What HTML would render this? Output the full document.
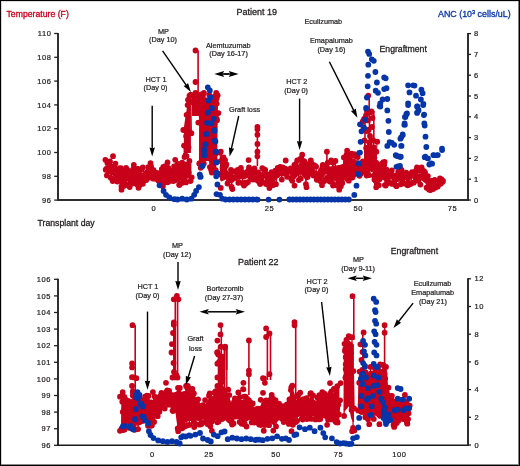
<!DOCTYPE html>
<html><head><meta charset="utf-8"><style>
html,body{margin:0;padding:0;background:#fff;}
body{width:520px;height:466px;overflow:hidden;}
svg{display:block;font-family:"Liberation Sans",sans-serif;will-change:transform;}
</style></head><body>
<svg width="520" height="466" viewBox="0 0 520 466">
<rect x="0" y="0" width="520" height="466" fill="#fff"/>
<line x1="58.00" y1="32.90" x2="58.00" y2="201.00" stroke="#2e2e2e" stroke-width="2.0"/>
<line x1="54.20" y1="200.10" x2="58.00" y2="200.10" stroke="#231f20" stroke-width="1.3"/>
<text x="51.60" y="202.70" font-size="7.5" fill="#231f20" stroke="#231f20" stroke-width="0.22" text-anchor="end" letter-spacing="0.6">96</text>
<line x1="54.20" y1="176.30" x2="58.00" y2="176.30" stroke="#231f20" stroke-width="1.3"/>
<text x="51.60" y="178.90" font-size="7.5" fill="#231f20" stroke="#231f20" stroke-width="0.22" text-anchor="end" letter-spacing="0.6">98</text>
<line x1="54.20" y1="152.50" x2="58.00" y2="152.50" stroke="#231f20" stroke-width="1.3"/>
<text x="51.60" y="155.10" font-size="7.5" fill="#231f20" stroke="#231f20" stroke-width="0.22" text-anchor="end" letter-spacing="0.6">100</text>
<line x1="54.20" y1="128.70" x2="58.00" y2="128.70" stroke="#231f20" stroke-width="1.3"/>
<text x="51.60" y="131.30" font-size="7.5" fill="#231f20" stroke="#231f20" stroke-width="0.22" text-anchor="end" letter-spacing="0.6">102</text>
<line x1="54.20" y1="104.90" x2="58.00" y2="104.90" stroke="#231f20" stroke-width="1.3"/>
<text x="51.60" y="107.50" font-size="7.5" fill="#231f20" stroke="#231f20" stroke-width="0.22" text-anchor="end" letter-spacing="0.6">104</text>
<line x1="54.20" y1="81.10" x2="58.00" y2="81.10" stroke="#231f20" stroke-width="1.3"/>
<text x="51.60" y="83.70" font-size="7.5" fill="#231f20" stroke="#231f20" stroke-width="0.22" text-anchor="end" letter-spacing="0.6">106</text>
<line x1="54.20" y1="57.30" x2="58.00" y2="57.30" stroke="#231f20" stroke-width="1.3"/>
<text x="51.60" y="59.90" font-size="7.5" fill="#231f20" stroke="#231f20" stroke-width="0.22" text-anchor="end" letter-spacing="0.6">108</text>
<line x1="54.20" y1="33.50" x2="58.00" y2="33.50" stroke="#231f20" stroke-width="1.3"/>
<text x="51.60" y="36.10" font-size="7.5" fill="#231f20" stroke="#231f20" stroke-width="0.22" text-anchor="end" letter-spacing="0.6">110</text>
<line x1="57.00" y1="200.00" x2="469.00" y2="200.00" stroke="#2e2e2e" stroke-width="2.0"/>
<line x1="468.00" y1="33.00" x2="468.00" y2="201.00" stroke="#2e2e2e" stroke-width="2.0"/>
<line x1="468.00" y1="200.00" x2="471.00" y2="200.00" stroke="#231f20" stroke-width="1.3"/>
<text x="474.00" y="202.60" font-size="7.5" fill="#231f20" stroke="#231f20" stroke-width="0.22" text-anchor="start" letter-spacing="0.6">0</text>
<line x1="468.00" y1="179.20" x2="471.00" y2="179.20" stroke="#231f20" stroke-width="1.3"/>
<text x="474.00" y="181.80" font-size="7.5" fill="#231f20" stroke="#231f20" stroke-width="0.22" text-anchor="start" letter-spacing="0.6">1</text>
<line x1="468.00" y1="158.40" x2="471.00" y2="158.40" stroke="#231f20" stroke-width="1.3"/>
<text x="474.00" y="161.00" font-size="7.5" fill="#231f20" stroke="#231f20" stroke-width="0.22" text-anchor="start" letter-spacing="0.6">2</text>
<line x1="468.00" y1="137.60" x2="471.00" y2="137.60" stroke="#231f20" stroke-width="1.3"/>
<text x="474.00" y="140.20" font-size="7.5" fill="#231f20" stroke="#231f20" stroke-width="0.22" text-anchor="start" letter-spacing="0.6">3</text>
<line x1="468.00" y1="116.80" x2="471.00" y2="116.80" stroke="#231f20" stroke-width="1.3"/>
<text x="474.00" y="119.40" font-size="7.5" fill="#231f20" stroke="#231f20" stroke-width="0.22" text-anchor="start" letter-spacing="0.6">4</text>
<line x1="468.00" y1="96.00" x2="471.00" y2="96.00" stroke="#231f20" stroke-width="1.3"/>
<text x="474.00" y="98.60" font-size="7.5" fill="#231f20" stroke="#231f20" stroke-width="0.22" text-anchor="start" letter-spacing="0.6">5</text>
<line x1="468.00" y1="75.20" x2="471.00" y2="75.20" stroke="#231f20" stroke-width="1.3"/>
<text x="474.00" y="77.80" font-size="7.5" fill="#231f20" stroke="#231f20" stroke-width="0.22" text-anchor="start" letter-spacing="0.6">6</text>
<line x1="468.00" y1="54.40" x2="471.00" y2="54.40" stroke="#231f20" stroke-width="1.3"/>
<text x="474.00" y="57.00" font-size="7.5" fill="#231f20" stroke="#231f20" stroke-width="0.22" text-anchor="start" letter-spacing="0.6">7</text>
<line x1="468.00" y1="33.60" x2="471.00" y2="33.60" stroke="#231f20" stroke-width="1.3"/>
<text x="474.00" y="36.20" font-size="7.5" fill="#231f20" stroke="#231f20" stroke-width="0.22" text-anchor="start" letter-spacing="0.6">8</text>
<text x="153.80" y="210.60" font-size="7.5" fill="#231f20" stroke="#231f20" stroke-width="0.22" text-anchor="middle" letter-spacing="0.6">0</text>
<text x="269.60" y="210.60" font-size="7.5" fill="#231f20" stroke="#231f20" stroke-width="0.22" text-anchor="middle" letter-spacing="0.6">25</text>
<text x="358.30" y="210.60" font-size="7.5" fill="#231f20" stroke="#231f20" stroke-width="0.22" text-anchor="middle" letter-spacing="0.6">50</text>
<text x="452.40" y="210.60" font-size="7.5" fill="#231f20" stroke="#231f20" stroke-width="0.22" text-anchor="middle" letter-spacing="0.6">75</text>
<line x1="58.00" y1="278.70" x2="58.00" y2="446.00" stroke="#2e2e2e" stroke-width="2.0"/>
<line x1="54.00" y1="445.30" x2="58.00" y2="445.30" stroke="#231f20" stroke-width="1.3"/>
<text x="51.00" y="447.90" font-size="7.5" fill="#231f20" stroke="#231f20" stroke-width="0.22" text-anchor="end" letter-spacing="0.6">96</text>
<line x1="54.00" y1="428.70" x2="58.00" y2="428.70" stroke="#231f20" stroke-width="1.3"/>
<text x="51.00" y="431.30" font-size="7.5" fill="#231f20" stroke="#231f20" stroke-width="0.22" text-anchor="end" letter-spacing="0.6">97</text>
<line x1="54.00" y1="412.10" x2="58.00" y2="412.10" stroke="#231f20" stroke-width="1.3"/>
<text x="51.00" y="414.70" font-size="7.5" fill="#231f20" stroke="#231f20" stroke-width="0.22" text-anchor="end" letter-spacing="0.6">98</text>
<line x1="54.00" y1="395.50" x2="58.00" y2="395.50" stroke="#231f20" stroke-width="1.3"/>
<text x="51.00" y="398.10" font-size="7.5" fill="#231f20" stroke="#231f20" stroke-width="0.22" text-anchor="end" letter-spacing="0.6">99</text>
<line x1="54.00" y1="378.90" x2="58.00" y2="378.90" stroke="#231f20" stroke-width="1.3"/>
<text x="51.00" y="381.50" font-size="7.5" fill="#231f20" stroke="#231f20" stroke-width="0.22" text-anchor="end" letter-spacing="0.6">100</text>
<line x1="54.00" y1="362.30" x2="58.00" y2="362.30" stroke="#231f20" stroke-width="1.3"/>
<text x="51.00" y="364.90" font-size="7.5" fill="#231f20" stroke="#231f20" stroke-width="0.22" text-anchor="end" letter-spacing="0.6">101</text>
<line x1="54.00" y1="345.70" x2="58.00" y2="345.70" stroke="#231f20" stroke-width="1.3"/>
<text x="51.00" y="348.30" font-size="7.5" fill="#231f20" stroke="#231f20" stroke-width="0.22" text-anchor="end" letter-spacing="0.6">102</text>
<line x1="54.00" y1="329.10" x2="58.00" y2="329.10" stroke="#231f20" stroke-width="1.3"/>
<text x="51.00" y="331.70" font-size="7.5" fill="#231f20" stroke="#231f20" stroke-width="0.22" text-anchor="end" letter-spacing="0.6">103</text>
<line x1="54.00" y1="312.50" x2="58.00" y2="312.50" stroke="#231f20" stroke-width="1.3"/>
<text x="51.00" y="315.10" font-size="7.5" fill="#231f20" stroke="#231f20" stroke-width="0.22" text-anchor="end" letter-spacing="0.6">104</text>
<line x1="54.00" y1="295.90" x2="58.00" y2="295.90" stroke="#231f20" stroke-width="1.3"/>
<text x="51.00" y="298.50" font-size="7.5" fill="#231f20" stroke="#231f20" stroke-width="0.22" text-anchor="end" letter-spacing="0.6">105</text>
<line x1="54.00" y1="279.30" x2="58.00" y2="279.30" stroke="#231f20" stroke-width="1.3"/>
<text x="51.00" y="281.90" font-size="7.5" fill="#231f20" stroke="#231f20" stroke-width="0.22" text-anchor="end" letter-spacing="0.6">106</text>
<line x1="57.00" y1="445.20" x2="469.00" y2="445.20" stroke="#1a1a1a" stroke-width="1.6"/>
<line x1="468.00" y1="278.20" x2="468.00" y2="446.00" stroke="#2e2e2e" stroke-width="2.0"/>
<line x1="468.00" y1="445.00" x2="471.00" y2="445.00" stroke="#231f20" stroke-width="1.3"/>
<text x="474.60" y="447.60" font-size="7.5" fill="#231f20" stroke="#231f20" stroke-width="0.22" text-anchor="start" letter-spacing="0.6">0</text>
<line x1="468.00" y1="417.30" x2="471.00" y2="417.30" stroke="#231f20" stroke-width="1.3"/>
<text x="474.60" y="419.90" font-size="7.5" fill="#231f20" stroke="#231f20" stroke-width="0.22" text-anchor="start" letter-spacing="0.6">2</text>
<line x1="468.00" y1="389.60" x2="471.00" y2="389.60" stroke="#231f20" stroke-width="1.3"/>
<text x="474.60" y="392.20" font-size="7.5" fill="#231f20" stroke="#231f20" stroke-width="0.22" text-anchor="start" letter-spacing="0.6">4</text>
<line x1="468.00" y1="361.90" x2="471.00" y2="361.90" stroke="#231f20" stroke-width="1.3"/>
<text x="474.60" y="364.50" font-size="7.5" fill="#231f20" stroke="#231f20" stroke-width="0.22" text-anchor="start" letter-spacing="0.6">6</text>
<line x1="468.00" y1="334.20" x2="471.00" y2="334.20" stroke="#231f20" stroke-width="1.3"/>
<text x="474.60" y="336.80" font-size="7.5" fill="#231f20" stroke="#231f20" stroke-width="0.22" text-anchor="start" letter-spacing="0.6">8</text>
<line x1="468.00" y1="306.50" x2="471.00" y2="306.50" stroke="#231f20" stroke-width="1.3"/>
<text x="474.60" y="309.10" font-size="7.5" fill="#231f20" stroke="#231f20" stroke-width="0.22" text-anchor="start" letter-spacing="0.6">10</text>
<line x1="468.00" y1="278.80" x2="471.00" y2="278.80" stroke="#231f20" stroke-width="1.3"/>
<text x="474.60" y="281.40" font-size="7.5" fill="#231f20" stroke="#231f20" stroke-width="0.22" text-anchor="start" letter-spacing="0.6">12</text>
<text x="152.40" y="457.30" font-size="7.5" fill="#231f20" stroke="#231f20" stroke-width="0.22" text-anchor="middle" letter-spacing="0.6">0</text>
<text x="209.00" y="457.30" font-size="7.5" fill="#231f20" stroke="#231f20" stroke-width="0.22" text-anchor="middle" letter-spacing="0.6">25</text>
<text x="275.90" y="457.30" font-size="7.5" fill="#231f20" stroke="#231f20" stroke-width="0.22" text-anchor="middle" letter-spacing="0.6">50</text>
<text x="338.50" y="457.30" font-size="7.5" fill="#231f20" stroke="#231f20" stroke-width="0.22" text-anchor="middle" letter-spacing="0.6">75</text>
<text x="399.30" y="457.30" font-size="7.5" fill="#231f20" stroke="#231f20" stroke-width="0.22" text-anchor="middle" letter-spacing="0.6">100</text>
<polygon points="105.4,165.7 106.4,165.6 107.4,165.5 108.4,165.2 109.4,164.7 110.4,164.2 111.4,163.9 112.4,163.9 113.4,163.9 114.4,164.7 115.4,166.7 116.4,168.4 117.4,169.5 118.4,170.7 119.4,171.6 120.4,172.0 121.4,172.4 122.4,172.8 123.4,173.2 124.4,173.3 125.4,173.2 126.4,173.1 127.4,173.0 128.4,172.7 129.4,172.2 130.4,171.7 131.4,171.2 132.4,171.0 133.4,171.2 134.4,171.5 135.4,171.8 136.4,172.0 137.4,172.3 138.4,172.6 139.4,172.9 140.4,173.2 141.4,173.3 142.4,173.1 143.4,172.8 144.4,172.6 145.4,172.1 146.4,171.3 147.4,170.6 148.4,169.8 149.4,169.5 150.4,169.6 151.4,169.8 152.4,170.4 153.4,171.5 154.4,172.7 155.4,173.4 156.4,173.4 157.4,173.4 158.4,173.4 159.4,173.2 160.4,172.5 161.4,171.9 162.4,171.3 163.4,170.6 164.4,169.7 165.4,168.9 166.4,168.5 167.4,168.6 168.4,168.7 169.4,168.8 170.4,168.7 171.4,168.0 172.4,167.4 173.4,166.8 174.4,166.5 175.4,166.6 176.4,166.7 177.4,166.8 178.4,166.6 179.4,166.0 180.4,165.3 181.4,164.8 182.4,164.6 183.4,164.4 184.4,164.2 185.4,164.0 186.4,163.9 187.4,163.7 188.4,163.6 189.4,163.5 190.4,163.4 191.4,163.3 191.4,177.5 190.4,177.9 189.4,178.2 188.4,178.5 187.4,178.8 186.4,179.0 185.4,179.3 184.4,179.6 183.4,179.9 182.4,180.2 181.4,180.5 180.4,179.9 179.4,178.7 178.4,177.6 177.4,177.2 176.4,177.5 175.4,177.8 174.4,178.0 173.4,178.2 172.4,178.3 171.4,178.5 170.4,178.6 169.4,178.5 168.4,178.4 167.4,178.3 166.4,178.1 165.4,178.5 164.4,179.1 163.4,179.8 162.4,179.8 161.4,179.1 160.4,178.5 159.4,177.9 158.4,177.2 157.4,176.6 156.4,176.0 155.4,175.5 154.4,175.1 153.4,174.7 152.4,174.3 151.4,174.3 150.4,174.6 149.4,175.0 148.4,175.7 147.4,176.7 146.4,177.7 145.4,178.5 144.4,179.1 143.4,179.7 142.4,180.3 141.4,180.8 140.4,181.1 139.4,181.3 138.4,181.6 137.4,181.6 136.4,181.6 135.4,181.6 134.4,181.6 133.4,181.5 132.4,181.4 131.4,181.3 130.4,181.2 129.4,181.1 128.4,181.2 127.4,181.3 126.4,181.5 125.4,181.6 124.4,181.9 123.4,182.5 122.4,183.1 121.4,183.5 120.4,182.5 119.4,181.5 118.4,180.5 117.4,179.5 116.4,178.5 115.4,177.5 114.4,176.5 113.4,175.7 112.4,175.1 111.4,174.5 110.4,173.8 109.4,173.4 108.4,173.0 107.4,172.6 106.4,172.2 105.4,172.0" fill="#c8001a"/>
<path d="M105.7,169.7L106.2,169.0L106.9,175.4L107.4,162.9L108.3,162.9L109.2,162.9L109.4,171.0L110.0,161.3L110.7,177.7L111.9,168.2L112.4,172.2L113.0,168.9L114.0,179.9L114.3,167.1L115.4,163.6L115.8,179.2L116.3,179.9L117.3,181.6L117.7,173.3L118.6,180.9L119.7,168.2L119.9,170.0L121.0,168.2L121.5,186.5L122.0,185.7L122.9,171.0L123.9,185.9L124.5,174.4L125.2,184.8L126.0,170.8L126.6,184.9L126.8,173.9L127.6,170.1L128.5,174.8L129.2,176.5L129.7,171.1L130.4,182.0L131.6,183.8L132.2,183.5L132.5,174.8L133.2,169.2L134.3,172.1L134.6,172.9L135.3,169.0L136.3,183.0L136.7,184.2L137.6,168.9L138.2,168.9L138.9,171.0L139.8,184.9L140.2,178.5L141.3,169.4L141.5,184.1L142.6,176.4L142.9,183.8L144.1,179.5L144.8,178.7L145.4,173.2L146.0,180.2L146.7,179.5L147.4,172.0L148.2,167.2L148.9,177.6L149.5,175.4L150.0,176.6L151.0,166.1L151.7,168.7L152.6,173.6L152.9,178.5L153.5,170.1L154.4,175.6L155.2,172.7L156.0,178.9L156.4,178.7L157.0,172.9L158.1,179.0L158.5,180.7L159.2,180.9L160.1,181.4L160.9,172.9L161.1,174.8L161.8,169.2L162.7,176.7L163.3,166.8L164.4,166.3L164.6,182.5L165.7,172.6L166.6,178.7L167.0,168.1L167.7,182.3L168.3,167.9L169.1,177.1L169.7,178.2L170.3,180.9L171.0,177.4L172.1,175.4L172.8,174.1L173.3,181.1L174.1,166.4L174.8,175.0L175.7,180.0L176.3,172.8L177.0,179.7L177.5,164.4L178.2,177.0L178.6,163.9L179.5,165.5L180.1,164.5L181.2,178.0L181.7,183.1L182.2,162.6L183.2,167.3L184.0,172.6L184.4,167.5L185.0,181.0L185.9,182.4L186.6,164.5L187.0,173.7L187.9,171.5L188.7,172.4L189.4,161.0L190.4,181.1L190.6,180.8L191.7,177.3" stroke="#c8001a" stroke-width="1.2" fill="none"/>
<path d="M102.8,169.7a2.9,2.9 0 1,0 5.8,0a2.9,2.9 0 1,0 -5.8,0M103.3,169.0a2.9,2.9 0 1,0 5.8,0a2.9,2.9 0 1,0 -5.8,0M104.0,175.4a2.9,2.9 0 1,0 5.8,0a2.9,2.9 0 1,0 -5.8,0M104.5,162.9a2.9,2.9 0 1,0 5.8,0a2.9,2.9 0 1,0 -5.8,0M105.4,162.9a2.9,2.9 0 1,0 5.8,0a2.9,2.9 0 1,0 -5.8,0M106.3,162.9a2.9,2.9 0 1,0 5.8,0a2.9,2.9 0 1,0 -5.8,0M106.5,171.0a2.9,2.9 0 1,0 5.8,0a2.9,2.9 0 1,0 -5.8,0M107.1,161.3a2.9,2.9 0 1,0 5.8,0a2.9,2.9 0 1,0 -5.8,0M107.8,177.7a2.9,2.9 0 1,0 5.8,0a2.9,2.9 0 1,0 -5.8,0M109.0,168.2a2.9,2.9 0 1,0 5.8,0a2.9,2.9 0 1,0 -5.8,0M109.5,172.2a2.9,2.9 0 1,0 5.8,0a2.9,2.9 0 1,0 -5.8,0M110.1,168.9a2.9,2.9 0 1,0 5.8,0a2.9,2.9 0 1,0 -5.8,0M111.1,179.9a2.9,2.9 0 1,0 5.8,0a2.9,2.9 0 1,0 -5.8,0M111.4,167.1a2.9,2.9 0 1,0 5.8,0a2.9,2.9 0 1,0 -5.8,0M112.5,163.6a2.9,2.9 0 1,0 5.8,0a2.9,2.9 0 1,0 -5.8,0M112.9,179.2a2.9,2.9 0 1,0 5.8,0a2.9,2.9 0 1,0 -5.8,0M113.4,179.9a2.9,2.9 0 1,0 5.8,0a2.9,2.9 0 1,0 -5.8,0M114.4,181.6a2.9,2.9 0 1,0 5.8,0a2.9,2.9 0 1,0 -5.8,0M114.8,173.3a2.9,2.9 0 1,0 5.8,0a2.9,2.9 0 1,0 -5.8,0M115.7,180.9a2.9,2.9 0 1,0 5.8,0a2.9,2.9 0 1,0 -5.8,0M116.8,168.2a2.9,2.9 0 1,0 5.8,0a2.9,2.9 0 1,0 -5.8,0M117.0,170.0a2.9,2.9 0 1,0 5.8,0a2.9,2.9 0 1,0 -5.8,0M118.1,168.2a2.9,2.9 0 1,0 5.8,0a2.9,2.9 0 1,0 -5.8,0M118.6,186.5a2.9,2.9 0 1,0 5.8,0a2.9,2.9 0 1,0 -5.8,0M119.1,185.7a2.9,2.9 0 1,0 5.8,0a2.9,2.9 0 1,0 -5.8,0M120.0,171.0a2.9,2.9 0 1,0 5.8,0a2.9,2.9 0 1,0 -5.8,0M121.0,185.9a2.9,2.9 0 1,0 5.8,0a2.9,2.9 0 1,0 -5.8,0M121.6,174.4a2.9,2.9 0 1,0 5.8,0a2.9,2.9 0 1,0 -5.8,0M122.3,184.8a2.9,2.9 0 1,0 5.8,0a2.9,2.9 0 1,0 -5.8,0M123.1,170.8a2.9,2.9 0 1,0 5.8,0a2.9,2.9 0 1,0 -5.8,0M123.7,184.9a2.9,2.9 0 1,0 5.8,0a2.9,2.9 0 1,0 -5.8,0M123.9,173.9a2.9,2.9 0 1,0 5.8,0a2.9,2.9 0 1,0 -5.8,0M124.7,170.1a2.9,2.9 0 1,0 5.8,0a2.9,2.9 0 1,0 -5.8,0M125.6,174.8a2.9,2.9 0 1,0 5.8,0a2.9,2.9 0 1,0 -5.8,0M126.3,176.5a2.9,2.9 0 1,0 5.8,0a2.9,2.9 0 1,0 -5.8,0M126.8,171.1a2.9,2.9 0 1,0 5.8,0a2.9,2.9 0 1,0 -5.8,0M127.5,182.0a2.9,2.9 0 1,0 5.8,0a2.9,2.9 0 1,0 -5.8,0M128.7,183.8a2.9,2.9 0 1,0 5.8,0a2.9,2.9 0 1,0 -5.8,0M129.3,183.5a2.9,2.9 0 1,0 5.8,0a2.9,2.9 0 1,0 -5.8,0M129.6,174.8a2.9,2.9 0 1,0 5.8,0a2.9,2.9 0 1,0 -5.8,0M130.3,169.2a2.9,2.9 0 1,0 5.8,0a2.9,2.9 0 1,0 -5.8,0M131.4,172.1a2.9,2.9 0 1,0 5.8,0a2.9,2.9 0 1,0 -5.8,0M131.7,172.9a2.9,2.9 0 1,0 5.8,0a2.9,2.9 0 1,0 -5.8,0M132.4,169.0a2.9,2.9 0 1,0 5.8,0a2.9,2.9 0 1,0 -5.8,0M133.4,183.0a2.9,2.9 0 1,0 5.8,0a2.9,2.9 0 1,0 -5.8,0M133.8,184.2a2.9,2.9 0 1,0 5.8,0a2.9,2.9 0 1,0 -5.8,0M134.7,168.9a2.9,2.9 0 1,0 5.8,0a2.9,2.9 0 1,0 -5.8,0M135.3,168.9a2.9,2.9 0 1,0 5.8,0a2.9,2.9 0 1,0 -5.8,0M136.0,171.0a2.9,2.9 0 1,0 5.8,0a2.9,2.9 0 1,0 -5.8,0M136.9,184.9a2.9,2.9 0 1,0 5.8,0a2.9,2.9 0 1,0 -5.8,0M137.3,178.5a2.9,2.9 0 1,0 5.8,0a2.9,2.9 0 1,0 -5.8,0M138.4,169.4a2.9,2.9 0 1,0 5.8,0a2.9,2.9 0 1,0 -5.8,0M138.6,184.1a2.9,2.9 0 1,0 5.8,0a2.9,2.9 0 1,0 -5.8,0M139.7,176.4a2.9,2.9 0 1,0 5.8,0a2.9,2.9 0 1,0 -5.8,0M140.0,183.8a2.9,2.9 0 1,0 5.8,0a2.9,2.9 0 1,0 -5.8,0M141.2,179.5a2.9,2.9 0 1,0 5.8,0a2.9,2.9 0 1,0 -5.8,0M141.9,178.7a2.9,2.9 0 1,0 5.8,0a2.9,2.9 0 1,0 -5.8,0M142.5,173.2a2.9,2.9 0 1,0 5.8,0a2.9,2.9 0 1,0 -5.8,0M143.1,180.2a2.9,2.9 0 1,0 5.8,0a2.9,2.9 0 1,0 -5.8,0M143.8,179.5a2.9,2.9 0 1,0 5.8,0a2.9,2.9 0 1,0 -5.8,0M144.5,172.0a2.9,2.9 0 1,0 5.8,0a2.9,2.9 0 1,0 -5.8,0M145.3,167.2a2.9,2.9 0 1,0 5.8,0a2.9,2.9 0 1,0 -5.8,0M146.0,177.6a2.9,2.9 0 1,0 5.8,0a2.9,2.9 0 1,0 -5.8,0M146.6,175.4a2.9,2.9 0 1,0 5.8,0a2.9,2.9 0 1,0 -5.8,0M147.1,176.6a2.9,2.9 0 1,0 5.8,0a2.9,2.9 0 1,0 -5.8,0M148.1,166.1a2.9,2.9 0 1,0 5.8,0a2.9,2.9 0 1,0 -5.8,0M148.8,168.7a2.9,2.9 0 1,0 5.8,0a2.9,2.9 0 1,0 -5.8,0M149.7,173.6a2.9,2.9 0 1,0 5.8,0a2.9,2.9 0 1,0 -5.8,0M150.0,178.5a2.9,2.9 0 1,0 5.8,0a2.9,2.9 0 1,0 -5.8,0M150.6,170.1a2.9,2.9 0 1,0 5.8,0a2.9,2.9 0 1,0 -5.8,0M151.5,175.6a2.9,2.9 0 1,0 5.8,0a2.9,2.9 0 1,0 -5.8,0M152.3,172.7a2.9,2.9 0 1,0 5.8,0a2.9,2.9 0 1,0 -5.8,0M153.1,178.9a2.9,2.9 0 1,0 5.8,0a2.9,2.9 0 1,0 -5.8,0M153.5,178.7a2.9,2.9 0 1,0 5.8,0a2.9,2.9 0 1,0 -5.8,0M154.1,172.9a2.9,2.9 0 1,0 5.8,0a2.9,2.9 0 1,0 -5.8,0M155.2,179.0a2.9,2.9 0 1,0 5.8,0a2.9,2.9 0 1,0 -5.8,0M155.6,180.7a2.9,2.9 0 1,0 5.8,0a2.9,2.9 0 1,0 -5.8,0M156.3,180.9a2.9,2.9 0 1,0 5.8,0a2.9,2.9 0 1,0 -5.8,0M157.2,181.4a2.9,2.9 0 1,0 5.8,0a2.9,2.9 0 1,0 -5.8,0M158.0,172.9a2.9,2.9 0 1,0 5.8,0a2.9,2.9 0 1,0 -5.8,0M158.2,174.8a2.9,2.9 0 1,0 5.8,0a2.9,2.9 0 1,0 -5.8,0M158.9,169.2a2.9,2.9 0 1,0 5.8,0a2.9,2.9 0 1,0 -5.8,0M159.8,176.7a2.9,2.9 0 1,0 5.8,0a2.9,2.9 0 1,0 -5.8,0M160.4,166.8a2.9,2.9 0 1,0 5.8,0a2.9,2.9 0 1,0 -5.8,0M161.5,166.3a2.9,2.9 0 1,0 5.8,0a2.9,2.9 0 1,0 -5.8,0M161.7,182.5a2.9,2.9 0 1,0 5.8,0a2.9,2.9 0 1,0 -5.8,0M162.8,172.6a2.9,2.9 0 1,0 5.8,0a2.9,2.9 0 1,0 -5.8,0M163.7,178.7a2.9,2.9 0 1,0 5.8,0a2.9,2.9 0 1,0 -5.8,0M164.1,168.1a2.9,2.9 0 1,0 5.8,0a2.9,2.9 0 1,0 -5.8,0M164.8,182.3a2.9,2.9 0 1,0 5.8,0a2.9,2.9 0 1,0 -5.8,0M165.4,167.9a2.9,2.9 0 1,0 5.8,0a2.9,2.9 0 1,0 -5.8,0M166.2,177.1a2.9,2.9 0 1,0 5.8,0a2.9,2.9 0 1,0 -5.8,0M166.8,178.2a2.9,2.9 0 1,0 5.8,0a2.9,2.9 0 1,0 -5.8,0M167.4,180.9a2.9,2.9 0 1,0 5.8,0a2.9,2.9 0 1,0 -5.8,0M168.1,177.4a2.9,2.9 0 1,0 5.8,0a2.9,2.9 0 1,0 -5.8,0M169.2,175.4a2.9,2.9 0 1,0 5.8,0a2.9,2.9 0 1,0 -5.8,0M169.9,174.1a2.9,2.9 0 1,0 5.8,0a2.9,2.9 0 1,0 -5.8,0M170.4,181.1a2.9,2.9 0 1,0 5.8,0a2.9,2.9 0 1,0 -5.8,0M171.2,166.4a2.9,2.9 0 1,0 5.8,0a2.9,2.9 0 1,0 -5.8,0M171.9,175.0a2.9,2.9 0 1,0 5.8,0a2.9,2.9 0 1,0 -5.8,0M172.8,180.0a2.9,2.9 0 1,0 5.8,0a2.9,2.9 0 1,0 -5.8,0M173.4,172.8a2.9,2.9 0 1,0 5.8,0a2.9,2.9 0 1,0 -5.8,0M174.1,179.7a2.9,2.9 0 1,0 5.8,0a2.9,2.9 0 1,0 -5.8,0M174.6,164.4a2.9,2.9 0 1,0 5.8,0a2.9,2.9 0 1,0 -5.8,0M175.3,177.0a2.9,2.9 0 1,0 5.8,0a2.9,2.9 0 1,0 -5.8,0M175.7,163.9a2.9,2.9 0 1,0 5.8,0a2.9,2.9 0 1,0 -5.8,0M176.6,165.5a2.9,2.9 0 1,0 5.8,0a2.9,2.9 0 1,0 -5.8,0M177.2,164.5a2.9,2.9 0 1,0 5.8,0a2.9,2.9 0 1,0 -5.8,0M178.3,178.0a2.9,2.9 0 1,0 5.8,0a2.9,2.9 0 1,0 -5.8,0M178.8,183.1a2.9,2.9 0 1,0 5.8,0a2.9,2.9 0 1,0 -5.8,0M179.3,162.6a2.9,2.9 0 1,0 5.8,0a2.9,2.9 0 1,0 -5.8,0M180.3,167.3a2.9,2.9 0 1,0 5.8,0a2.9,2.9 0 1,0 -5.8,0M181.1,172.6a2.9,2.9 0 1,0 5.8,0a2.9,2.9 0 1,0 -5.8,0M181.5,167.5a2.9,2.9 0 1,0 5.8,0a2.9,2.9 0 1,0 -5.8,0M182.1,181.0a2.9,2.9 0 1,0 5.8,0a2.9,2.9 0 1,0 -5.8,0M183.0,182.4a2.9,2.9 0 1,0 5.8,0a2.9,2.9 0 1,0 -5.8,0M183.7,164.5a2.9,2.9 0 1,0 5.8,0a2.9,2.9 0 1,0 -5.8,0M184.1,173.7a2.9,2.9 0 1,0 5.8,0a2.9,2.9 0 1,0 -5.8,0M185.0,171.5a2.9,2.9 0 1,0 5.8,0a2.9,2.9 0 1,0 -5.8,0M185.8,172.4a2.9,2.9 0 1,0 5.8,0a2.9,2.9 0 1,0 -5.8,0M186.5,161.0a2.9,2.9 0 1,0 5.8,0a2.9,2.9 0 1,0 -5.8,0M187.5,181.1a2.9,2.9 0 1,0 5.8,0a2.9,2.9 0 1,0 -5.8,0M187.7,180.8a2.9,2.9 0 1,0 5.8,0a2.9,2.9 0 1,0 -5.8,0M188.8,177.3a2.9,2.9 0 1,0 5.8,0a2.9,2.9 0 1,0 -5.8,0" fill="#c8001a"/>
<polygon points="183.9,127.6 184.9,120.6 185.9,114.5 186.9,108.5 187.9,103.4 188.9,98.4 189.9,97.9 190.9,97.9 190.9,153.1 189.9,153.1 188.9,153.1 187.9,153.1 186.9,153.1 185.9,153.1 184.9,153.1 183.9,153.1" fill="#c8001a"/>
<path d="M184.0,145.6L184.5,157.1L185.4,155.5L186.1,136.2L186.5,156.2L187.6,105.1L188.0,99.8L188.5,147.3L189.5,95.7L190.5,95.9L190.7,94.7L191.4,133.2" stroke="#c8001a" stroke-width="1.2" fill="none"/>
<path d="M181.1,145.6a2.9,2.9 0 1,0 5.8,0a2.9,2.9 0 1,0 -5.8,0M181.6,157.1a2.9,2.9 0 1,0 5.8,0a2.9,2.9 0 1,0 -5.8,0M182.5,155.5a2.9,2.9 0 1,0 5.8,0a2.9,2.9 0 1,0 -5.8,0M183.2,136.2a2.9,2.9 0 1,0 5.8,0a2.9,2.9 0 1,0 -5.8,0M183.6,156.2a2.9,2.9 0 1,0 5.8,0a2.9,2.9 0 1,0 -5.8,0M184.7,105.1a2.9,2.9 0 1,0 5.8,0a2.9,2.9 0 1,0 -5.8,0M185.1,99.8a2.9,2.9 0 1,0 5.8,0a2.9,2.9 0 1,0 -5.8,0M185.6,147.3a2.9,2.9 0 1,0 5.8,0a2.9,2.9 0 1,0 -5.8,0M186.6,95.7a2.9,2.9 0 1,0 5.8,0a2.9,2.9 0 1,0 -5.8,0M187.6,95.9a2.9,2.9 0 1,0 5.8,0a2.9,2.9 0 1,0 -5.8,0M187.8,94.7a2.9,2.9 0 1,0 5.8,0a2.9,2.9 0 1,0 -5.8,0M188.5,133.2a2.9,2.9 0 1,0 5.8,0a2.9,2.9 0 1,0 -5.8,0" fill="#c8001a"/>
<polygon points="192.0,93.0 200.0,93.0 200.0,116.0 192.0,116.0" fill="#c8001a"/>
<polygon points="199.4,97.4 200.4,97.4 201.4,97.4 202.4,97.4 203.4,97.4 204.4,97.4 205.4,97.4 206.4,97.4 207.4,97.4 208.4,97.4 209.4,97.4 210.4,97.4 211.4,97.4 212.4,97.4 213.4,97.4 214.4,97.4 215.4,97.4 216.4,97.4 217.4,97.4 217.4,158.7 216.4,163.0 215.4,167.4 214.4,169.1 213.4,169.1 212.4,169.1 211.4,167.5 210.4,164.8 209.4,162.2 208.4,161.1 207.4,161.1 206.4,161.1 205.4,161.1 204.4,161.1 203.4,161.1 202.4,161.1 201.4,161.1 200.4,161.1 199.4,161.1" fill="#c8001a"/>
<path d="M199.5,163.7L199.9,106.7L200.9,164.6L201.3,94.5L202.4,124.3L202.8,94.4L203.8,163.4L204.4,152.7L204.9,150.3L205.9,128.3L206.3,124.2L206.9,115.9L208.1,150.6L208.6,133.1L209.2,94.8L209.9,167.1L210.7,168.4L211.3,103.6L211.8,172.6L212.8,99.2L213.5,124.5L213.9,96.8L214.9,160.2L215.7,170.1L216.0,153.2L217.0,120.2L217.7,95.3" stroke="#c8001a" stroke-width="1.2" fill="none"/>
<path d="M196.6,163.7a2.9,2.9 0 1,0 5.8,0a2.9,2.9 0 1,0 -5.8,0M197.0,106.7a2.9,2.9 0 1,0 5.8,0a2.9,2.9 0 1,0 -5.8,0M198.0,164.6a2.9,2.9 0 1,0 5.8,0a2.9,2.9 0 1,0 -5.8,0M198.4,94.5a2.9,2.9 0 1,0 5.8,0a2.9,2.9 0 1,0 -5.8,0M199.5,124.3a2.9,2.9 0 1,0 5.8,0a2.9,2.9 0 1,0 -5.8,0M199.9,94.4a2.9,2.9 0 1,0 5.8,0a2.9,2.9 0 1,0 -5.8,0M200.9,163.4a2.9,2.9 0 1,0 5.8,0a2.9,2.9 0 1,0 -5.8,0M201.5,152.7a2.9,2.9 0 1,0 5.8,0a2.9,2.9 0 1,0 -5.8,0M202.0,150.3a2.9,2.9 0 1,0 5.8,0a2.9,2.9 0 1,0 -5.8,0M203.0,128.3a2.9,2.9 0 1,0 5.8,0a2.9,2.9 0 1,0 -5.8,0M203.4,124.2a2.9,2.9 0 1,0 5.8,0a2.9,2.9 0 1,0 -5.8,0M204.0,115.9a2.9,2.9 0 1,0 5.8,0a2.9,2.9 0 1,0 -5.8,0M205.2,150.6a2.9,2.9 0 1,0 5.8,0a2.9,2.9 0 1,0 -5.8,0M205.7,133.1a2.9,2.9 0 1,0 5.8,0a2.9,2.9 0 1,0 -5.8,0M206.3,94.8a2.9,2.9 0 1,0 5.8,0a2.9,2.9 0 1,0 -5.8,0M207.0,167.1a2.9,2.9 0 1,0 5.8,0a2.9,2.9 0 1,0 -5.8,0M207.8,168.4a2.9,2.9 0 1,0 5.8,0a2.9,2.9 0 1,0 -5.8,0M208.4,103.6a2.9,2.9 0 1,0 5.8,0a2.9,2.9 0 1,0 -5.8,0M208.9,172.6a2.9,2.9 0 1,0 5.8,0a2.9,2.9 0 1,0 -5.8,0M209.9,99.2a2.9,2.9 0 1,0 5.8,0a2.9,2.9 0 1,0 -5.8,0M210.6,124.5a2.9,2.9 0 1,0 5.8,0a2.9,2.9 0 1,0 -5.8,0M211.0,96.8a2.9,2.9 0 1,0 5.8,0a2.9,2.9 0 1,0 -5.8,0M212.0,160.2a2.9,2.9 0 1,0 5.8,0a2.9,2.9 0 1,0 -5.8,0M212.8,170.1a2.9,2.9 0 1,0 5.8,0a2.9,2.9 0 1,0 -5.8,0M213.1,153.2a2.9,2.9 0 1,0 5.8,0a2.9,2.9 0 1,0 -5.8,0M214.1,120.2a2.9,2.9 0 1,0 5.8,0a2.9,2.9 0 1,0 -5.8,0M214.8,95.3a2.9,2.9 0 1,0 5.8,0a2.9,2.9 0 1,0 -5.8,0" fill="#c8001a"/>
<polygon points="219.9,156.1 220.9,156.8 221.9,158.9 222.9,161.2 223.9,163.4 224.9,165.7 225.9,167.4 226.9,169.2 227.9,170.9 228.9,172.1 229.9,172.7 230.9,173.2 231.9,173.8 232.9,174.3 233.9,174.8 234.9,174.7 235.9,174.5 236.9,174.3 237.9,174.1 238.9,173.8 239.9,173.6 240.9,173.4 241.9,172.5 242.9,171.7 243.9,170.8 244.9,170.0 245.9,169.0 246.9,168.1 247.9,167.1 248.9,166.5 249.9,166.9 250.9,167.3 251.9,167.6 252.9,168.0 253.9,168.4 254.9,168.8 255.9,169.3 256.9,169.8 257.9,170.3 258.9,170.8 259.9,171.3 260.9,171.8 261.9,172.2 262.9,172.6 263.9,173.0 264.9,173.4 265.9,173.9 266.9,174.1 267.9,174.3 268.9,174.6 269.9,174.8 270.9,175.0 271.9,175.3 272.9,175.1 273.9,174.5 274.9,173.9 275.9,173.2 276.9,172.6 277.9,171.9 278.9,171.3 279.9,170.5 280.9,169.8 281.9,169.1 282.9,168.4 283.9,167.7 284.9,167.0 285.9,166.6 286.9,167.8 287.9,168.9 288.9,170.0 289.9,171.2 290.9,172.3 291.9,171.5 292.9,170.6 293.9,169.6 294.9,168.6 295.9,167.7 296.9,166.7 297.9,165.6 298.9,164.5 299.9,163.4 300.9,162.3 301.9,161.2 302.9,162.2 303.9,164.1 304.9,165.9 305.9,167.8 306.9,168.7 307.9,168.1 308.9,167.5 309.9,166.9 310.9,166.5 311.9,167.3 312.9,168.1 313.9,168.9 314.9,169.7 315.9,170.5 316.9,171.3 317.9,171.1 318.9,170.8 319.9,170.5 320.9,170.2 321.9,169.9 322.9,169.2 323.9,168.3 324.9,167.5 325.9,166.7 326.9,165.9 327.9,166.0 328.9,166.1 329.9,166.2 330.9,166.4 331.9,166.3 332.9,166.1 333.9,165.9 334.9,165.8 335.9,165.6 336.9,165.4 337.9,165.2 338.9,165.1 339.9,164.9 340.9,164.6 341.9,164.3 342.9,163.9 343.9,161.2 344.9,158.2 345.9,157.9 346.9,157.9 347.9,157.9 348.9,157.9 349.9,157.9 350.9,158.1 351.9,158.3 352.9,158.5 353.9,158.7 354.9,158.9 355.9,159.6 356.9,160.4 357.9,161.5 358.9,163.1 359.9,164.7 360.9,165.2 361.9,165.5 362.9,165.9 363.9,165.9 364.9,165.9 365.9,165.9 366.9,165.9 367.9,165.9 368.9,165.9 369.9,165.9 370.9,165.9 371.9,165.9 372.9,165.9 373.9,165.9 374.9,165.9 375.9,165.9 376.9,165.9 377.9,165.9 378.9,165.9 379.9,165.9 380.9,167.9 381.9,167.9 382.9,167.9 383.9,168.4 384.9,169.4 385.9,170.3 386.9,171.3 387.9,172.3 388.9,172.8 389.9,173.3 390.9,173.8 391.9,174.3 392.9,174.8 393.9,175.3 394.9,175.8 395.9,175.9 396.9,175.9 397.9,175.9 398.9,175.9 399.9,175.9 400.9,176.0 401.9,176.1 402.9,176.2 403.9,176.3 404.9,176.4 405.9,177.0 406.9,177.7 407.9,178.3 408.9,178.1 409.9,177.8 410.9,177.5 411.9,177.2 412.9,176.9 413.9,176.1 414.9,175.2 415.9,174.4 416.9,173.5 417.9,173.4 418.9,173.4 419.9,173.4 420.9,173.4 421.9,173.6 422.9,174.4 423.9,175.1 424.9,175.8 425.9,177.1 426.9,178.4 427.9,179.8 428.9,180.8 429.9,181.7 430.9,182.7 431.9,183.6 432.9,184.3 433.9,183.8 434.9,183.4 435.9,182.9 436.9,182.4 437.9,181.9 438.9,182.0 439.9,182.0 440.9,181.9 441.9,181.9 441.9,181.9 440.9,181.9 439.9,182.0 438.9,182.0 437.9,182.2 436.9,182.7 435.9,183.2 434.9,183.7 433.9,184.1 432.9,184.5 431.9,184.8 430.9,185.1 429.9,185.4 428.9,185.4 427.9,184.8 426.9,184.2 425.9,183.6 424.9,183.0 423.9,182.3 422.9,181.5 421.9,180.8 420.9,180.1 419.9,179.7 418.9,179.3 417.9,179.0 416.9,178.6 415.9,178.3 414.9,177.9 413.9,177.7 412.9,178.2 411.9,178.8 410.9,179.4 409.9,179.9 408.9,180.5 407.9,181.0 406.9,180.5 405.9,179.8 404.9,179.2 403.9,178.7 402.9,179.7 401.9,180.7 400.9,181.6 399.9,181.7 398.9,181.8 397.9,181.9 396.9,182.1 395.9,181.8 394.9,181.2 393.9,180.7 392.9,180.1 391.9,179.6 390.9,179.2 389.9,179.8 388.9,180.4 387.9,181.0 386.9,181.6 385.9,181.2 384.9,180.8 383.9,180.4 382.9,180.0 381.9,179.6 380.9,179.9 379.9,180.1 378.9,180.4 377.9,180.7 376.9,180.9 375.9,180.0 374.9,176.4 373.9,172.8 372.9,169.6 371.9,169.8 370.9,170.0 369.9,170.2 368.9,170.4 367.9,170.6 366.9,170.7 365.9,170.9 364.9,171.1 363.9,171.4 362.9,171.7 361.9,172.0 360.9,172.3 359.9,172.6 358.9,172.8 357.9,173.2 356.9,173.7 355.9,174.2 354.9,174.7 353.9,175.2 352.9,175.7 351.9,176.2 350.9,176.8 349.9,177.3 348.9,177.9 347.9,178.5 346.9,179.0 345.9,179.6 344.9,180.2 343.9,180.8 342.9,181.4 341.9,182.0 340.9,182.6 339.9,183.2 338.9,183.4 337.9,182.8 336.9,182.1 335.9,181.5 334.9,180.8 333.9,180.2 332.9,179.5 331.9,178.7 330.9,177.8 329.9,176.9 328.9,176.1 327.9,175.2 326.9,174.4 325.9,173.7 324.9,175.1 323.9,176.5 322.9,177.9 321.9,179.0 320.9,178.4 319.9,177.9 318.9,177.3 317.9,176.7 316.9,176.1 315.9,175.5 314.9,174.9 313.9,174.3 312.9,173.7 311.9,174.6 310.9,175.8 309.9,177.0 308.9,178.2 307.9,179.4 306.9,180.6 305.9,180.4 304.9,179.2 303.9,178.0 302.9,176.7 301.9,175.5 300.9,174.3 299.9,174.0 298.9,175.0 297.9,176.1 296.9,177.1 295.9,178.2 294.9,179.2 293.9,178.9 292.9,177.8 291.9,176.6 290.9,175.4 289.9,174.3 288.9,173.1 287.9,172.1 286.9,172.6 285.9,173.1 284.9,173.6 283.9,174.1 282.9,174.6 281.9,175.1 280.9,175.8 279.9,176.6 278.9,177.4 277.9,178.2 276.9,179.1 275.9,179.9 274.9,180.4 273.9,180.8 272.9,181.2 271.9,181.6 270.9,182.0 269.9,182.4 268.9,182.1 267.9,181.2 266.9,180.3 265.9,179.4 264.9,178.6 263.9,178.5 262.9,178.4 261.9,178.3 260.9,178.2 259.9,177.9 258.9,177.3 257.9,176.7 256.9,176.1 255.9,175.6 254.9,175.8 253.9,175.9 252.9,176.1 251.9,176.3 250.9,176.4 249.9,176.7 248.9,177.2 247.9,177.7 246.9,178.2 245.9,178.7 244.9,179.2 243.9,179.6 242.9,179.4 241.9,179.3 240.9,179.1 239.9,178.9 238.9,178.8 237.9,178.6 236.9,179.3 235.9,180.2 234.9,181.0 233.9,181.8 232.9,182.7 231.9,182.8 230.9,182.3 229.9,181.7 228.9,181.2 227.9,180.6 226.9,180.1 225.9,179.6 224.9,180.0 223.9,180.4 222.9,180.8 221.9,181.2 220.9,181.6 219.9,179.3" fill="#c8001a"/>
<path d="M220.0,152.5L220.6,161.1L221.5,175.0L222.6,167.4L223.5,157.5L224.3,165.8L225.0,164.5L225.9,166.0L226.4,164.5L227.5,183.5L228.5,175.1L229.0,180.4L229.9,179.9L231.0,170.0L231.6,186.9L232.4,178.5L233.4,171.2L234.1,171.3L235.2,171.1L236.0,177.8L237.0,175.9L237.6,170.0L238.3,182.8L239.5,182.5L240.6,169.9L241.2,173.7L241.9,171.9L242.8,183.2L243.4,183.8L244.6,184.0L245.3,182.7L246.0,183.4L247.3,182.6L248.0,182.1L249.0,167.5L249.7,173.0L250.5,176.8L251.3,169.4L252.4,172.8L253.1,179.6L253.9,179.1L254.5,168.3L255.4,179.3L256.5,180.0L257.2,177.9L257.9,172.4L259.1,182.1L259.7,181.6L260.6,177.5L261.6,177.7L262.3,168.2L263.5,182.4L264.4,169.5L265.2,169.9L266.0,184.0L266.4,184.0L267.3,174.3L268.1,179.6L269.2,183.6L270.3,175.0L271.0,185.6L271.6,172.2L272.8,185.2L273.4,176.2L274.0,184.6L275.3,170.6L276.0,184.2L277.1,174.9L277.7,167.9L278.7,173.4L279.2,172.7L280.2,167.0L280.9,173.0L281.8,179.6L282.6,167.5L283.4,172.0L284.6,173.6L285.2,168.7L286.3,172.0L287.2,176.8L287.9,171.9L288.7,169.4L289.4,169.9L290.7,168.5L291.3,179.1L292.3,180.8L292.9,176.5L294.0,168.0L294.4,164.8L295.8,164.2L296.4,170.4L297.2,168.5L298.0,171.8L298.9,180.0L300.0,159.2L300.8,178.6L301.3,158.4L302.1,171.0L303.4,168.4L304.2,161.2L305.0,166.5L305.9,184.1L306.4,175.6L307.6,176.9L308.1,164.3L309.4,167.1L310.0,162.8L310.9,162.7L311.9,168.5L312.5,167.2L313.5,175.6L314.0,165.1L314.9,165.6L316.1,166.6L316.8,179.8L317.6,179.6L318.5,179.2L319.6,177.5L320.2,181.1L320.9,170.7L322.2,168.2L322.8,164.8L323.5,181.5L324.6,180.7L325.5,167.6L326.4,165.3L327.2,177.8L327.8,162.7L328.7,179.8L329.8,181.5L330.5,176.3L331.5,181.7L332.0,181.8L332.7,162.4L333.8,168.8L334.7,168.8L335.4,161.0L336.3,184.8L337.1,185.6L337.9,171.3L338.9,168.2L339.9,181.7L340.9,186.3L341.4,179.3L342.3,182.9L343.1,169.2L343.9,157.4L345.0,176.5L345.5,174.0L346.5,154.6L347.5,179.0L348.0,158.3L348.8,180.7L349.8,167.8L350.6,156.1L351.5,153.6L352.4,177.6L353.4,175.2L354.2,154.2L354.8,155.6L356.0,155.5L356.5,156.6L357.7,157.0L358.3,173.2L359.5,175.8L360.4,167.2L361.0,173.6L361.7,168.7L362.8,161.5L363.7,163.7L364.7,165.8L365.3,167.3L366.4,161.6L366.7,175.6L367.5,161.0L368.8,175.2L369.4,166.4L370.1,161.7L371.1,168.5L372.3,165.1L373.0,169.5L374.0,175.7L374.4,179.6L375.5,180.8L376.2,162.7L376.9,184.6L378.2,166.5L378.8,185.2L379.6,179.2L380.6,169.4L381.6,164.0L382.2,168.5L383.3,163.8L384.2,164.7L384.9,185.1L385.7,185.5L386.3,169.4L387.2,183.8L388.1,177.3L388.8,182.2L389.7,176.2L390.7,171.4L391.8,170.3L392.3,183.9L393.4,175.5L394.1,181.9L395.2,178.1L395.7,185.3L396.8,177.0L397.8,175.3L398.2,171.9L399.5,171.3L400.1,172.3L400.7,184.3L401.6,173.2L402.7,183.6L403.5,174.0L404.4,183.4L405.0,177.3L406.2,172.6L406.8,184.5L407.7,174.0L408.6,182.9L409.4,175.9L410.0,184.3L411.2,183.4L412.0,172.2L413.0,173.6L413.7,182.7L414.3,173.2L415.5,176.9L416.1,170.5L417.3,180.6L417.7,168.5L418.6,168.9L419.6,170.4L420.4,184.6L421.6,170.0L422.3,170.1L423.2,176.2L424.0,171.1L425.0,172.4L425.7,176.5L426.6,187.7L427.5,180.8L427.9,176.1L428.7,188.9L429.6,184.6L430.5,190.0L431.3,181.0L432.2,180.9L433.1,189.0L433.9,180.9L434.7,179.8L435.7,187.6L436.6,185.8L437.8,186.5L438.1,185.2L439.5,180.6L440.0,178.4L440.7,183.8L441.5,179.3L442.4,181.9" stroke="#c8001a" stroke-width="1.1" fill="none"/>
<path d="M217.1,152.5a2.9,2.9 0 1,0 5.8,0a2.9,2.9 0 1,0 -5.8,0M217.7,161.1a2.9,2.9 0 1,0 5.8,0a2.9,2.9 0 1,0 -5.8,0M218.6,175.0a2.9,2.9 0 1,0 5.8,0a2.9,2.9 0 1,0 -5.8,0M219.7,167.4a2.9,2.9 0 1,0 5.8,0a2.9,2.9 0 1,0 -5.8,0M220.6,157.5a2.9,2.9 0 1,0 5.8,0a2.9,2.9 0 1,0 -5.8,0M221.4,165.8a2.9,2.9 0 1,0 5.8,0a2.9,2.9 0 1,0 -5.8,0M222.1,164.5a2.9,2.9 0 1,0 5.8,0a2.9,2.9 0 1,0 -5.8,0M223.0,166.0a2.9,2.9 0 1,0 5.8,0a2.9,2.9 0 1,0 -5.8,0M223.5,164.5a2.9,2.9 0 1,0 5.8,0a2.9,2.9 0 1,0 -5.8,0M224.6,183.5a2.9,2.9 0 1,0 5.8,0a2.9,2.9 0 1,0 -5.8,0M225.6,175.1a2.9,2.9 0 1,0 5.8,0a2.9,2.9 0 1,0 -5.8,0M226.1,180.4a2.9,2.9 0 1,0 5.8,0a2.9,2.9 0 1,0 -5.8,0M227.0,179.9a2.9,2.9 0 1,0 5.8,0a2.9,2.9 0 1,0 -5.8,0M228.1,170.0a2.9,2.9 0 1,0 5.8,0a2.9,2.9 0 1,0 -5.8,0M228.7,186.9a2.9,2.9 0 1,0 5.8,0a2.9,2.9 0 1,0 -5.8,0M229.5,178.5a2.9,2.9 0 1,0 5.8,0a2.9,2.9 0 1,0 -5.8,0M230.5,171.2a2.9,2.9 0 1,0 5.8,0a2.9,2.9 0 1,0 -5.8,0M231.2,171.3a2.9,2.9 0 1,0 5.8,0a2.9,2.9 0 1,0 -5.8,0M232.3,171.1a2.9,2.9 0 1,0 5.8,0a2.9,2.9 0 1,0 -5.8,0M233.1,177.8a2.9,2.9 0 1,0 5.8,0a2.9,2.9 0 1,0 -5.8,0M234.1,175.9a2.9,2.9 0 1,0 5.8,0a2.9,2.9 0 1,0 -5.8,0M234.7,170.0a2.9,2.9 0 1,0 5.8,0a2.9,2.9 0 1,0 -5.8,0M235.4,182.8a2.9,2.9 0 1,0 5.8,0a2.9,2.9 0 1,0 -5.8,0M236.6,182.5a2.9,2.9 0 1,0 5.8,0a2.9,2.9 0 1,0 -5.8,0M237.7,169.9a2.9,2.9 0 1,0 5.8,0a2.9,2.9 0 1,0 -5.8,0M238.3,173.7a2.9,2.9 0 1,0 5.8,0a2.9,2.9 0 1,0 -5.8,0M239.0,171.9a2.9,2.9 0 1,0 5.8,0a2.9,2.9 0 1,0 -5.8,0M239.9,183.2a2.9,2.9 0 1,0 5.8,0a2.9,2.9 0 1,0 -5.8,0M240.5,183.8a2.9,2.9 0 1,0 5.8,0a2.9,2.9 0 1,0 -5.8,0M241.7,184.0a2.9,2.9 0 1,0 5.8,0a2.9,2.9 0 1,0 -5.8,0M242.4,182.7a2.9,2.9 0 1,0 5.8,0a2.9,2.9 0 1,0 -5.8,0M243.1,183.4a2.9,2.9 0 1,0 5.8,0a2.9,2.9 0 1,0 -5.8,0M244.4,182.6a2.9,2.9 0 1,0 5.8,0a2.9,2.9 0 1,0 -5.8,0M245.1,182.1a2.9,2.9 0 1,0 5.8,0a2.9,2.9 0 1,0 -5.8,0M246.1,167.5a2.9,2.9 0 1,0 5.8,0a2.9,2.9 0 1,0 -5.8,0M246.8,173.0a2.9,2.9 0 1,0 5.8,0a2.9,2.9 0 1,0 -5.8,0M247.6,176.8a2.9,2.9 0 1,0 5.8,0a2.9,2.9 0 1,0 -5.8,0M248.4,169.4a2.9,2.9 0 1,0 5.8,0a2.9,2.9 0 1,0 -5.8,0M249.5,172.8a2.9,2.9 0 1,0 5.8,0a2.9,2.9 0 1,0 -5.8,0M250.2,179.6a2.9,2.9 0 1,0 5.8,0a2.9,2.9 0 1,0 -5.8,0M251.0,179.1a2.9,2.9 0 1,0 5.8,0a2.9,2.9 0 1,0 -5.8,0M251.6,168.3a2.9,2.9 0 1,0 5.8,0a2.9,2.9 0 1,0 -5.8,0M252.5,179.3a2.9,2.9 0 1,0 5.8,0a2.9,2.9 0 1,0 -5.8,0M253.6,180.0a2.9,2.9 0 1,0 5.8,0a2.9,2.9 0 1,0 -5.8,0M254.3,177.9a2.9,2.9 0 1,0 5.8,0a2.9,2.9 0 1,0 -5.8,0M255.0,172.4a2.9,2.9 0 1,0 5.8,0a2.9,2.9 0 1,0 -5.8,0M256.2,182.1a2.9,2.9 0 1,0 5.8,0a2.9,2.9 0 1,0 -5.8,0M256.8,181.6a2.9,2.9 0 1,0 5.8,0a2.9,2.9 0 1,0 -5.8,0M257.7,177.5a2.9,2.9 0 1,0 5.8,0a2.9,2.9 0 1,0 -5.8,0M258.7,177.7a2.9,2.9 0 1,0 5.8,0a2.9,2.9 0 1,0 -5.8,0M259.4,168.2a2.9,2.9 0 1,0 5.8,0a2.9,2.9 0 1,0 -5.8,0M260.6,182.4a2.9,2.9 0 1,0 5.8,0a2.9,2.9 0 1,0 -5.8,0M261.5,169.5a2.9,2.9 0 1,0 5.8,0a2.9,2.9 0 1,0 -5.8,0M262.3,169.9a2.9,2.9 0 1,0 5.8,0a2.9,2.9 0 1,0 -5.8,0M263.1,184.0a2.9,2.9 0 1,0 5.8,0a2.9,2.9 0 1,0 -5.8,0M263.5,184.0a2.9,2.9 0 1,0 5.8,0a2.9,2.9 0 1,0 -5.8,0M264.4,174.3a2.9,2.9 0 1,0 5.8,0a2.9,2.9 0 1,0 -5.8,0M265.2,179.6a2.9,2.9 0 1,0 5.8,0a2.9,2.9 0 1,0 -5.8,0M266.3,183.6a2.9,2.9 0 1,0 5.8,0a2.9,2.9 0 1,0 -5.8,0M267.4,175.0a2.9,2.9 0 1,0 5.8,0a2.9,2.9 0 1,0 -5.8,0M268.1,185.6a2.9,2.9 0 1,0 5.8,0a2.9,2.9 0 1,0 -5.8,0M268.7,172.2a2.9,2.9 0 1,0 5.8,0a2.9,2.9 0 1,0 -5.8,0M269.9,185.2a2.9,2.9 0 1,0 5.8,0a2.9,2.9 0 1,0 -5.8,0M270.5,176.2a2.9,2.9 0 1,0 5.8,0a2.9,2.9 0 1,0 -5.8,0M271.1,184.6a2.9,2.9 0 1,0 5.8,0a2.9,2.9 0 1,0 -5.8,0M272.4,170.6a2.9,2.9 0 1,0 5.8,0a2.9,2.9 0 1,0 -5.8,0M273.1,184.2a2.9,2.9 0 1,0 5.8,0a2.9,2.9 0 1,0 -5.8,0M274.2,174.9a2.9,2.9 0 1,0 5.8,0a2.9,2.9 0 1,0 -5.8,0M274.8,167.9a2.9,2.9 0 1,0 5.8,0a2.9,2.9 0 1,0 -5.8,0M275.8,173.4a2.9,2.9 0 1,0 5.8,0a2.9,2.9 0 1,0 -5.8,0M276.3,172.7a2.9,2.9 0 1,0 5.8,0a2.9,2.9 0 1,0 -5.8,0M277.3,167.0a2.9,2.9 0 1,0 5.8,0a2.9,2.9 0 1,0 -5.8,0M278.0,173.0a2.9,2.9 0 1,0 5.8,0a2.9,2.9 0 1,0 -5.8,0M278.9,179.6a2.9,2.9 0 1,0 5.8,0a2.9,2.9 0 1,0 -5.8,0M279.7,167.5a2.9,2.9 0 1,0 5.8,0a2.9,2.9 0 1,0 -5.8,0M280.5,172.0a2.9,2.9 0 1,0 5.8,0a2.9,2.9 0 1,0 -5.8,0M281.7,173.6a2.9,2.9 0 1,0 5.8,0a2.9,2.9 0 1,0 -5.8,0M282.3,168.7a2.9,2.9 0 1,0 5.8,0a2.9,2.9 0 1,0 -5.8,0M283.4,172.0a2.9,2.9 0 1,0 5.8,0a2.9,2.9 0 1,0 -5.8,0M284.3,176.8a2.9,2.9 0 1,0 5.8,0a2.9,2.9 0 1,0 -5.8,0M285.0,171.9a2.9,2.9 0 1,0 5.8,0a2.9,2.9 0 1,0 -5.8,0M285.8,169.4a2.9,2.9 0 1,0 5.8,0a2.9,2.9 0 1,0 -5.8,0M286.5,169.9a2.9,2.9 0 1,0 5.8,0a2.9,2.9 0 1,0 -5.8,0M287.8,168.5a2.9,2.9 0 1,0 5.8,0a2.9,2.9 0 1,0 -5.8,0M288.4,179.1a2.9,2.9 0 1,0 5.8,0a2.9,2.9 0 1,0 -5.8,0M289.4,180.8a2.9,2.9 0 1,0 5.8,0a2.9,2.9 0 1,0 -5.8,0M290.0,176.5a2.9,2.9 0 1,0 5.8,0a2.9,2.9 0 1,0 -5.8,0M291.1,168.0a2.9,2.9 0 1,0 5.8,0a2.9,2.9 0 1,0 -5.8,0M291.5,164.8a2.9,2.9 0 1,0 5.8,0a2.9,2.9 0 1,0 -5.8,0M292.9,164.2a2.9,2.9 0 1,0 5.8,0a2.9,2.9 0 1,0 -5.8,0M293.5,170.4a2.9,2.9 0 1,0 5.8,0a2.9,2.9 0 1,0 -5.8,0M294.3,168.5a2.9,2.9 0 1,0 5.8,0a2.9,2.9 0 1,0 -5.8,0M295.1,171.8a2.9,2.9 0 1,0 5.8,0a2.9,2.9 0 1,0 -5.8,0M296.0,180.0a2.9,2.9 0 1,0 5.8,0a2.9,2.9 0 1,0 -5.8,0M297.1,159.2a2.9,2.9 0 1,0 5.8,0a2.9,2.9 0 1,0 -5.8,0M297.9,178.6a2.9,2.9 0 1,0 5.8,0a2.9,2.9 0 1,0 -5.8,0M298.4,158.4a2.9,2.9 0 1,0 5.8,0a2.9,2.9 0 1,0 -5.8,0M299.2,171.0a2.9,2.9 0 1,0 5.8,0a2.9,2.9 0 1,0 -5.8,0M300.5,168.4a2.9,2.9 0 1,0 5.8,0a2.9,2.9 0 1,0 -5.8,0M301.3,161.2a2.9,2.9 0 1,0 5.8,0a2.9,2.9 0 1,0 -5.8,0M302.1,166.5a2.9,2.9 0 1,0 5.8,0a2.9,2.9 0 1,0 -5.8,0M303.0,184.1a2.9,2.9 0 1,0 5.8,0a2.9,2.9 0 1,0 -5.8,0M303.5,175.6a2.9,2.9 0 1,0 5.8,0a2.9,2.9 0 1,0 -5.8,0M304.7,176.9a2.9,2.9 0 1,0 5.8,0a2.9,2.9 0 1,0 -5.8,0M305.2,164.3a2.9,2.9 0 1,0 5.8,0a2.9,2.9 0 1,0 -5.8,0M306.5,167.1a2.9,2.9 0 1,0 5.8,0a2.9,2.9 0 1,0 -5.8,0M307.1,162.8a2.9,2.9 0 1,0 5.8,0a2.9,2.9 0 1,0 -5.8,0M308.0,162.7a2.9,2.9 0 1,0 5.8,0a2.9,2.9 0 1,0 -5.8,0M309.0,168.5a2.9,2.9 0 1,0 5.8,0a2.9,2.9 0 1,0 -5.8,0M309.6,167.2a2.9,2.9 0 1,0 5.8,0a2.9,2.9 0 1,0 -5.8,0M310.6,175.6a2.9,2.9 0 1,0 5.8,0a2.9,2.9 0 1,0 -5.8,0M311.1,165.1a2.9,2.9 0 1,0 5.8,0a2.9,2.9 0 1,0 -5.8,0M312.0,165.6a2.9,2.9 0 1,0 5.8,0a2.9,2.9 0 1,0 -5.8,0M313.2,166.6a2.9,2.9 0 1,0 5.8,0a2.9,2.9 0 1,0 -5.8,0M313.9,179.8a2.9,2.9 0 1,0 5.8,0a2.9,2.9 0 1,0 -5.8,0M314.7,179.6a2.9,2.9 0 1,0 5.8,0a2.9,2.9 0 1,0 -5.8,0M315.6,179.2a2.9,2.9 0 1,0 5.8,0a2.9,2.9 0 1,0 -5.8,0M316.7,177.5a2.9,2.9 0 1,0 5.8,0a2.9,2.9 0 1,0 -5.8,0M317.3,181.1a2.9,2.9 0 1,0 5.8,0a2.9,2.9 0 1,0 -5.8,0M318.0,170.7a2.9,2.9 0 1,0 5.8,0a2.9,2.9 0 1,0 -5.8,0M319.3,168.2a2.9,2.9 0 1,0 5.8,0a2.9,2.9 0 1,0 -5.8,0M319.9,164.8a2.9,2.9 0 1,0 5.8,0a2.9,2.9 0 1,0 -5.8,0M320.6,181.5a2.9,2.9 0 1,0 5.8,0a2.9,2.9 0 1,0 -5.8,0M321.7,180.7a2.9,2.9 0 1,0 5.8,0a2.9,2.9 0 1,0 -5.8,0M322.6,167.6a2.9,2.9 0 1,0 5.8,0a2.9,2.9 0 1,0 -5.8,0M323.5,165.3a2.9,2.9 0 1,0 5.8,0a2.9,2.9 0 1,0 -5.8,0M324.3,177.8a2.9,2.9 0 1,0 5.8,0a2.9,2.9 0 1,0 -5.8,0M324.9,162.7a2.9,2.9 0 1,0 5.8,0a2.9,2.9 0 1,0 -5.8,0M325.8,179.8a2.9,2.9 0 1,0 5.8,0a2.9,2.9 0 1,0 -5.8,0M326.9,181.5a2.9,2.9 0 1,0 5.8,0a2.9,2.9 0 1,0 -5.8,0M327.6,176.3a2.9,2.9 0 1,0 5.8,0a2.9,2.9 0 1,0 -5.8,0M328.6,181.7a2.9,2.9 0 1,0 5.8,0a2.9,2.9 0 1,0 -5.8,0M329.1,181.8a2.9,2.9 0 1,0 5.8,0a2.9,2.9 0 1,0 -5.8,0M329.8,162.4a2.9,2.9 0 1,0 5.8,0a2.9,2.9 0 1,0 -5.8,0M330.9,168.8a2.9,2.9 0 1,0 5.8,0a2.9,2.9 0 1,0 -5.8,0M331.8,168.8a2.9,2.9 0 1,0 5.8,0a2.9,2.9 0 1,0 -5.8,0M332.5,161.0a2.9,2.9 0 1,0 5.8,0a2.9,2.9 0 1,0 -5.8,0M333.4,184.8a2.9,2.9 0 1,0 5.8,0a2.9,2.9 0 1,0 -5.8,0M334.2,185.6a2.9,2.9 0 1,0 5.8,0a2.9,2.9 0 1,0 -5.8,0M335.0,171.3a2.9,2.9 0 1,0 5.8,0a2.9,2.9 0 1,0 -5.8,0M336.0,168.2a2.9,2.9 0 1,0 5.8,0a2.9,2.9 0 1,0 -5.8,0M337.0,181.7a2.9,2.9 0 1,0 5.8,0a2.9,2.9 0 1,0 -5.8,0M338.0,186.3a2.9,2.9 0 1,0 5.8,0a2.9,2.9 0 1,0 -5.8,0M338.5,179.3a2.9,2.9 0 1,0 5.8,0a2.9,2.9 0 1,0 -5.8,0M339.4,182.9a2.9,2.9 0 1,0 5.8,0a2.9,2.9 0 1,0 -5.8,0M340.2,169.2a2.9,2.9 0 1,0 5.8,0a2.9,2.9 0 1,0 -5.8,0M341.0,157.4a2.9,2.9 0 1,0 5.8,0a2.9,2.9 0 1,0 -5.8,0M342.1,176.5a2.9,2.9 0 1,0 5.8,0a2.9,2.9 0 1,0 -5.8,0M342.6,174.0a2.9,2.9 0 1,0 5.8,0a2.9,2.9 0 1,0 -5.8,0M343.6,154.6a2.9,2.9 0 1,0 5.8,0a2.9,2.9 0 1,0 -5.8,0M344.6,179.0a2.9,2.9 0 1,0 5.8,0a2.9,2.9 0 1,0 -5.8,0M345.1,158.3a2.9,2.9 0 1,0 5.8,0a2.9,2.9 0 1,0 -5.8,0M345.9,180.7a2.9,2.9 0 1,0 5.8,0a2.9,2.9 0 1,0 -5.8,0M346.9,167.8a2.9,2.9 0 1,0 5.8,0a2.9,2.9 0 1,0 -5.8,0M347.7,156.1a2.9,2.9 0 1,0 5.8,0a2.9,2.9 0 1,0 -5.8,0M348.6,153.6a2.9,2.9 0 1,0 5.8,0a2.9,2.9 0 1,0 -5.8,0M349.5,177.6a2.9,2.9 0 1,0 5.8,0a2.9,2.9 0 1,0 -5.8,0M350.5,175.2a2.9,2.9 0 1,0 5.8,0a2.9,2.9 0 1,0 -5.8,0M351.3,154.2a2.9,2.9 0 1,0 5.8,0a2.9,2.9 0 1,0 -5.8,0M351.9,155.6a2.9,2.9 0 1,0 5.8,0a2.9,2.9 0 1,0 -5.8,0M353.1,155.5a2.9,2.9 0 1,0 5.8,0a2.9,2.9 0 1,0 -5.8,0M353.6,156.6a2.9,2.9 0 1,0 5.8,0a2.9,2.9 0 1,0 -5.8,0M354.8,157.0a2.9,2.9 0 1,0 5.8,0a2.9,2.9 0 1,0 -5.8,0M355.4,173.2a2.9,2.9 0 1,0 5.8,0a2.9,2.9 0 1,0 -5.8,0M356.6,175.8a2.9,2.9 0 1,0 5.8,0a2.9,2.9 0 1,0 -5.8,0M357.5,167.2a2.9,2.9 0 1,0 5.8,0a2.9,2.9 0 1,0 -5.8,0M358.1,173.6a2.9,2.9 0 1,0 5.8,0a2.9,2.9 0 1,0 -5.8,0M358.8,168.7a2.9,2.9 0 1,0 5.8,0a2.9,2.9 0 1,0 -5.8,0M359.9,161.5a2.9,2.9 0 1,0 5.8,0a2.9,2.9 0 1,0 -5.8,0M360.8,163.7a2.9,2.9 0 1,0 5.8,0a2.9,2.9 0 1,0 -5.8,0M361.8,165.8a2.9,2.9 0 1,0 5.8,0a2.9,2.9 0 1,0 -5.8,0M362.4,167.3a2.9,2.9 0 1,0 5.8,0a2.9,2.9 0 1,0 -5.8,0M363.5,161.6a2.9,2.9 0 1,0 5.8,0a2.9,2.9 0 1,0 -5.8,0M363.8,175.6a2.9,2.9 0 1,0 5.8,0a2.9,2.9 0 1,0 -5.8,0M364.6,161.0a2.9,2.9 0 1,0 5.8,0a2.9,2.9 0 1,0 -5.8,0M365.9,175.2a2.9,2.9 0 1,0 5.8,0a2.9,2.9 0 1,0 -5.8,0M366.5,166.4a2.9,2.9 0 1,0 5.8,0a2.9,2.9 0 1,0 -5.8,0M367.2,161.7a2.9,2.9 0 1,0 5.8,0a2.9,2.9 0 1,0 -5.8,0M368.2,168.5a2.9,2.9 0 1,0 5.8,0a2.9,2.9 0 1,0 -5.8,0M369.4,165.1a2.9,2.9 0 1,0 5.8,0a2.9,2.9 0 1,0 -5.8,0M370.1,169.5a2.9,2.9 0 1,0 5.8,0a2.9,2.9 0 1,0 -5.8,0M371.1,175.7a2.9,2.9 0 1,0 5.8,0a2.9,2.9 0 1,0 -5.8,0M371.5,179.6a2.9,2.9 0 1,0 5.8,0a2.9,2.9 0 1,0 -5.8,0M372.6,180.8a2.9,2.9 0 1,0 5.8,0a2.9,2.9 0 1,0 -5.8,0M373.3,162.7a2.9,2.9 0 1,0 5.8,0a2.9,2.9 0 1,0 -5.8,0M374.0,184.6a2.9,2.9 0 1,0 5.8,0a2.9,2.9 0 1,0 -5.8,0M375.3,166.5a2.9,2.9 0 1,0 5.8,0a2.9,2.9 0 1,0 -5.8,0M375.9,185.2a2.9,2.9 0 1,0 5.8,0a2.9,2.9 0 1,0 -5.8,0M376.7,179.2a2.9,2.9 0 1,0 5.8,0a2.9,2.9 0 1,0 -5.8,0M377.7,169.4a2.9,2.9 0 1,0 5.8,0a2.9,2.9 0 1,0 -5.8,0M378.7,164.0a2.9,2.9 0 1,0 5.8,0a2.9,2.9 0 1,0 -5.8,0M379.3,168.5a2.9,2.9 0 1,0 5.8,0a2.9,2.9 0 1,0 -5.8,0M380.4,163.8a2.9,2.9 0 1,0 5.8,0a2.9,2.9 0 1,0 -5.8,0M381.3,164.7a2.9,2.9 0 1,0 5.8,0a2.9,2.9 0 1,0 -5.8,0M382.0,185.1a2.9,2.9 0 1,0 5.8,0a2.9,2.9 0 1,0 -5.8,0M382.8,185.5a2.9,2.9 0 1,0 5.8,0a2.9,2.9 0 1,0 -5.8,0M383.4,169.4a2.9,2.9 0 1,0 5.8,0a2.9,2.9 0 1,0 -5.8,0M384.3,183.8a2.9,2.9 0 1,0 5.8,0a2.9,2.9 0 1,0 -5.8,0M385.2,177.3a2.9,2.9 0 1,0 5.8,0a2.9,2.9 0 1,0 -5.8,0M385.9,182.2a2.9,2.9 0 1,0 5.8,0a2.9,2.9 0 1,0 -5.8,0M386.8,176.2a2.9,2.9 0 1,0 5.8,0a2.9,2.9 0 1,0 -5.8,0M387.8,171.4a2.9,2.9 0 1,0 5.8,0a2.9,2.9 0 1,0 -5.8,0M388.9,170.3a2.9,2.9 0 1,0 5.8,0a2.9,2.9 0 1,0 -5.8,0M389.4,183.9a2.9,2.9 0 1,0 5.8,0a2.9,2.9 0 1,0 -5.8,0M390.5,175.5a2.9,2.9 0 1,0 5.8,0a2.9,2.9 0 1,0 -5.8,0M391.2,181.9a2.9,2.9 0 1,0 5.8,0a2.9,2.9 0 1,0 -5.8,0M392.3,178.1a2.9,2.9 0 1,0 5.8,0a2.9,2.9 0 1,0 -5.8,0M392.8,185.3a2.9,2.9 0 1,0 5.8,0a2.9,2.9 0 1,0 -5.8,0M393.9,177.0a2.9,2.9 0 1,0 5.8,0a2.9,2.9 0 1,0 -5.8,0M394.9,175.3a2.9,2.9 0 1,0 5.8,0a2.9,2.9 0 1,0 -5.8,0M395.3,171.9a2.9,2.9 0 1,0 5.8,0a2.9,2.9 0 1,0 -5.8,0M396.6,171.3a2.9,2.9 0 1,0 5.8,0a2.9,2.9 0 1,0 -5.8,0M397.2,172.3a2.9,2.9 0 1,0 5.8,0a2.9,2.9 0 1,0 -5.8,0M397.8,184.3a2.9,2.9 0 1,0 5.8,0a2.9,2.9 0 1,0 -5.8,0M398.7,173.2a2.9,2.9 0 1,0 5.8,0a2.9,2.9 0 1,0 -5.8,0M399.8,183.6a2.9,2.9 0 1,0 5.8,0a2.9,2.9 0 1,0 -5.8,0M400.6,174.0a2.9,2.9 0 1,0 5.8,0a2.9,2.9 0 1,0 -5.8,0M401.5,183.4a2.9,2.9 0 1,0 5.8,0a2.9,2.9 0 1,0 -5.8,0M402.1,177.3a2.9,2.9 0 1,0 5.8,0a2.9,2.9 0 1,0 -5.8,0M403.3,172.6a2.9,2.9 0 1,0 5.8,0a2.9,2.9 0 1,0 -5.8,0M403.9,184.5a2.9,2.9 0 1,0 5.8,0a2.9,2.9 0 1,0 -5.8,0M404.8,174.0a2.9,2.9 0 1,0 5.8,0a2.9,2.9 0 1,0 -5.8,0M405.7,182.9a2.9,2.9 0 1,0 5.8,0a2.9,2.9 0 1,0 -5.8,0M406.5,175.9a2.9,2.9 0 1,0 5.8,0a2.9,2.9 0 1,0 -5.8,0M407.1,184.3a2.9,2.9 0 1,0 5.8,0a2.9,2.9 0 1,0 -5.8,0M408.3,183.4a2.9,2.9 0 1,0 5.8,0a2.9,2.9 0 1,0 -5.8,0M409.1,172.2a2.9,2.9 0 1,0 5.8,0a2.9,2.9 0 1,0 -5.8,0M410.1,173.6a2.9,2.9 0 1,0 5.8,0a2.9,2.9 0 1,0 -5.8,0M410.8,182.7a2.9,2.9 0 1,0 5.8,0a2.9,2.9 0 1,0 -5.8,0M411.4,173.2a2.9,2.9 0 1,0 5.8,0a2.9,2.9 0 1,0 -5.8,0M412.6,176.9a2.9,2.9 0 1,0 5.8,0a2.9,2.9 0 1,0 -5.8,0M413.2,170.5a2.9,2.9 0 1,0 5.8,0a2.9,2.9 0 1,0 -5.8,0M414.4,180.6a2.9,2.9 0 1,0 5.8,0a2.9,2.9 0 1,0 -5.8,0M414.8,168.5a2.9,2.9 0 1,0 5.8,0a2.9,2.9 0 1,0 -5.8,0M415.7,168.9a2.9,2.9 0 1,0 5.8,0a2.9,2.9 0 1,0 -5.8,0M416.7,170.4a2.9,2.9 0 1,0 5.8,0a2.9,2.9 0 1,0 -5.8,0M417.5,184.6a2.9,2.9 0 1,0 5.8,0a2.9,2.9 0 1,0 -5.8,0M418.7,170.0a2.9,2.9 0 1,0 5.8,0a2.9,2.9 0 1,0 -5.8,0M419.4,170.1a2.9,2.9 0 1,0 5.8,0a2.9,2.9 0 1,0 -5.8,0M420.3,176.2a2.9,2.9 0 1,0 5.8,0a2.9,2.9 0 1,0 -5.8,0M421.1,171.1a2.9,2.9 0 1,0 5.8,0a2.9,2.9 0 1,0 -5.8,0M422.1,172.4a2.9,2.9 0 1,0 5.8,0a2.9,2.9 0 1,0 -5.8,0M422.8,176.5a2.9,2.9 0 1,0 5.8,0a2.9,2.9 0 1,0 -5.8,0M423.7,187.7a2.9,2.9 0 1,0 5.8,0a2.9,2.9 0 1,0 -5.8,0M424.6,180.8a2.9,2.9 0 1,0 5.8,0a2.9,2.9 0 1,0 -5.8,0M425.0,176.1a2.9,2.9 0 1,0 5.8,0a2.9,2.9 0 1,0 -5.8,0M425.8,188.9a2.9,2.9 0 1,0 5.8,0a2.9,2.9 0 1,0 -5.8,0M426.7,184.6a2.9,2.9 0 1,0 5.8,0a2.9,2.9 0 1,0 -5.8,0M427.6,190.0a2.9,2.9 0 1,0 5.8,0a2.9,2.9 0 1,0 -5.8,0M428.4,181.0a2.9,2.9 0 1,0 5.8,0a2.9,2.9 0 1,0 -5.8,0M429.3,180.9a2.9,2.9 0 1,0 5.8,0a2.9,2.9 0 1,0 -5.8,0M430.2,189.0a2.9,2.9 0 1,0 5.8,0a2.9,2.9 0 1,0 -5.8,0M431.0,180.9a2.9,2.9 0 1,0 5.8,0a2.9,2.9 0 1,0 -5.8,0M431.8,179.8a2.9,2.9 0 1,0 5.8,0a2.9,2.9 0 1,0 -5.8,0M432.8,187.6a2.9,2.9 0 1,0 5.8,0a2.9,2.9 0 1,0 -5.8,0M433.7,185.8a2.9,2.9 0 1,0 5.8,0a2.9,2.9 0 1,0 -5.8,0M434.9,186.5a2.9,2.9 0 1,0 5.8,0a2.9,2.9 0 1,0 -5.8,0M435.2,185.2a2.9,2.9 0 1,0 5.8,0a2.9,2.9 0 1,0 -5.8,0M436.6,180.6a2.9,2.9 0 1,0 5.8,0a2.9,2.9 0 1,0 -5.8,0M437.1,178.4a2.9,2.9 0 1,0 5.8,0a2.9,2.9 0 1,0 -5.8,0M437.8,183.8a2.9,2.9 0 1,0 5.8,0a2.9,2.9 0 1,0 -5.8,0M438.6,179.3a2.9,2.9 0 1,0 5.8,0a2.9,2.9 0 1,0 -5.8,0M439.5,181.9a2.9,2.9 0 1,0 5.8,0a2.9,2.9 0 1,0 -5.8,0" fill="#c8001a"/>
<polygon points="364.4,144.9 365.4,144.9 366.4,144.9 367.4,144.9 368.4,144.9 369.4,144.9 370.4,144.9 371.4,144.9 372.4,144.9 373.4,144.9 374.4,144.9 375.4,144.9 376.4,144.9 376.4,170.1 375.4,170.1 374.4,170.1 373.4,170.1 372.4,170.1 371.4,170.0 370.4,169.8 369.4,169.6 368.4,169.4 367.4,169.2 366.4,169.0 365.4,168.8 364.4,168.7" fill="#c8001a"/>
<path d="M364.5,140.3L364.7,171.8L365.8,163.1L366.1,148.1L366.7,149.5L367.6,172.5L368.3,147.6L368.6,147.9L369.2,142.6L370.1,159.7L370.6,154.0L371.3,157.1L371.4,140.2L372.3,164.2L373.0,157.3L373.1,140.1L374.0,169.5L374.4,157.6L375.0,152.4L375.7,168.9L376.4,151.7L377.2,141.7" stroke="#c8001a" stroke-width="1.1" fill="none"/>
<path d="M361.6,140.3a2.9,2.9 0 1,0 5.8,0a2.9,2.9 0 1,0 -5.8,0M361.8,171.8a2.9,2.9 0 1,0 5.8,0a2.9,2.9 0 1,0 -5.8,0M362.9,163.1a2.9,2.9 0 1,0 5.8,0a2.9,2.9 0 1,0 -5.8,0M363.2,148.1a2.9,2.9 0 1,0 5.8,0a2.9,2.9 0 1,0 -5.8,0M363.8,149.5a2.9,2.9 0 1,0 5.8,0a2.9,2.9 0 1,0 -5.8,0M364.7,172.5a2.9,2.9 0 1,0 5.8,0a2.9,2.9 0 1,0 -5.8,0M365.4,147.6a2.9,2.9 0 1,0 5.8,0a2.9,2.9 0 1,0 -5.8,0M365.7,147.9a2.9,2.9 0 1,0 5.8,0a2.9,2.9 0 1,0 -5.8,0M366.3,142.6a2.9,2.9 0 1,0 5.8,0a2.9,2.9 0 1,0 -5.8,0M367.2,159.7a2.9,2.9 0 1,0 5.8,0a2.9,2.9 0 1,0 -5.8,0M367.7,154.0a2.9,2.9 0 1,0 5.8,0a2.9,2.9 0 1,0 -5.8,0M368.4,157.1a2.9,2.9 0 1,0 5.8,0a2.9,2.9 0 1,0 -5.8,0M368.5,140.2a2.9,2.9 0 1,0 5.8,0a2.9,2.9 0 1,0 -5.8,0M369.4,164.2a2.9,2.9 0 1,0 5.8,0a2.9,2.9 0 1,0 -5.8,0M370.1,157.3a2.9,2.9 0 1,0 5.8,0a2.9,2.9 0 1,0 -5.8,0M370.2,140.1a2.9,2.9 0 1,0 5.8,0a2.9,2.9 0 1,0 -5.8,0M371.1,169.5a2.9,2.9 0 1,0 5.8,0a2.9,2.9 0 1,0 -5.8,0M371.5,157.6a2.9,2.9 0 1,0 5.8,0a2.9,2.9 0 1,0 -5.8,0M372.1,152.4a2.9,2.9 0 1,0 5.8,0a2.9,2.9 0 1,0 -5.8,0M372.8,168.9a2.9,2.9 0 1,0 5.8,0a2.9,2.9 0 1,0 -5.8,0M373.5,151.7a2.9,2.9 0 1,0 5.8,0a2.9,2.9 0 1,0 -5.8,0M374.3,141.7a2.9,2.9 0 1,0 5.8,0a2.9,2.9 0 1,0 -5.8,0" fill="#c8001a"/>
<path d="M365.0,111.0V150.0M373.8,111.0V150.0M369.5,111.0V140.0" stroke="#c8001a" stroke-width="1.6" fill="none"/>
<path d="M365,111.5H373.8" stroke="#c8001a" stroke-width="1.6"/>
<path d="M365.6,112.5a2.9,2.9 0 1,0 5.8,0a2.9,2.9 0 1,0 -5.8,0M368.6,112.0a2.9,2.9 0 1,0 5.8,0a2.9,2.9 0 1,0 -5.8,0M363.1,115.5a2.9,2.9 0 1,0 5.8,0a2.9,2.9 0 1,0 -5.8,0M361.6,119.5a2.9,2.9 0 1,0 5.8,0a2.9,2.9 0 1,0 -5.8,0M359.9,121.5a2.9,2.9 0 1,0 5.8,0a2.9,2.9 0 1,0 -5.8,0M360.6,127.5a2.9,2.9 0 1,0 5.8,0a2.9,2.9 0 1,0 -5.8,0M369.6,118.0a2.9,2.9 0 1,0 5.8,0a2.9,2.9 0 1,0 -5.8,0M363.6,131.0a2.9,2.9 0 1,0 5.8,0a2.9,2.9 0 1,0 -5.8,0M369.1,127.0a2.9,2.9 0 1,0 5.8,0a2.9,2.9 0 1,0 -5.8,0M367.1,136.0a2.9,2.9 0 1,0 5.8,0a2.9,2.9 0 1,0 -5.8,0" fill="#c8001a"/>
<path d="M198.1,50.5V93.0M257.4,127.0V166.0M326.9,151.7V162.0M369.2,95.6V113.0" stroke="#c8001a" stroke-width="1.6" fill="none"/>
<path d="M102.5,159.8a2.9,2.9 0 1,0 5.8,0a2.9,2.9 0 1,0 -5.8,0M110.1,156.2a2.9,2.9 0 1,0 5.8,0a2.9,2.9 0 1,0 -5.8,0M123.2,167.8a2.9,2.9 0 1,0 5.8,0a2.9,2.9 0 1,0 -5.8,0M130.9,165.0a2.9,2.9 0 1,0 5.8,0a2.9,2.9 0 1,0 -5.8,0M139.9,167.5a2.9,2.9 0 1,0 5.8,0a2.9,2.9 0 1,0 -5.8,0M147.6,163.2a2.9,2.9 0 1,0 5.8,0a2.9,2.9 0 1,0 -5.8,0M164.6,162.4a2.9,2.9 0 1,0 5.8,0a2.9,2.9 0 1,0 -5.8,0M172.3,159.8a2.9,2.9 0 1,0 5.8,0a2.9,2.9 0 1,0 -5.8,0M118.6,189.7a2.9,2.9 0 1,0 5.8,0a2.9,2.9 0 1,0 -5.8,0M126.8,187.1a2.9,2.9 0 1,0 5.8,0a2.9,2.9 0 1,0 -5.8,0M135.6,187.8a2.9,2.9 0 1,0 5.8,0a2.9,2.9 0 1,0 -5.8,0M109.8,181.0a2.9,2.9 0 1,0 5.8,0a2.9,2.9 0 1,0 -5.8,0M160.0,186.3a2.9,2.9 0 1,0 5.8,0a2.9,2.9 0 1,0 -5.8,0M176.2,184.8a2.9,2.9 0 1,0 5.8,0a2.9,2.9 0 1,0 -5.8,0M176.4,185.0a2.9,2.9 0 1,0 5.8,0a2.9,2.9 0 1,0 -5.8,0M192.6,50.5a2.9,2.9 0 1,0 5.8,0a2.9,2.9 0 1,0 -5.8,0M192.6,82.0a2.9,2.9 0 1,0 5.8,0a2.9,2.9 0 1,0 -5.8,0M192.6,93.0a2.9,2.9 0 1,0 5.8,0a2.9,2.9 0 1,0 -5.8,0M201.0,93.0a2.9,2.9 0 1,0 5.8,0a2.9,2.9 0 1,0 -5.8,0M213.3,93.0a2.9,2.9 0 1,0 5.8,0a2.9,2.9 0 1,0 -5.8,0M199.9,96.9a2.9,2.9 0 1,0 5.8,0a2.9,2.9 0 1,0 -5.8,0M213.8,98.6a2.9,2.9 0 1,0 5.8,0a2.9,2.9 0 1,0 -5.8,0M213.8,103.6a2.9,2.9 0 1,0 5.8,0a2.9,2.9 0 1,0 -5.8,0M188.2,102.0a2.9,2.9 0 1,0 5.8,0a2.9,2.9 0 1,0 -5.8,0M183.7,114.8a2.9,2.9 0 1,0 5.8,0a2.9,2.9 0 1,0 -5.8,0M180.4,129.9a2.9,2.9 0 1,0 5.8,0a2.9,2.9 0 1,0 -5.8,0M180.7,130.1a2.9,2.9 0 1,0 5.8,0a2.9,2.9 0 1,0 -5.8,0M195.4,122.6a2.9,2.9 0 1,0 5.8,0a2.9,2.9 0 1,0 -5.8,0M198.8,117.0a2.9,2.9 0 1,0 5.8,0a2.9,2.9 0 1,0 -5.8,0M215.5,113.1a2.9,2.9 0 1,0 5.8,0a2.9,2.9 0 1,0 -5.8,0M213.8,118.7a2.9,2.9 0 1,0 5.8,0a2.9,2.9 0 1,0 -5.8,0M196.5,163.5a2.9,2.9 0 1,0 5.8,0a2.9,2.9 0 1,0 -5.8,0M199.3,165.7a2.9,2.9 0 1,0 5.8,0a2.9,2.9 0 1,0 -5.8,0M209.9,171.3a2.9,2.9 0 1,0 5.8,0a2.9,2.9 0 1,0 -5.8,0M220.0,174.6a2.9,2.9 0 1,0 5.8,0a2.9,2.9 0 1,0 -5.8,0M197.1,163.2a2.9,2.9 0 1,0 5.8,0a2.9,2.9 0 1,0 -5.8,0M197.8,167.8a2.9,2.9 0 1,0 5.8,0a2.9,2.9 0 1,0 -5.8,0M208.6,170.9a2.9,2.9 0 1,0 5.8,0a2.9,2.9 0 1,0 -5.8,0M217.9,151.6a2.9,2.9 0 1,0 5.8,0a2.9,2.9 0 1,0 -5.8,0M222.2,160.1a2.9,2.9 0 1,0 5.8,0a2.9,2.9 0 1,0 -5.8,0M238.0,167.8a2.9,2.9 0 1,0 5.8,0a2.9,2.9 0 1,0 -5.8,0M245.7,160.1a2.9,2.9 0 1,0 5.8,0a2.9,2.9 0 1,0 -5.8,0M282.8,160.5a2.9,2.9 0 1,0 5.8,0a2.9,2.9 0 1,0 -5.8,0M294.3,160.5a2.9,2.9 0 1,0 5.8,0a2.9,2.9 0 1,0 -5.8,0M299.3,154.7a2.9,2.9 0 1,0 5.8,0a2.9,2.9 0 1,0 -5.8,0M307.9,160.5a2.9,2.9 0 1,0 5.8,0a2.9,2.9 0 1,0 -5.8,0M324.0,151.7a2.9,2.9 0 1,0 5.8,0a2.9,2.9 0 1,0 -5.8,0M328.3,160.5a2.9,2.9 0 1,0 5.8,0a2.9,2.9 0 1,0 -5.8,0M217.9,187.9a2.9,2.9 0 1,0 5.8,0a2.9,2.9 0 1,0 -5.8,0M229.5,189.1a2.9,2.9 0 1,0 5.8,0a2.9,2.9 0 1,0 -5.8,0M241.1,185.6a2.9,2.9 0 1,0 5.8,0a2.9,2.9 0 1,0 -5.8,0M257.3,184.1a2.9,2.9 0 1,0 5.8,0a2.9,2.9 0 1,0 -5.8,0M266.5,188.0a2.9,2.9 0 1,0 5.8,0a2.9,2.9 0 1,0 -5.8,0M291.6,185.6a2.9,2.9 0 1,0 5.8,0a2.9,2.9 0 1,0 -5.8,0M303.6,187.2a2.9,2.9 0 1,0 5.8,0a2.9,2.9 0 1,0 -5.8,0M319.1,185.2a2.9,2.9 0 1,0 5.8,0a2.9,2.9 0 1,0 -5.8,0M330.1,185.6a2.9,2.9 0 1,0 5.8,0a2.9,2.9 0 1,0 -5.8,0M336.3,189.7a2.9,2.9 0 1,0 5.8,0a2.9,2.9 0 1,0 -5.8,0M254.5,127.0a2.9,2.9 0 1,0 5.8,0a2.9,2.9 0 1,0 -5.8,0M254.5,129.3a2.9,2.9 0 1,0 5.8,0a2.9,2.9 0 1,0 -5.8,0M254.5,134.7a2.9,2.9 0 1,0 5.8,0a2.9,2.9 0 1,0 -5.8,0M254.5,143.9a2.9,2.9 0 1,0 5.8,0a2.9,2.9 0 1,0 -5.8,0M254.5,151.7a2.9,2.9 0 1,0 5.8,0a2.9,2.9 0 1,0 -5.8,0M254.5,156.3a2.9,2.9 0 1,0 5.8,0a2.9,2.9 0 1,0 -5.8,0M344.2,150.6a2.9,2.9 0 1,0 5.8,0a2.9,2.9 0 1,0 -5.8,0M365.4,95.6a2.9,2.9 0 1,0 5.8,0a2.9,2.9 0 1,0 -5.8,0M368.5,111.4a2.9,2.9 0 1,0 5.8,0a2.9,2.9 0 1,0 -5.8,0M361.2,118.9a2.9,2.9 0 1,0 5.8,0a2.9,2.9 0 1,0 -5.8,0M365.1,120.4a2.9,2.9 0 1,0 5.8,0a2.9,2.9 0 1,0 -5.8,0M365.8,129.7a2.9,2.9 0 1,0 5.8,0a2.9,2.9 0 1,0 -5.8,0M380.5,162.1a2.9,2.9 0 1,0 5.8,0a2.9,2.9 0 1,0 -5.8,0M381.7,162.0a2.9,2.9 0 1,0 5.8,0a2.9,2.9 0 1,0 -5.8,0M373.3,187.2a2.9,2.9 0 1,0 5.8,0a2.9,2.9 0 1,0 -5.8,0M393.6,186.2a2.9,2.9 0 1,0 5.8,0a2.9,2.9 0 1,0 -5.8,0M398.6,170.0a2.9,2.9 0 1,0 5.8,0a2.9,2.9 0 1,0 -5.8,0M414.1,167.5a2.9,2.9 0 1,0 5.8,0a2.9,2.9 0 1,0 -5.8,0M418.7,167.5a2.9,2.9 0 1,0 5.8,0a2.9,2.9 0 1,0 -5.8,0M404.9,185.3a2.9,2.9 0 1,0 5.8,0a2.9,2.9 0 1,0 -5.8,0M426.4,189.7a2.9,2.9 0 1,0 5.8,0a2.9,2.9 0 1,0 -5.8,0M440.1,181.0a2.9,2.9 0 1,0 5.8,0a2.9,2.9 0 1,0 -5.8,0" fill="#c8001a"/>
<path d="M156.6,185.3a2.9,2.9 0 1,0 5.8,0a2.9,2.9 0 1,0 -5.8,0M160.7,191.0a2.9,2.9 0 1,0 5.8,0a2.9,2.9 0 1,0 -5.8,0M163.1,194.8a2.9,2.9 0 1,0 5.8,0a2.9,2.9 0 1,0 -5.8,0M166.5,197.5a2.9,2.9 0 1,0 5.8,0a2.9,2.9 0 1,0 -5.8,0M171.5,199.2a2.9,2.9 0 1,0 5.8,0a2.9,2.9 0 1,0 -5.8,0M174.6,199.5a2.9,2.9 0 1,0 5.8,0a2.9,2.9 0 1,0 -5.8,0M179.3,198.7a2.9,2.9 0 1,0 5.8,0a2.9,2.9 0 1,0 -5.8,0M183.9,199.5a2.9,2.9 0 1,0 5.8,0a2.9,2.9 0 1,0 -5.8,0M188.5,198.7a2.9,2.9 0 1,0 5.8,0a2.9,2.9 0 1,0 -5.8,0M191.3,194.8a2.9,2.9 0 1,0 5.8,0a2.9,2.9 0 1,0 -5.8,0M193.2,191.0a2.9,2.9 0 1,0 5.8,0a2.9,2.9 0 1,0 -5.8,0M196.0,187.1a2.9,2.9 0 1,0 5.8,0a2.9,2.9 0 1,0 -5.8,0M197.0,174.7a2.9,2.9 0 1,0 5.8,0a2.9,2.9 0 1,0 -5.8,0M197.8,176.8a2.9,2.9 0 1,0 5.8,0a2.9,2.9 0 1,0 -5.8,0M199.4,166.0a2.9,2.9 0 1,0 5.8,0a2.9,2.9 0 1,0 -5.8,0M201.7,155.4a2.9,2.9 0 1,0 5.8,0a2.9,2.9 0 1,0 -5.8,0M201.4,150.5a2.9,2.9 0 1,0 5.8,0a2.9,2.9 0 1,0 -5.8,0M202.4,144.6a2.9,2.9 0 1,0 5.8,0a2.9,2.9 0 1,0 -5.8,0M203.8,133.9a2.9,2.9 0 1,0 5.8,0a2.9,2.9 0 1,0 -5.8,0M211.6,131.1a2.9,2.9 0 1,0 5.8,0a2.9,2.9 0 1,0 -5.8,0M212.2,140.6a2.9,2.9 0 1,0 5.8,0a2.9,2.9 0 1,0 -5.8,0M202.7,144.5a2.9,2.9 0 1,0 5.8,0a2.9,2.9 0 1,0 -5.8,0M201.6,150.1a2.9,2.9 0 1,0 5.8,0a2.9,2.9 0 1,0 -5.8,0M201.9,155.1a2.9,2.9 0 1,0 5.8,0a2.9,2.9 0 1,0 -5.8,0M212.7,151.8a2.9,2.9 0 1,0 5.8,0a2.9,2.9 0 1,0 -5.8,0M213.5,162.4a2.9,2.9 0 1,0 5.8,0a2.9,2.9 0 1,0 -5.8,0M199.7,165.9a2.9,2.9 0 1,0 5.8,0a2.9,2.9 0 1,0 -5.8,0M196.8,174.6a2.9,2.9 0 1,0 5.8,0a2.9,2.9 0 1,0 -5.8,0M197.4,176.9a2.9,2.9 0 1,0 5.8,0a2.9,2.9 0 1,0 -5.8,0M213.8,173.0a2.9,2.9 0 1,0 5.8,0a2.9,2.9 0 1,0 -5.8,0M213.3,176.3a2.9,2.9 0 1,0 5.8,0a2.9,2.9 0 1,0 -5.8,0M204.9,87.3a2.9,2.9 0 1,0 5.8,0a2.9,2.9 0 1,0 -5.8,0M206.9,90.4a2.9,2.9 0 1,0 5.8,0a2.9,2.9 0 1,0 -5.8,0M207.6,97.4a2.9,2.9 0 1,0 5.8,0a2.9,2.9 0 1,0 -5.8,0M205.7,100.4a2.9,2.9 0 1,0 5.8,0a2.9,2.9 0 1,0 -5.8,0M209.1,108.2a2.9,2.9 0 1,0 5.8,0a2.9,2.9 0 1,0 -5.8,0M204.9,112.5a2.9,2.9 0 1,0 5.8,0a2.9,2.9 0 1,0 -5.8,0M210.8,118.7a2.9,2.9 0 1,0 5.8,0a2.9,2.9 0 1,0 -5.8,0M204.2,122.8a2.9,2.9 0 1,0 5.8,0a2.9,2.9 0 1,0 -5.8,0M208.5,123.3a2.9,2.9 0 1,0 5.8,0a2.9,2.9 0 1,0 -5.8,0M211.6,130.1a2.9,2.9 0 1,0 5.8,0a2.9,2.9 0 1,0 -5.8,0M203.4,134.1a2.9,2.9 0 1,0 5.8,0a2.9,2.9 0 1,0 -5.8,0M211.9,140.6a2.9,2.9 0 1,0 5.8,0a2.9,2.9 0 1,0 -5.8,0M202.6,144.5a2.9,2.9 0 1,0 5.8,0a2.9,2.9 0 1,0 -5.8,0M201.4,149.9a2.9,2.9 0 1,0 5.8,0a2.9,2.9 0 1,0 -5.8,0M212.7,151.7a2.9,2.9 0 1,0 5.8,0a2.9,2.9 0 1,0 -5.8,0M201.4,155.3a2.9,2.9 0 1,0 5.8,0a2.9,2.9 0 1,0 -5.8,0M212.5,141.5a2.9,2.9 0 1,0 5.8,0a2.9,2.9 0 1,0 -5.8,0M213.3,151.6a2.9,2.9 0 1,0 5.8,0a2.9,2.9 0 1,0 -5.8,0M213.6,162.4a2.9,2.9 0 1,0 5.8,0a2.9,2.9 0 1,0 -5.8,0M214.5,173.2a2.9,2.9 0 1,0 5.8,0a2.9,2.9 0 1,0 -5.8,0M213.6,175.5a2.9,2.9 0 1,0 5.8,0a2.9,2.9 0 1,0 -5.8,0M214.5,184.5a2.9,2.9 0 1,0 5.8,0a2.9,2.9 0 1,0 -5.8,0M213.6,194.1a2.9,2.9 0 1,0 5.8,0a2.9,2.9 0 1,0 -5.8,0M217.1,194.8a2.9,2.9 0 1,0 5.8,0a2.9,2.9 0 1,0 -5.8,0M219.4,198.7a2.9,2.9 0 1,0 5.8,0a2.9,2.9 0 1,0 -5.8,0M222.6,199.5a2.9,2.9 0 1,0 5.8,0a2.9,2.9 0 1,0 -5.8,0M226.5,199.5a2.9,2.9 0 1,0 5.8,0a2.9,2.9 0 1,0 -5.8,0M230.4,199.5a2.9,2.9 0 1,0 5.8,0a2.9,2.9 0 1,0 -5.8,0M234.3,199.5a2.9,2.9 0 1,0 5.8,0a2.9,2.9 0 1,0 -5.8,0M238.2,199.5a2.9,2.9 0 1,0 5.8,0a2.9,2.9 0 1,0 -5.8,0M242.1,199.5a2.9,2.9 0 1,0 5.8,0a2.9,2.9 0 1,0 -5.8,0M246.0,199.5a2.9,2.9 0 1,0 5.8,0a2.9,2.9 0 1,0 -5.8,0M249.9,199.5a2.9,2.9 0 1,0 5.8,0a2.9,2.9 0 1,0 -5.8,0M253.8,199.5a2.9,2.9 0 1,0 5.8,0a2.9,2.9 0 1,0 -5.8,0M254.7,199.6a2.9,2.9 0 1,0 5.8,0a2.9,2.9 0 1,0 -5.8,0M265.7,199.6a2.9,2.9 0 1,0 5.8,0a2.9,2.9 0 1,0 -5.8,0M276.5,199.6a2.9,2.9 0 1,0 5.8,0a2.9,2.9 0 1,0 -5.8,0M286.5,199.5a2.9,2.9 0 1,0 5.8,0a2.9,2.9 0 1,0 -5.8,0M290.0,199.5a2.9,2.9 0 1,0 5.8,0a2.9,2.9 0 1,0 -5.8,0M293.5,199.5a2.9,2.9 0 1,0 5.8,0a2.9,2.9 0 1,0 -5.8,0M297.0,199.5a2.9,2.9 0 1,0 5.8,0a2.9,2.9 0 1,0 -5.8,0M300.5,199.5a2.9,2.9 0 1,0 5.8,0a2.9,2.9 0 1,0 -5.8,0M304.0,199.5a2.9,2.9 0 1,0 5.8,0a2.9,2.9 0 1,0 -5.8,0M307.5,199.5a2.9,2.9 0 1,0 5.8,0a2.9,2.9 0 1,0 -5.8,0M311.0,199.5a2.9,2.9 0 1,0 5.8,0a2.9,2.9 0 1,0 -5.8,0M314.5,199.5a2.9,2.9 0 1,0 5.8,0a2.9,2.9 0 1,0 -5.8,0M318.0,199.5a2.9,2.9 0 1,0 5.8,0a2.9,2.9 0 1,0 -5.8,0M321.5,199.5a2.9,2.9 0 1,0 5.8,0a2.9,2.9 0 1,0 -5.8,0M325.0,199.5a2.9,2.9 0 1,0 5.8,0a2.9,2.9 0 1,0 -5.8,0M328.5,199.5a2.9,2.9 0 1,0 5.8,0a2.9,2.9 0 1,0 -5.8,0M332.0,199.5a2.9,2.9 0 1,0 5.8,0a2.9,2.9 0 1,0 -5.8,0M335.5,199.5a2.9,2.9 0 1,0 5.8,0a2.9,2.9 0 1,0 -5.8,0M339.0,199.5a2.9,2.9 0 1,0 5.8,0a2.9,2.9 0 1,0 -5.8,0M342.5,199.5a2.9,2.9 0 1,0 5.8,0a2.9,2.9 0 1,0 -5.8,0M346.0,199.5a2.9,2.9 0 1,0 5.8,0a2.9,2.9 0 1,0 -5.8,0M351.4,194.9a2.9,2.9 0 1,0 5.8,0a2.9,2.9 0 1,0 -5.8,0M353.6,185.7a2.9,2.9 0 1,0 5.8,0a2.9,2.9 0 1,0 -5.8,0M355.3,173.8a2.9,2.9 0 1,0 5.8,0a2.9,2.9 0 1,0 -5.8,0M356.0,163.5a2.9,2.9 0 1,0 5.8,0a2.9,2.9 0 1,0 -5.8,0M356.3,152.8a2.9,2.9 0 1,0 5.8,0a2.9,2.9 0 1,0 -5.8,0M355.5,174.2a2.9,2.9 0 1,0 5.8,0a2.9,2.9 0 1,0 -5.8,0M356.1,163.4a2.9,2.9 0 1,0 5.8,0a2.9,2.9 0 1,0 -5.8,0M357.1,152.6a2.9,2.9 0 1,0 5.8,0a2.9,2.9 0 1,0 -5.8,0M357.7,141.8a2.9,2.9 0 1,0 5.8,0a2.9,2.9 0 1,0 -5.8,0M358.6,131.3a2.9,2.9 0 1,0 5.8,0a2.9,2.9 0 1,0 -5.8,0M361.2,127.9a2.9,2.9 0 1,0 5.8,0a2.9,2.9 0 1,0 -5.8,0M357.1,124.3a2.9,2.9 0 1,0 5.8,0a2.9,2.9 0 1,0 -5.8,0M362.3,119.7a2.9,2.9 0 1,0 5.8,0a2.9,2.9 0 1,0 -5.8,0M363.2,108.4a2.9,2.9 0 1,0 5.8,0a2.9,2.9 0 1,0 -5.8,0M363.2,108.0a2.9,2.9 0 1,0 5.8,0a2.9,2.9 0 1,0 -5.8,0M364.0,97.5a2.9,2.9 0 1,0 5.8,0a2.9,2.9 0 1,0 -5.8,0M364.8,86.3a2.9,2.9 0 1,0 5.8,0a2.9,2.9 0 1,0 -5.8,0M365.1,75.8a2.9,2.9 0 1,0 5.8,0a2.9,2.9 0 1,0 -5.8,0M365.4,64.7a2.9,2.9 0 1,0 5.8,0a2.9,2.9 0 1,0 -5.8,0M366.3,53.9a2.9,2.9 0 1,0 5.8,0a2.9,2.9 0 1,0 -5.8,0M365.1,51.6a2.9,2.9 0 1,0 5.8,0a2.9,2.9 0 1,0 -5.8,0M368.9,59.3a2.9,2.9 0 1,0 5.8,0a2.9,2.9 0 1,0 -5.8,0M370.9,60.8a2.9,2.9 0 1,0 5.8,0a2.9,2.9 0 1,0 -5.8,0M372.5,72.0a2.9,2.9 0 1,0 5.8,0a2.9,2.9 0 1,0 -5.8,0M374.0,82.5a2.9,2.9 0 1,0 5.8,0a2.9,2.9 0 1,0 -5.8,0M372.8,90.7a2.9,2.9 0 1,0 5.8,0a2.9,2.9 0 1,0 -5.8,0M375.1,92.8a2.9,2.9 0 1,0 5.8,0a2.9,2.9 0 1,0 -5.8,0M377.4,103.3a2.9,2.9 0 1,0 5.8,0a2.9,2.9 0 1,0 -5.8,0M376.7,106.1a2.9,2.9 0 1,0 5.8,0a2.9,2.9 0 1,0 -5.8,0M377.4,106.5a2.9,2.9 0 1,0 5.8,0a2.9,2.9 0 1,0 -5.8,0M379.7,99.5a2.9,2.9 0 1,0 5.8,0a2.9,2.9 0 1,0 -5.8,0M384.4,99.0a2.9,2.9 0 1,0 5.8,0a2.9,2.9 0 1,0 -5.8,0M381.3,89.1a2.9,2.9 0 1,0 5.8,0a2.9,2.9 0 1,0 -5.8,0M383.6,88.2a2.9,2.9 0 1,0 5.8,0a2.9,2.9 0 1,0 -5.8,0M381.3,77.4a2.9,2.9 0 1,0 5.8,0a2.9,2.9 0 1,0 -5.8,0M382.8,78.3a2.9,2.9 0 1,0 5.8,0a2.9,2.9 0 1,0 -5.8,0M384.4,110.3a2.9,2.9 0 1,0 5.8,0a2.9,2.9 0 1,0 -5.8,0M384.4,110.4a2.9,2.9 0 1,0 5.8,0a2.9,2.9 0 1,0 -5.8,0M385.5,120.8a2.9,2.9 0 1,0 5.8,0a2.9,2.9 0 1,0 -5.8,0M385.9,132.0a2.9,2.9 0 1,0 5.8,0a2.9,2.9 0 1,0 -5.8,0M386.7,142.1a2.9,2.9 0 1,0 5.8,0a2.9,2.9 0 1,0 -5.8,0M389.0,142.8a2.9,2.9 0 1,0 5.8,0a2.9,2.9 0 1,0 -5.8,0M391.3,144.8a2.9,2.9 0 1,0 5.8,0a2.9,2.9 0 1,0 -5.8,0M384.4,145.9a2.9,2.9 0 1,0 5.8,0a2.9,2.9 0 1,0 -5.8,0M398.3,145.9a2.9,2.9 0 1,0 5.8,0a2.9,2.9 0 1,0 -5.8,0M392.9,155.2a2.9,2.9 0 1,0 5.8,0a2.9,2.9 0 1,0 -5.8,0M396.7,156.7a2.9,2.9 0 1,0 5.8,0a2.9,2.9 0 1,0 -5.8,0M393.6,166.8a2.9,2.9 0 1,0 5.8,0a2.9,2.9 0 1,0 -5.8,0M395.7,166.5a2.9,2.9 0 1,0 5.8,0a2.9,2.9 0 1,0 -5.8,0M394.1,156.0a2.9,2.9 0 1,0 5.8,0a2.9,2.9 0 1,0 -5.8,0M397.5,157.0a2.9,2.9 0 1,0 5.8,0a2.9,2.9 0 1,0 -5.8,0M394.8,166.4a2.9,2.9 0 1,0 5.8,0a2.9,2.9 0 1,0 -5.8,0M405.2,85.3a2.9,2.9 0 1,0 5.8,0a2.9,2.9 0 1,0 -5.8,0M410.4,85.3a2.9,2.9 0 1,0 5.8,0a2.9,2.9 0 1,0 -5.8,0M411.6,85.6a2.9,2.9 0 1,0 5.8,0a2.9,2.9 0 1,0 -5.8,0M406.6,92.4a2.9,2.9 0 1,0 5.8,0a2.9,2.9 0 1,0 -5.8,0M418.5,89.7a2.9,2.9 0 1,0 5.8,0a2.9,2.9 0 1,0 -5.8,0M419.7,93.2a2.9,2.9 0 1,0 5.8,0a2.9,2.9 0 1,0 -5.8,0M413.1,95.7a2.9,2.9 0 1,0 5.8,0a2.9,2.9 0 1,0 -5.8,0M418.0,99.5a2.9,2.9 0 1,0 5.8,0a2.9,2.9 0 1,0 -5.8,0M420.5,103.8a2.9,2.9 0 1,0 5.8,0a2.9,2.9 0 1,0 -5.8,0M405.2,103.4a2.9,2.9 0 1,0 5.8,0a2.9,2.9 0 1,0 -5.8,0M414.5,106.5a2.9,2.9 0 1,0 5.8,0a2.9,2.9 0 1,0 -5.8,0M415.6,110.0a2.9,2.9 0 1,0 5.8,0a2.9,2.9 0 1,0 -5.8,0M414.2,112.9a2.9,2.9 0 1,0 5.8,0a2.9,2.9 0 1,0 -5.8,0M403.5,113.8a2.9,2.9 0 1,0 5.8,0a2.9,2.9 0 1,0 -5.8,0M402.0,116.9a2.9,2.9 0 1,0 5.8,0a2.9,2.9 0 1,0 -5.8,0M421.2,114.6a2.9,2.9 0 1,0 5.8,0a2.9,2.9 0 1,0 -5.8,0M401.7,123.5a2.9,2.9 0 1,0 5.8,0a2.9,2.9 0 1,0 -5.8,0M421.4,123.5a2.9,2.9 0 1,0 5.8,0a2.9,2.9 0 1,0 -5.8,0M404.1,113.5a2.9,2.9 0 1,0 5.8,0a2.9,2.9 0 1,0 -5.8,0M402.5,117.0a2.9,2.9 0 1,0 5.8,0a2.9,2.9 0 1,0 -5.8,0M402.0,124.8a2.9,2.9 0 1,0 5.8,0a2.9,2.9 0 1,0 -5.8,0M399.9,135.1a2.9,2.9 0 1,0 5.8,0a2.9,2.9 0 1,0 -5.8,0M398.3,137.4a2.9,2.9 0 1,0 5.8,0a2.9,2.9 0 1,0 -5.8,0M398.6,145.9a2.9,2.9 0 1,0 5.8,0a2.9,2.9 0 1,0 -5.8,0M397.9,156.7a2.9,2.9 0 1,0 5.8,0a2.9,2.9 0 1,0 -5.8,0M397.1,166.0a2.9,2.9 0 1,0 5.8,0a2.9,2.9 0 1,0 -5.8,0M414.1,106.5a2.9,2.9 0 1,0 5.8,0a2.9,2.9 0 1,0 -5.8,0M415.6,110.4a2.9,2.9 0 1,0 5.8,0a2.9,2.9 0 1,0 -5.8,0M414.1,112.7a2.9,2.9 0 1,0 5.8,0a2.9,2.9 0 1,0 -5.8,0M420.3,105.0a2.9,2.9 0 1,0 5.8,0a2.9,2.9 0 1,0 -5.8,0M421.0,115.0a2.9,2.9 0 1,0 5.8,0a2.9,2.9 0 1,0 -5.8,0M421.8,125.5a2.9,2.9 0 1,0 5.8,0a2.9,2.9 0 1,0 -5.8,0M422.6,136.7a2.9,2.9 0 1,0 5.8,0a2.9,2.9 0 1,0 -5.8,0M423.4,147.0a2.9,2.9 0 1,0 5.8,0a2.9,2.9 0 1,0 -5.8,0M421.8,157.2a2.9,2.9 0 1,0 5.8,0a2.9,2.9 0 1,0 -5.8,0M424.6,158.3a2.9,2.9 0 1,0 5.8,0a2.9,2.9 0 1,0 -5.8,0M426.4,164.5a2.9,2.9 0 1,0 5.8,0a2.9,2.9 0 1,0 -5.8,0M429.2,163.7a2.9,2.9 0 1,0 5.8,0a2.9,2.9 0 1,0 -5.8,0M430.8,155.2a2.9,2.9 0 1,0 5.8,0a2.9,2.9 0 1,0 -5.8,0M434.2,155.2a2.9,2.9 0 1,0 5.8,0a2.9,2.9 0 1,0 -5.8,0M439.1,148.6a2.9,2.9 0 1,0 5.8,0a2.9,2.9 0 1,0 -5.8,0M422.4,156.7a2.9,2.9 0 1,0 5.8,0a2.9,2.9 0 1,0 -5.8,0M425.1,158.3a2.9,2.9 0 1,0 5.8,0a2.9,2.9 0 1,0 -5.8,0M430.5,155.1a2.9,2.9 0 1,0 5.8,0a2.9,2.9 0 1,0 -5.8,0M434.9,155.1a2.9,2.9 0 1,0 5.8,0a2.9,2.9 0 1,0 -5.8,0M439.2,150.0a2.9,2.9 0 1,0 5.8,0a2.9,2.9 0 1,0 -5.8,0M426.8,164.1a2.9,2.9 0 1,0 5.8,0a2.9,2.9 0 1,0 -5.8,0M428.4,163.5a2.9,2.9 0 1,0 5.8,0a2.9,2.9 0 1,0 -5.8,0M403.7,114.3a2.9,2.9 0 1,0 5.8,0a2.9,2.9 0 1,0 -5.8,0M402.1,117.0a2.9,2.9 0 1,0 5.8,0a2.9,2.9 0 1,0 -5.8,0M401.4,124.8a2.9,2.9 0 1,0 5.8,0a2.9,2.9 0 1,0 -5.8,0M399.8,134.3a2.9,2.9 0 1,0 5.8,0a2.9,2.9 0 1,0 -5.8,0M397.5,138.7a2.9,2.9 0 1,0 5.8,0a2.9,2.9 0 1,0 -5.8,0M405.2,105.0a2.9,2.9 0 1,0 5.8,0a2.9,2.9 0 1,0 -5.8,0" fill="#0535a8"/>
<polygon points="121.4,399.1 122.4,397.4 123.4,397.7 124.4,398.8 125.4,402.5 126.4,402.9 127.4,402.9 128.4,402.9 129.4,402.9 130.4,401.3 131.4,398.8 132.4,398.6 133.4,398.4 134.4,398.2 135.4,398.0 136.4,398.0 137.4,398.1 138.4,398.3 139.4,398.5 140.4,398.6 141.4,398.8 142.4,398.9 143.4,398.9 144.4,398.9 145.4,398.9 146.4,398.9 147.4,398.9 148.4,399.1 149.4,399.3 150.4,399.4 151.4,399.6 152.4,399.8 153.4,400.0 154.4,400.3 155.4,400.5 156.4,400.8 157.4,400.8 158.4,400.6 159.4,400.4 160.4,400.1 161.4,399.9 162.4,398.6 163.4,397.3 164.4,396.0 165.4,394.7 166.4,394.0 167.4,394.2 168.4,394.5 169.4,394.8 170.4,394.5 171.4,393.5 172.4,392.8 173.4,392.5 174.4,392.2 175.4,391.9 176.4,391.6 177.4,391.4 178.4,391.1 179.4,391.3 180.4,391.8 181.4,391.7 182.4,391.5 183.4,391.3 184.4,391.2 185.4,391.0 186.4,390.9 187.4,390.9 188.4,391.2 189.4,391.9 190.4,392.5 191.4,393.2 192.4,393.9 193.4,395.2 194.4,396.5 195.4,397.8 196.4,399.1 197.4,400.3 198.4,401.3 199.4,402.3 200.4,403.3 201.4,403.9 202.4,404.1 203.4,404.2 204.4,404.3 205.4,404.0 206.4,402.6 207.4,401.1 208.4,399.7 209.4,398.3 210.4,397.6 211.4,397.3 212.4,396.9 213.4,396.5 214.4,396.2 215.4,394.9 216.4,392.9 217.4,392.9 218.4,392.9 219.4,392.9 220.4,392.9 221.4,392.9 222.4,392.9 223.4,392.9 224.4,392.9 225.4,392.9 226.4,392.9 227.4,392.9 228.4,397.2 229.4,398.8 230.4,400.4 231.4,402.0 232.4,402.8 233.4,402.4 234.4,402.1 235.4,401.7 236.4,401.4 237.4,401.1 238.4,400.7 239.4,400.4 240.4,400.1 241.4,399.9 242.4,399.9 243.4,399.9 244.4,399.9 245.4,400.3 246.4,401.3 247.4,402.3 248.4,403.2 249.4,404.0 250.4,404.8 251.4,405.6 252.4,406.4 253.4,406.8 254.4,406.7 255.4,406.6 256.4,406.5 257.4,406.3 258.4,406.2 259.4,406.1 260.4,406.0 261.4,403.1 262.4,398.9 263.4,398.9 264.4,398.9 265.4,398.9 266.4,398.9 267.4,398.9 268.4,398.9 269.4,398.9 270.4,398.9 271.4,398.9 272.4,398.9 273.4,398.9 274.4,400.5 275.4,403.5 276.4,405.0 277.4,406.5 278.4,408.0 279.4,408.8 280.4,408.7 281.4,408.5 282.4,408.3 283.4,408.2 284.4,408.0 285.4,407.6 286.4,406.9 287.4,406.1 288.4,405.4 289.4,402.1 290.4,395.1 291.4,390.9 292.4,390.9 293.4,390.9 294.4,392.9 295.4,397.9 296.4,400.5 297.4,399.6 298.4,398.6 299.4,397.7 300.4,397.1 301.4,398.4 302.4,399.6 303.4,400.9 304.4,402.1 305.4,402.5 306.4,401.5 307.4,400.4 308.4,399.4 309.4,398.3 310.4,397.3 311.4,397.4 312.4,398.1 313.4,398.9 314.4,399.7 315.4,400.4 316.4,400.6 317.4,399.8 318.4,399.0 319.4,398.2 320.4,397.4 321.4,396.6 322.4,395.9 323.4,395.4 324.4,395.0 325.4,394.6 326.4,394.2 327.4,393.1 328.4,391.1 329.4,389.1 330.4,388.4 331.4,389.7 332.4,391.1 333.4,392.4 334.4,392.2 335.4,391.0 336.4,389.8 337.4,388.6 338.4,387.9 339.4,387.9 339.4,420.7 338.4,420.1 337.4,419.5 336.4,418.9 335.4,418.3 334.4,418.3 333.4,418.5 332.4,418.8 331.4,419.0 330.4,419.3 329.4,419.5 328.4,419.8 327.4,420.0 326.4,419.7 325.4,419.1 324.4,418.6 323.4,418.0 322.4,417.5 321.4,416.9 320.4,416.3 319.4,416.1 318.4,416.1 317.4,416.1 316.4,416.1 315.4,416.1 314.4,416.1 313.4,416.1 312.4,416.1 311.4,416.1 310.4,416.1 309.4,416.1 308.4,416.1 307.4,416.1 306.4,416.1 305.4,416.1 304.4,416.1 303.4,416.1 302.4,416.1 301.4,416.1 300.4,416.1 299.4,416.4 298.4,416.9 297.4,417.4 296.4,417.9 295.4,418.4 294.4,418.9 293.4,420.8 292.4,423.6 291.4,426.0 290.4,424.9 289.4,423.8 288.4,422.7 287.4,421.5 286.4,420.6 285.4,419.8 284.4,419.0 283.4,418.2 282.4,417.4 281.4,417.7 280.4,418.7 279.4,419.7 278.4,420.7 277.4,421.7 276.4,422.7 275.4,423.6 274.4,424.6 273.4,425.5 272.4,424.4 271.4,423.0 270.4,421.6 269.4,421.6 268.4,422.4 267.4,423.2 266.4,424.0 265.4,424.8 264.4,425.6 263.4,425.6 262.4,424.4 261.4,423.2 260.4,422.0 259.4,420.8 258.4,419.6 257.4,419.1 256.4,419.1 255.4,419.1 254.4,419.1 253.4,419.1 252.4,419.1 251.4,419.1 250.4,419.4 249.4,420.0 248.4,420.5 247.4,421.1 246.4,421.6 245.4,421.2 244.4,420.8 243.4,420.4 242.4,420.0 241.4,419.6 240.4,419.3 239.4,419.1 238.4,419.2 237.4,419.3 236.4,419.3 235.4,419.4 234.4,419.5 233.4,419.5 232.4,419.6 231.4,419.1 230.4,418.4 229.4,417.7 228.4,417.1 227.4,416.4 226.4,415.8 225.4,415.4 224.4,414.9 223.4,414.5 222.4,414.2 221.4,415.4 220.4,416.5 219.4,417.6 218.4,418.5 217.4,419.1 216.4,419.7 215.4,420.3 214.4,420.9 213.4,422.5 212.4,424.9 211.4,425.5 210.4,424.2 209.4,422.9 208.4,421.6 207.4,420.8 206.4,420.3 205.4,419.8 204.4,419.3 203.4,419.3 202.4,419.7 201.4,420.1 200.4,420.5 199.4,420.9 198.4,421.0 197.4,420.7 196.4,420.5 195.4,420.2 194.4,420.2 193.4,420.3 192.4,420.4 191.4,420.5 190.4,420.6 189.4,420.8 188.4,421.2 187.4,421.6 186.4,422.0 185.4,422.4 184.4,423.4 183.4,424.7 182.4,426.1 181.4,426.6 180.4,426.6 179.4,426.6 178.4,426.6 177.4,426.0 176.4,419.3 175.4,411.9 174.4,410.1 173.4,408.3 172.4,407.3 171.4,406.8 170.4,406.3 169.4,405.8 168.4,405.3 167.4,405.1 166.4,405.1 165.4,405.1 164.4,405.1 163.4,405.1 162.4,405.2 161.4,406.6 160.4,408.0 159.4,409.7 158.4,411.5 157.4,413.4 156.4,416.1 155.4,418.8 154.4,420.4 153.4,422.0 152.4,422.9 151.4,423.4 150.4,423.9 149.4,424.0 148.4,423.8 147.4,423.6 146.4,423.4 145.4,423.2 144.4,423.3 143.4,423.7 142.4,424.1 141.4,424.5 140.4,424.9 139.4,425.2 138.4,425.4 137.4,425.6 136.4,425.8 135.4,426.0 134.4,425.9 133.4,425.5 132.4,425.1 131.4,424.7 130.4,424.3 129.4,424.3 128.4,424.7 127.4,425.1 126.4,425.5 125.4,425.9 124.4,426.1 123.4,426.1 122.4,426.1 121.4,426.1" fill="#c8001a"/>
<path d="M121.5,428.7L122.3,401.7L122.8,412.0L123.4,430.1L124.4,397.0L124.6,429.6L125.8,421.8L126.2,399.9L127.3,402.4L127.9,403.6L128.4,400.8L129.1,409.0L130.0,428.1L130.3,426.7L131.4,425.0L132.0,414.5L132.8,395.5L133.5,427.6L134.0,407.2L134.6,429.8L135.5,394.2L136.1,411.8L136.6,420.7L137.6,413.9L138.1,429.1L139.0,406.5L139.3,398.1L140.2,421.3L141.2,417.7L142.0,408.5L142.6,414.5L142.9,407.3L143.5,400.2L144.5,420.0L145.1,396.6L145.7,408.5L146.8,395.6L147.3,419.3L148.0,425.8L148.5,396.0L149.6,421.3L150.1,409.3L150.8,405.4L151.2,425.8L151.9,425.6L153.1,415.7L153.5,403.7L154.1,421.9L154.7,396.6L155.9,400.2L156.4,399.7L156.9,407.4L157.7,416.2L158.2,406.9L159.4,411.8L159.9,396.4L160.4,397.6L161.4,399.7L161.9,395.7L162.6,407.6L163.7,402.0L164.1,393.6L164.7,408.5L165.5,400.3L166.5,391.6L167.2,396.2L167.3,390.5L168.3,404.7L169.1,391.0L169.6,400.7L170.1,395.0L171.2,395.0L171.8,405.0L172.5,410.6L173.0,411.1L174.0,400.6L174.7,408.7L175.5,406.5L175.8,409.8L176.8,402.2L177.7,428.4L178.0,387.8L178.8,393.3L179.8,388.0L180.0,407.6L180.7,417.9L181.7,415.2L182.2,428.3L182.8,427.6L183.8,395.5L184.7,426.6L185.2,404.3L185.7,393.8L186.8,425.6L187.5,388.5L187.9,387.6L188.7,388.5L189.3,424.9L190.0,388.9L190.5,402.0L191.4,418.2L192.0,390.1L193.0,398.1L193.7,421.8L193.9,393.4L195.1,416.3L195.8,424.1L196.3,413.2L196.9,405.6L197.8,405.0L198.1,399.3L198.9,416.3L199.5,424.7L200.6,416.5L201.5,424.0L202.0,409.8L202.3,412.5L203.0,405.1L204.1,412.4L204.7,422.0L205.6,422.1L205.9,416.1L206.8,421.9L207.4,424.0L208.4,423.5L209.0,395.7L209.7,419.1L210.3,426.2L211.3,400.8L211.8,421.6L212.1,405.9L213.1,398.8L213.6,404.4L214.5,393.0L215.0,392.9L215.9,391.1L216.4,406.7L217.4,422.3L218.1,414.3L218.6,421.4L219.4,397.6L220.3,390.0L220.9,413.9L221.4,419.0L222.3,389.0L223.2,405.8L223.7,418.1L224.0,403.4L225.0,413.9L225.8,400.8L226.6,410.3L227.0,400.6L228.1,414.4L228.7,419.4L229.3,395.1L229.8,420.4L230.4,404.3L231.4,422.1L231.9,422.2L232.5,407.8L233.5,423.4L234.3,401.3L234.9,398.5L235.5,409.1L236.3,407.1L236.8,406.8L237.6,413.7L238.5,402.7L239.0,397.8L239.7,421.9L240.2,397.1L241.0,404.9L241.6,423.7L242.7,422.8L243.2,424.1L244.1,396.7L244.6,423.5L245.4,396.7L246.0,397.3L246.8,412.1L247.3,398.9L248.3,408.2L249.0,400.5L249.3,413.9L250.5,402.5L250.9,417.0L251.7,422.4L252.5,410.4L252.8,403.5L253.9,418.9L254.2,422.5L254.9,411.7L255.8,420.3L256.5,415.4L257.0,409.9L257.8,408.6L258.6,422.0L259.1,424.6L260.1,409.9L260.7,425.1L261.3,414.0L262.3,414.6L262.7,411.2L263.3,424.4L264.3,421.8L264.7,425.1L265.5,406.0L266.2,400.5L266.9,403.8L267.8,414.5L268.6,422.4L269.1,425.2L270.1,410.5L270.6,408.2L271.1,399.0L271.7,394.9L272.3,420.7L273.3,398.8L274.1,410.1L274.8,409.7L275.5,400.2L276.0,426.4L276.9,409.3L277.4,405.8L278.3,411.2L279.1,410.2L279.4,405.5L280.0,408.5L281.0,407.6L281.9,418.8L282.6,407.2L283.0,406.1L283.7,422.1L284.6,420.3L285.1,408.6L286.1,412.3L286.9,404.5L287.4,412.9L288.1,406.2L288.9,423.9L289.4,399.5L290.1,399.1L290.9,389.9L291.3,387.5L291.9,412.9L292.9,424.8L293.7,400.5L294.4,403.6L295.2,422.0L295.9,422.1L296.3,421.1L297.1,420.8L297.5,396.3L298.3,394.9L299.4,401.6L300.1,405.9L300.7,401.8L301.5,408.1L301.9,418.3L302.7,419.5L303.5,399.1L304.1,418.6L304.7,404.0L305.6,412.4L306.5,398.2L307.0,419.0L307.9,409.5L308.3,401.3L309.1,412.1L309.7,418.7L310.3,393.9L311.4,418.8L312.0,410.3L312.7,409.4L313.1,395.5L313.6,405.9L314.4,419.1L315.5,419.4L315.8,418.6L316.8,413.5L317.6,397.7L318.2,416.6L319.0,419.3L319.3,395.2L320.3,419.0L321.2,404.2L321.4,411.6L322.1,397.2L322.9,395.1L323.9,408.3L324.5,393.7L325.4,415.0L325.7,398.7L326.3,400.9L327.4,412.2L328.1,419.7L328.3,410.6L329.2,412.4L330.2,394.6L331.0,414.8L331.3,399.9L331.9,419.4L333.0,415.2L333.8,403.7L334.3,389.0L334.9,420.3L335.5,421.5L336.5,422.4L337.3,386.2L337.7,422.5L338.4,404.6L338.9,414.5L340.1,400.3" stroke="#c8001a" stroke-width="1.2" fill="none"/>
<path d="M118.6,428.7a2.9,2.9 0 1,0 5.8,0a2.9,2.9 0 1,0 -5.8,0M119.4,401.7a2.9,2.9 0 1,0 5.8,0a2.9,2.9 0 1,0 -5.8,0M119.9,412.0a2.9,2.9 0 1,0 5.8,0a2.9,2.9 0 1,0 -5.8,0M120.5,430.1a2.9,2.9 0 1,0 5.8,0a2.9,2.9 0 1,0 -5.8,0M121.5,397.0a2.9,2.9 0 1,0 5.8,0a2.9,2.9 0 1,0 -5.8,0M121.7,429.6a2.9,2.9 0 1,0 5.8,0a2.9,2.9 0 1,0 -5.8,0M122.9,421.8a2.9,2.9 0 1,0 5.8,0a2.9,2.9 0 1,0 -5.8,0M123.3,399.9a2.9,2.9 0 1,0 5.8,0a2.9,2.9 0 1,0 -5.8,0M124.4,402.4a2.9,2.9 0 1,0 5.8,0a2.9,2.9 0 1,0 -5.8,0M125.0,403.6a2.9,2.9 0 1,0 5.8,0a2.9,2.9 0 1,0 -5.8,0M125.5,400.8a2.9,2.9 0 1,0 5.8,0a2.9,2.9 0 1,0 -5.8,0M126.2,409.0a2.9,2.9 0 1,0 5.8,0a2.9,2.9 0 1,0 -5.8,0M127.1,428.1a2.9,2.9 0 1,0 5.8,0a2.9,2.9 0 1,0 -5.8,0M127.4,426.7a2.9,2.9 0 1,0 5.8,0a2.9,2.9 0 1,0 -5.8,0M128.5,425.0a2.9,2.9 0 1,0 5.8,0a2.9,2.9 0 1,0 -5.8,0M129.1,414.5a2.9,2.9 0 1,0 5.8,0a2.9,2.9 0 1,0 -5.8,0M129.9,395.5a2.9,2.9 0 1,0 5.8,0a2.9,2.9 0 1,0 -5.8,0M130.6,427.6a2.9,2.9 0 1,0 5.8,0a2.9,2.9 0 1,0 -5.8,0M131.1,407.2a2.9,2.9 0 1,0 5.8,0a2.9,2.9 0 1,0 -5.8,0M131.7,429.8a2.9,2.9 0 1,0 5.8,0a2.9,2.9 0 1,0 -5.8,0M132.6,394.2a2.9,2.9 0 1,0 5.8,0a2.9,2.9 0 1,0 -5.8,0M133.2,411.8a2.9,2.9 0 1,0 5.8,0a2.9,2.9 0 1,0 -5.8,0M133.7,420.7a2.9,2.9 0 1,0 5.8,0a2.9,2.9 0 1,0 -5.8,0M134.7,413.9a2.9,2.9 0 1,0 5.8,0a2.9,2.9 0 1,0 -5.8,0M135.2,429.1a2.9,2.9 0 1,0 5.8,0a2.9,2.9 0 1,0 -5.8,0M136.1,406.5a2.9,2.9 0 1,0 5.8,0a2.9,2.9 0 1,0 -5.8,0M136.4,398.1a2.9,2.9 0 1,0 5.8,0a2.9,2.9 0 1,0 -5.8,0M137.3,421.3a2.9,2.9 0 1,0 5.8,0a2.9,2.9 0 1,0 -5.8,0M138.3,417.7a2.9,2.9 0 1,0 5.8,0a2.9,2.9 0 1,0 -5.8,0M139.1,408.5a2.9,2.9 0 1,0 5.8,0a2.9,2.9 0 1,0 -5.8,0M139.7,414.5a2.9,2.9 0 1,0 5.8,0a2.9,2.9 0 1,0 -5.8,0M140.0,407.3a2.9,2.9 0 1,0 5.8,0a2.9,2.9 0 1,0 -5.8,0M140.6,400.2a2.9,2.9 0 1,0 5.8,0a2.9,2.9 0 1,0 -5.8,0M141.6,420.0a2.9,2.9 0 1,0 5.8,0a2.9,2.9 0 1,0 -5.8,0M142.2,396.6a2.9,2.9 0 1,0 5.8,0a2.9,2.9 0 1,0 -5.8,0M142.8,408.5a2.9,2.9 0 1,0 5.8,0a2.9,2.9 0 1,0 -5.8,0M143.9,395.6a2.9,2.9 0 1,0 5.8,0a2.9,2.9 0 1,0 -5.8,0M144.4,419.3a2.9,2.9 0 1,0 5.8,0a2.9,2.9 0 1,0 -5.8,0M145.1,425.8a2.9,2.9 0 1,0 5.8,0a2.9,2.9 0 1,0 -5.8,0M145.6,396.0a2.9,2.9 0 1,0 5.8,0a2.9,2.9 0 1,0 -5.8,0M146.7,421.3a2.9,2.9 0 1,0 5.8,0a2.9,2.9 0 1,0 -5.8,0M147.2,409.3a2.9,2.9 0 1,0 5.8,0a2.9,2.9 0 1,0 -5.8,0M147.9,405.4a2.9,2.9 0 1,0 5.8,0a2.9,2.9 0 1,0 -5.8,0M148.3,425.8a2.9,2.9 0 1,0 5.8,0a2.9,2.9 0 1,0 -5.8,0M149.0,425.6a2.9,2.9 0 1,0 5.8,0a2.9,2.9 0 1,0 -5.8,0M150.2,415.7a2.9,2.9 0 1,0 5.8,0a2.9,2.9 0 1,0 -5.8,0M150.6,403.7a2.9,2.9 0 1,0 5.8,0a2.9,2.9 0 1,0 -5.8,0M151.2,421.9a2.9,2.9 0 1,0 5.8,0a2.9,2.9 0 1,0 -5.8,0M151.8,396.6a2.9,2.9 0 1,0 5.8,0a2.9,2.9 0 1,0 -5.8,0M153.0,400.2a2.9,2.9 0 1,0 5.8,0a2.9,2.9 0 1,0 -5.8,0M153.5,399.7a2.9,2.9 0 1,0 5.8,0a2.9,2.9 0 1,0 -5.8,0M154.0,407.4a2.9,2.9 0 1,0 5.8,0a2.9,2.9 0 1,0 -5.8,0M154.8,416.2a2.9,2.9 0 1,0 5.8,0a2.9,2.9 0 1,0 -5.8,0M155.3,406.9a2.9,2.9 0 1,0 5.8,0a2.9,2.9 0 1,0 -5.8,0M156.5,411.8a2.9,2.9 0 1,0 5.8,0a2.9,2.9 0 1,0 -5.8,0M157.0,396.4a2.9,2.9 0 1,0 5.8,0a2.9,2.9 0 1,0 -5.8,0M157.5,397.6a2.9,2.9 0 1,0 5.8,0a2.9,2.9 0 1,0 -5.8,0M158.5,399.7a2.9,2.9 0 1,0 5.8,0a2.9,2.9 0 1,0 -5.8,0M159.0,395.7a2.9,2.9 0 1,0 5.8,0a2.9,2.9 0 1,0 -5.8,0M159.7,407.6a2.9,2.9 0 1,0 5.8,0a2.9,2.9 0 1,0 -5.8,0M160.8,402.0a2.9,2.9 0 1,0 5.8,0a2.9,2.9 0 1,0 -5.8,0M161.2,393.6a2.9,2.9 0 1,0 5.8,0a2.9,2.9 0 1,0 -5.8,0M161.8,408.5a2.9,2.9 0 1,0 5.8,0a2.9,2.9 0 1,0 -5.8,0M162.6,400.3a2.9,2.9 0 1,0 5.8,0a2.9,2.9 0 1,0 -5.8,0M163.6,391.6a2.9,2.9 0 1,0 5.8,0a2.9,2.9 0 1,0 -5.8,0M164.3,396.2a2.9,2.9 0 1,0 5.8,0a2.9,2.9 0 1,0 -5.8,0M164.4,390.5a2.9,2.9 0 1,0 5.8,0a2.9,2.9 0 1,0 -5.8,0M165.4,404.7a2.9,2.9 0 1,0 5.8,0a2.9,2.9 0 1,0 -5.8,0M166.2,391.0a2.9,2.9 0 1,0 5.8,0a2.9,2.9 0 1,0 -5.8,0M166.7,400.7a2.9,2.9 0 1,0 5.8,0a2.9,2.9 0 1,0 -5.8,0M167.2,395.0a2.9,2.9 0 1,0 5.8,0a2.9,2.9 0 1,0 -5.8,0M168.3,395.0a2.9,2.9 0 1,0 5.8,0a2.9,2.9 0 1,0 -5.8,0M168.9,405.0a2.9,2.9 0 1,0 5.8,0a2.9,2.9 0 1,0 -5.8,0M169.6,410.6a2.9,2.9 0 1,0 5.8,0a2.9,2.9 0 1,0 -5.8,0M170.1,411.1a2.9,2.9 0 1,0 5.8,0a2.9,2.9 0 1,0 -5.8,0M171.1,400.6a2.9,2.9 0 1,0 5.8,0a2.9,2.9 0 1,0 -5.8,0M171.8,408.7a2.9,2.9 0 1,0 5.8,0a2.9,2.9 0 1,0 -5.8,0M172.6,406.5a2.9,2.9 0 1,0 5.8,0a2.9,2.9 0 1,0 -5.8,0M172.9,409.8a2.9,2.9 0 1,0 5.8,0a2.9,2.9 0 1,0 -5.8,0M173.9,402.2a2.9,2.9 0 1,0 5.8,0a2.9,2.9 0 1,0 -5.8,0M174.8,428.4a2.9,2.9 0 1,0 5.8,0a2.9,2.9 0 1,0 -5.8,0M175.1,387.8a2.9,2.9 0 1,0 5.8,0a2.9,2.9 0 1,0 -5.8,0M175.9,393.3a2.9,2.9 0 1,0 5.8,0a2.9,2.9 0 1,0 -5.8,0M176.9,388.0a2.9,2.9 0 1,0 5.8,0a2.9,2.9 0 1,0 -5.8,0M177.1,407.6a2.9,2.9 0 1,0 5.8,0a2.9,2.9 0 1,0 -5.8,0M177.8,417.9a2.9,2.9 0 1,0 5.8,0a2.9,2.9 0 1,0 -5.8,0M178.8,415.2a2.9,2.9 0 1,0 5.8,0a2.9,2.9 0 1,0 -5.8,0M179.3,428.3a2.9,2.9 0 1,0 5.8,0a2.9,2.9 0 1,0 -5.8,0M179.9,427.6a2.9,2.9 0 1,0 5.8,0a2.9,2.9 0 1,0 -5.8,0M180.9,395.5a2.9,2.9 0 1,0 5.8,0a2.9,2.9 0 1,0 -5.8,0M181.8,426.6a2.9,2.9 0 1,0 5.8,0a2.9,2.9 0 1,0 -5.8,0M182.3,404.3a2.9,2.9 0 1,0 5.8,0a2.9,2.9 0 1,0 -5.8,0M182.8,393.8a2.9,2.9 0 1,0 5.8,0a2.9,2.9 0 1,0 -5.8,0M183.9,425.6a2.9,2.9 0 1,0 5.8,0a2.9,2.9 0 1,0 -5.8,0M184.6,388.5a2.9,2.9 0 1,0 5.8,0a2.9,2.9 0 1,0 -5.8,0M185.0,387.6a2.9,2.9 0 1,0 5.8,0a2.9,2.9 0 1,0 -5.8,0M185.8,388.5a2.9,2.9 0 1,0 5.8,0a2.9,2.9 0 1,0 -5.8,0M186.4,424.9a2.9,2.9 0 1,0 5.8,0a2.9,2.9 0 1,0 -5.8,0M187.1,388.9a2.9,2.9 0 1,0 5.8,0a2.9,2.9 0 1,0 -5.8,0M187.6,402.0a2.9,2.9 0 1,0 5.8,0a2.9,2.9 0 1,0 -5.8,0M188.5,418.2a2.9,2.9 0 1,0 5.8,0a2.9,2.9 0 1,0 -5.8,0M189.1,390.1a2.9,2.9 0 1,0 5.8,0a2.9,2.9 0 1,0 -5.8,0M190.1,398.1a2.9,2.9 0 1,0 5.8,0a2.9,2.9 0 1,0 -5.8,0M190.8,421.8a2.9,2.9 0 1,0 5.8,0a2.9,2.9 0 1,0 -5.8,0M191.0,393.4a2.9,2.9 0 1,0 5.8,0a2.9,2.9 0 1,0 -5.8,0M192.2,416.3a2.9,2.9 0 1,0 5.8,0a2.9,2.9 0 1,0 -5.8,0M192.9,424.1a2.9,2.9 0 1,0 5.8,0a2.9,2.9 0 1,0 -5.8,0M193.4,413.2a2.9,2.9 0 1,0 5.8,0a2.9,2.9 0 1,0 -5.8,0M194.0,405.6a2.9,2.9 0 1,0 5.8,0a2.9,2.9 0 1,0 -5.8,0M194.9,405.0a2.9,2.9 0 1,0 5.8,0a2.9,2.9 0 1,0 -5.8,0M195.2,399.3a2.9,2.9 0 1,0 5.8,0a2.9,2.9 0 1,0 -5.8,0M196.0,416.3a2.9,2.9 0 1,0 5.8,0a2.9,2.9 0 1,0 -5.8,0M196.6,424.7a2.9,2.9 0 1,0 5.8,0a2.9,2.9 0 1,0 -5.8,0M197.7,416.5a2.9,2.9 0 1,0 5.8,0a2.9,2.9 0 1,0 -5.8,0M198.6,424.0a2.9,2.9 0 1,0 5.8,0a2.9,2.9 0 1,0 -5.8,0M199.1,409.8a2.9,2.9 0 1,0 5.8,0a2.9,2.9 0 1,0 -5.8,0M199.4,412.5a2.9,2.9 0 1,0 5.8,0a2.9,2.9 0 1,0 -5.8,0M200.1,405.1a2.9,2.9 0 1,0 5.8,0a2.9,2.9 0 1,0 -5.8,0M201.2,412.4a2.9,2.9 0 1,0 5.8,0a2.9,2.9 0 1,0 -5.8,0M201.8,422.0a2.9,2.9 0 1,0 5.8,0a2.9,2.9 0 1,0 -5.8,0M202.7,422.1a2.9,2.9 0 1,0 5.8,0a2.9,2.9 0 1,0 -5.8,0M203.0,416.1a2.9,2.9 0 1,0 5.8,0a2.9,2.9 0 1,0 -5.8,0M203.9,421.9a2.9,2.9 0 1,0 5.8,0a2.9,2.9 0 1,0 -5.8,0M204.5,424.0a2.9,2.9 0 1,0 5.8,0a2.9,2.9 0 1,0 -5.8,0M205.5,423.5a2.9,2.9 0 1,0 5.8,0a2.9,2.9 0 1,0 -5.8,0M206.1,395.7a2.9,2.9 0 1,0 5.8,0a2.9,2.9 0 1,0 -5.8,0M206.8,419.1a2.9,2.9 0 1,0 5.8,0a2.9,2.9 0 1,0 -5.8,0M207.4,426.2a2.9,2.9 0 1,0 5.8,0a2.9,2.9 0 1,0 -5.8,0M208.4,400.8a2.9,2.9 0 1,0 5.8,0a2.9,2.9 0 1,0 -5.8,0M208.9,421.6a2.9,2.9 0 1,0 5.8,0a2.9,2.9 0 1,0 -5.8,0M209.2,405.9a2.9,2.9 0 1,0 5.8,0a2.9,2.9 0 1,0 -5.8,0M210.2,398.8a2.9,2.9 0 1,0 5.8,0a2.9,2.9 0 1,0 -5.8,0M210.7,404.4a2.9,2.9 0 1,0 5.8,0a2.9,2.9 0 1,0 -5.8,0M211.6,393.0a2.9,2.9 0 1,0 5.8,0a2.9,2.9 0 1,0 -5.8,0M212.1,392.9a2.9,2.9 0 1,0 5.8,0a2.9,2.9 0 1,0 -5.8,0M213.0,391.1a2.9,2.9 0 1,0 5.8,0a2.9,2.9 0 1,0 -5.8,0M213.5,406.7a2.9,2.9 0 1,0 5.8,0a2.9,2.9 0 1,0 -5.8,0M214.5,422.3a2.9,2.9 0 1,0 5.8,0a2.9,2.9 0 1,0 -5.8,0M215.2,414.3a2.9,2.9 0 1,0 5.8,0a2.9,2.9 0 1,0 -5.8,0M215.7,421.4a2.9,2.9 0 1,0 5.8,0a2.9,2.9 0 1,0 -5.8,0M216.5,397.6a2.9,2.9 0 1,0 5.8,0a2.9,2.9 0 1,0 -5.8,0M217.4,390.0a2.9,2.9 0 1,0 5.8,0a2.9,2.9 0 1,0 -5.8,0M218.0,413.9a2.9,2.9 0 1,0 5.8,0a2.9,2.9 0 1,0 -5.8,0M218.5,419.0a2.9,2.9 0 1,0 5.8,0a2.9,2.9 0 1,0 -5.8,0M219.4,389.0a2.9,2.9 0 1,0 5.8,0a2.9,2.9 0 1,0 -5.8,0M220.3,405.8a2.9,2.9 0 1,0 5.8,0a2.9,2.9 0 1,0 -5.8,0M220.8,418.1a2.9,2.9 0 1,0 5.8,0a2.9,2.9 0 1,0 -5.8,0M221.1,403.4a2.9,2.9 0 1,0 5.8,0a2.9,2.9 0 1,0 -5.8,0M222.1,413.9a2.9,2.9 0 1,0 5.8,0a2.9,2.9 0 1,0 -5.8,0M222.9,400.8a2.9,2.9 0 1,0 5.8,0a2.9,2.9 0 1,0 -5.8,0M223.7,410.3a2.9,2.9 0 1,0 5.8,0a2.9,2.9 0 1,0 -5.8,0M224.1,400.6a2.9,2.9 0 1,0 5.8,0a2.9,2.9 0 1,0 -5.8,0M225.2,414.4a2.9,2.9 0 1,0 5.8,0a2.9,2.9 0 1,0 -5.8,0M225.8,419.4a2.9,2.9 0 1,0 5.8,0a2.9,2.9 0 1,0 -5.8,0M226.4,395.1a2.9,2.9 0 1,0 5.8,0a2.9,2.9 0 1,0 -5.8,0M226.9,420.4a2.9,2.9 0 1,0 5.8,0a2.9,2.9 0 1,0 -5.8,0M227.5,404.3a2.9,2.9 0 1,0 5.8,0a2.9,2.9 0 1,0 -5.8,0M228.5,422.1a2.9,2.9 0 1,0 5.8,0a2.9,2.9 0 1,0 -5.8,0M229.0,422.2a2.9,2.9 0 1,0 5.8,0a2.9,2.9 0 1,0 -5.8,0M229.6,407.8a2.9,2.9 0 1,0 5.8,0a2.9,2.9 0 1,0 -5.8,0M230.6,423.4a2.9,2.9 0 1,0 5.8,0a2.9,2.9 0 1,0 -5.8,0M231.4,401.3a2.9,2.9 0 1,0 5.8,0a2.9,2.9 0 1,0 -5.8,0M232.0,398.5a2.9,2.9 0 1,0 5.8,0a2.9,2.9 0 1,0 -5.8,0M232.6,409.1a2.9,2.9 0 1,0 5.8,0a2.9,2.9 0 1,0 -5.8,0M233.4,407.1a2.9,2.9 0 1,0 5.8,0a2.9,2.9 0 1,0 -5.8,0M233.9,406.8a2.9,2.9 0 1,0 5.8,0a2.9,2.9 0 1,0 -5.8,0M234.7,413.7a2.9,2.9 0 1,0 5.8,0a2.9,2.9 0 1,0 -5.8,0M235.6,402.7a2.9,2.9 0 1,0 5.8,0a2.9,2.9 0 1,0 -5.8,0M236.1,397.8a2.9,2.9 0 1,0 5.8,0a2.9,2.9 0 1,0 -5.8,0M236.8,421.9a2.9,2.9 0 1,0 5.8,0a2.9,2.9 0 1,0 -5.8,0M237.3,397.1a2.9,2.9 0 1,0 5.8,0a2.9,2.9 0 1,0 -5.8,0M238.1,404.9a2.9,2.9 0 1,0 5.8,0a2.9,2.9 0 1,0 -5.8,0M238.7,423.7a2.9,2.9 0 1,0 5.8,0a2.9,2.9 0 1,0 -5.8,0M239.8,422.8a2.9,2.9 0 1,0 5.8,0a2.9,2.9 0 1,0 -5.8,0M240.3,424.1a2.9,2.9 0 1,0 5.8,0a2.9,2.9 0 1,0 -5.8,0M241.2,396.7a2.9,2.9 0 1,0 5.8,0a2.9,2.9 0 1,0 -5.8,0M241.7,423.5a2.9,2.9 0 1,0 5.8,0a2.9,2.9 0 1,0 -5.8,0M242.5,396.7a2.9,2.9 0 1,0 5.8,0a2.9,2.9 0 1,0 -5.8,0M243.1,397.3a2.9,2.9 0 1,0 5.8,0a2.9,2.9 0 1,0 -5.8,0M243.9,412.1a2.9,2.9 0 1,0 5.8,0a2.9,2.9 0 1,0 -5.8,0M244.4,398.9a2.9,2.9 0 1,0 5.8,0a2.9,2.9 0 1,0 -5.8,0M245.4,408.2a2.9,2.9 0 1,0 5.8,0a2.9,2.9 0 1,0 -5.8,0M246.1,400.5a2.9,2.9 0 1,0 5.8,0a2.9,2.9 0 1,0 -5.8,0M246.4,413.9a2.9,2.9 0 1,0 5.8,0a2.9,2.9 0 1,0 -5.8,0M247.6,402.5a2.9,2.9 0 1,0 5.8,0a2.9,2.9 0 1,0 -5.8,0M248.0,417.0a2.9,2.9 0 1,0 5.8,0a2.9,2.9 0 1,0 -5.8,0M248.8,422.4a2.9,2.9 0 1,0 5.8,0a2.9,2.9 0 1,0 -5.8,0M249.6,410.4a2.9,2.9 0 1,0 5.8,0a2.9,2.9 0 1,0 -5.8,0M249.9,403.5a2.9,2.9 0 1,0 5.8,0a2.9,2.9 0 1,0 -5.8,0M251.0,418.9a2.9,2.9 0 1,0 5.8,0a2.9,2.9 0 1,0 -5.8,0M251.3,422.5a2.9,2.9 0 1,0 5.8,0a2.9,2.9 0 1,0 -5.8,0M252.0,411.7a2.9,2.9 0 1,0 5.8,0a2.9,2.9 0 1,0 -5.8,0M252.9,420.3a2.9,2.9 0 1,0 5.8,0a2.9,2.9 0 1,0 -5.8,0M253.6,415.4a2.9,2.9 0 1,0 5.8,0a2.9,2.9 0 1,0 -5.8,0M254.1,409.9a2.9,2.9 0 1,0 5.8,0a2.9,2.9 0 1,0 -5.8,0M254.9,408.6a2.9,2.9 0 1,0 5.8,0a2.9,2.9 0 1,0 -5.8,0M255.7,422.0a2.9,2.9 0 1,0 5.8,0a2.9,2.9 0 1,0 -5.8,0M256.2,424.6a2.9,2.9 0 1,0 5.8,0a2.9,2.9 0 1,0 -5.8,0M257.2,409.9a2.9,2.9 0 1,0 5.8,0a2.9,2.9 0 1,0 -5.8,0M257.8,425.1a2.9,2.9 0 1,0 5.8,0a2.9,2.9 0 1,0 -5.8,0M258.4,414.0a2.9,2.9 0 1,0 5.8,0a2.9,2.9 0 1,0 -5.8,0M259.4,414.6a2.9,2.9 0 1,0 5.8,0a2.9,2.9 0 1,0 -5.8,0M259.8,411.2a2.9,2.9 0 1,0 5.8,0a2.9,2.9 0 1,0 -5.8,0M260.4,424.4a2.9,2.9 0 1,0 5.8,0a2.9,2.9 0 1,0 -5.8,0M261.4,421.8a2.9,2.9 0 1,0 5.8,0a2.9,2.9 0 1,0 -5.8,0M261.8,425.1a2.9,2.9 0 1,0 5.8,0a2.9,2.9 0 1,0 -5.8,0M262.6,406.0a2.9,2.9 0 1,0 5.8,0a2.9,2.9 0 1,0 -5.8,0M263.3,400.5a2.9,2.9 0 1,0 5.8,0a2.9,2.9 0 1,0 -5.8,0M264.0,403.8a2.9,2.9 0 1,0 5.8,0a2.9,2.9 0 1,0 -5.8,0M264.9,414.5a2.9,2.9 0 1,0 5.8,0a2.9,2.9 0 1,0 -5.8,0M265.7,422.4a2.9,2.9 0 1,0 5.8,0a2.9,2.9 0 1,0 -5.8,0M266.2,425.2a2.9,2.9 0 1,0 5.8,0a2.9,2.9 0 1,0 -5.8,0M267.2,410.5a2.9,2.9 0 1,0 5.8,0a2.9,2.9 0 1,0 -5.8,0M267.7,408.2a2.9,2.9 0 1,0 5.8,0a2.9,2.9 0 1,0 -5.8,0M268.2,399.0a2.9,2.9 0 1,0 5.8,0a2.9,2.9 0 1,0 -5.8,0M268.8,394.9a2.9,2.9 0 1,0 5.8,0a2.9,2.9 0 1,0 -5.8,0M269.4,420.7a2.9,2.9 0 1,0 5.8,0a2.9,2.9 0 1,0 -5.8,0M270.4,398.8a2.9,2.9 0 1,0 5.8,0a2.9,2.9 0 1,0 -5.8,0M271.2,410.1a2.9,2.9 0 1,0 5.8,0a2.9,2.9 0 1,0 -5.8,0M271.9,409.7a2.9,2.9 0 1,0 5.8,0a2.9,2.9 0 1,0 -5.8,0M272.6,400.2a2.9,2.9 0 1,0 5.8,0a2.9,2.9 0 1,0 -5.8,0M273.1,426.4a2.9,2.9 0 1,0 5.8,0a2.9,2.9 0 1,0 -5.8,0M274.0,409.3a2.9,2.9 0 1,0 5.8,0a2.9,2.9 0 1,0 -5.8,0M274.5,405.8a2.9,2.9 0 1,0 5.8,0a2.9,2.9 0 1,0 -5.8,0M275.4,411.2a2.9,2.9 0 1,0 5.8,0a2.9,2.9 0 1,0 -5.8,0M276.2,410.2a2.9,2.9 0 1,0 5.8,0a2.9,2.9 0 1,0 -5.8,0M276.5,405.5a2.9,2.9 0 1,0 5.8,0a2.9,2.9 0 1,0 -5.8,0M277.1,408.5a2.9,2.9 0 1,0 5.8,0a2.9,2.9 0 1,0 -5.8,0M278.1,407.6a2.9,2.9 0 1,0 5.8,0a2.9,2.9 0 1,0 -5.8,0M279.0,418.8a2.9,2.9 0 1,0 5.8,0a2.9,2.9 0 1,0 -5.8,0M279.7,407.2a2.9,2.9 0 1,0 5.8,0a2.9,2.9 0 1,0 -5.8,0M280.1,406.1a2.9,2.9 0 1,0 5.8,0a2.9,2.9 0 1,0 -5.8,0M280.8,422.1a2.9,2.9 0 1,0 5.8,0a2.9,2.9 0 1,0 -5.8,0M281.7,420.3a2.9,2.9 0 1,0 5.8,0a2.9,2.9 0 1,0 -5.8,0M282.2,408.6a2.9,2.9 0 1,0 5.8,0a2.9,2.9 0 1,0 -5.8,0M283.2,412.3a2.9,2.9 0 1,0 5.8,0a2.9,2.9 0 1,0 -5.8,0M284.0,404.5a2.9,2.9 0 1,0 5.8,0a2.9,2.9 0 1,0 -5.8,0M284.5,412.9a2.9,2.9 0 1,0 5.8,0a2.9,2.9 0 1,0 -5.8,0M285.2,406.2a2.9,2.9 0 1,0 5.8,0a2.9,2.9 0 1,0 -5.8,0M286.0,423.9a2.9,2.9 0 1,0 5.8,0a2.9,2.9 0 1,0 -5.8,0M286.5,399.5a2.9,2.9 0 1,0 5.8,0a2.9,2.9 0 1,0 -5.8,0M287.2,399.1a2.9,2.9 0 1,0 5.8,0a2.9,2.9 0 1,0 -5.8,0M288.0,389.9a2.9,2.9 0 1,0 5.8,0a2.9,2.9 0 1,0 -5.8,0M288.4,387.5a2.9,2.9 0 1,0 5.8,0a2.9,2.9 0 1,0 -5.8,0M289.0,412.9a2.9,2.9 0 1,0 5.8,0a2.9,2.9 0 1,0 -5.8,0M290.0,424.8a2.9,2.9 0 1,0 5.8,0a2.9,2.9 0 1,0 -5.8,0M290.8,400.5a2.9,2.9 0 1,0 5.8,0a2.9,2.9 0 1,0 -5.8,0M291.5,403.6a2.9,2.9 0 1,0 5.8,0a2.9,2.9 0 1,0 -5.8,0M292.3,422.0a2.9,2.9 0 1,0 5.8,0a2.9,2.9 0 1,0 -5.8,0M293.0,422.1a2.9,2.9 0 1,0 5.8,0a2.9,2.9 0 1,0 -5.8,0M293.4,421.1a2.9,2.9 0 1,0 5.8,0a2.9,2.9 0 1,0 -5.8,0M294.2,420.8a2.9,2.9 0 1,0 5.8,0a2.9,2.9 0 1,0 -5.8,0M294.6,396.3a2.9,2.9 0 1,0 5.8,0a2.9,2.9 0 1,0 -5.8,0M295.4,394.9a2.9,2.9 0 1,0 5.8,0a2.9,2.9 0 1,0 -5.8,0M296.5,401.6a2.9,2.9 0 1,0 5.8,0a2.9,2.9 0 1,0 -5.8,0M297.2,405.9a2.9,2.9 0 1,0 5.8,0a2.9,2.9 0 1,0 -5.8,0M297.8,401.8a2.9,2.9 0 1,0 5.8,0a2.9,2.9 0 1,0 -5.8,0M298.6,408.1a2.9,2.9 0 1,0 5.8,0a2.9,2.9 0 1,0 -5.8,0M299.0,418.3a2.9,2.9 0 1,0 5.8,0a2.9,2.9 0 1,0 -5.8,0M299.8,419.5a2.9,2.9 0 1,0 5.8,0a2.9,2.9 0 1,0 -5.8,0M300.6,399.1a2.9,2.9 0 1,0 5.8,0a2.9,2.9 0 1,0 -5.8,0M301.2,418.6a2.9,2.9 0 1,0 5.8,0a2.9,2.9 0 1,0 -5.8,0M301.8,404.0a2.9,2.9 0 1,0 5.8,0a2.9,2.9 0 1,0 -5.8,0M302.7,412.4a2.9,2.9 0 1,0 5.8,0a2.9,2.9 0 1,0 -5.8,0M303.6,398.2a2.9,2.9 0 1,0 5.8,0a2.9,2.9 0 1,0 -5.8,0M304.1,419.0a2.9,2.9 0 1,0 5.8,0a2.9,2.9 0 1,0 -5.8,0M305.0,409.5a2.9,2.9 0 1,0 5.8,0a2.9,2.9 0 1,0 -5.8,0M305.4,401.3a2.9,2.9 0 1,0 5.8,0a2.9,2.9 0 1,0 -5.8,0M306.2,412.1a2.9,2.9 0 1,0 5.8,0a2.9,2.9 0 1,0 -5.8,0M306.8,418.7a2.9,2.9 0 1,0 5.8,0a2.9,2.9 0 1,0 -5.8,0M307.4,393.9a2.9,2.9 0 1,0 5.8,0a2.9,2.9 0 1,0 -5.8,0M308.5,418.8a2.9,2.9 0 1,0 5.8,0a2.9,2.9 0 1,0 -5.8,0M309.1,410.3a2.9,2.9 0 1,0 5.8,0a2.9,2.9 0 1,0 -5.8,0M309.8,409.4a2.9,2.9 0 1,0 5.8,0a2.9,2.9 0 1,0 -5.8,0M310.2,395.5a2.9,2.9 0 1,0 5.8,0a2.9,2.9 0 1,0 -5.8,0M310.7,405.9a2.9,2.9 0 1,0 5.8,0a2.9,2.9 0 1,0 -5.8,0M311.5,419.1a2.9,2.9 0 1,0 5.8,0a2.9,2.9 0 1,0 -5.8,0M312.6,419.4a2.9,2.9 0 1,0 5.8,0a2.9,2.9 0 1,0 -5.8,0M312.9,418.6a2.9,2.9 0 1,0 5.8,0a2.9,2.9 0 1,0 -5.8,0M313.9,413.5a2.9,2.9 0 1,0 5.8,0a2.9,2.9 0 1,0 -5.8,0M314.7,397.7a2.9,2.9 0 1,0 5.8,0a2.9,2.9 0 1,0 -5.8,0M315.3,416.6a2.9,2.9 0 1,0 5.8,0a2.9,2.9 0 1,0 -5.8,0M316.1,419.3a2.9,2.9 0 1,0 5.8,0a2.9,2.9 0 1,0 -5.8,0M316.4,395.2a2.9,2.9 0 1,0 5.8,0a2.9,2.9 0 1,0 -5.8,0M317.4,419.0a2.9,2.9 0 1,0 5.8,0a2.9,2.9 0 1,0 -5.8,0M318.3,404.2a2.9,2.9 0 1,0 5.8,0a2.9,2.9 0 1,0 -5.8,0M318.5,411.6a2.9,2.9 0 1,0 5.8,0a2.9,2.9 0 1,0 -5.8,0M319.2,397.2a2.9,2.9 0 1,0 5.8,0a2.9,2.9 0 1,0 -5.8,0M320.0,395.1a2.9,2.9 0 1,0 5.8,0a2.9,2.9 0 1,0 -5.8,0M321.0,408.3a2.9,2.9 0 1,0 5.8,0a2.9,2.9 0 1,0 -5.8,0M321.6,393.7a2.9,2.9 0 1,0 5.8,0a2.9,2.9 0 1,0 -5.8,0M322.5,415.0a2.9,2.9 0 1,0 5.8,0a2.9,2.9 0 1,0 -5.8,0M322.8,398.7a2.9,2.9 0 1,0 5.8,0a2.9,2.9 0 1,0 -5.8,0M323.4,400.9a2.9,2.9 0 1,0 5.8,0a2.9,2.9 0 1,0 -5.8,0M324.5,412.2a2.9,2.9 0 1,0 5.8,0a2.9,2.9 0 1,0 -5.8,0M325.2,419.7a2.9,2.9 0 1,0 5.8,0a2.9,2.9 0 1,0 -5.8,0M325.4,410.6a2.9,2.9 0 1,0 5.8,0a2.9,2.9 0 1,0 -5.8,0M326.3,412.4a2.9,2.9 0 1,0 5.8,0a2.9,2.9 0 1,0 -5.8,0M327.3,394.6a2.9,2.9 0 1,0 5.8,0a2.9,2.9 0 1,0 -5.8,0M328.1,414.8a2.9,2.9 0 1,0 5.8,0a2.9,2.9 0 1,0 -5.8,0M328.4,399.9a2.9,2.9 0 1,0 5.8,0a2.9,2.9 0 1,0 -5.8,0M329.0,419.4a2.9,2.9 0 1,0 5.8,0a2.9,2.9 0 1,0 -5.8,0M330.1,415.2a2.9,2.9 0 1,0 5.8,0a2.9,2.9 0 1,0 -5.8,0M330.9,403.7a2.9,2.9 0 1,0 5.8,0a2.9,2.9 0 1,0 -5.8,0M331.4,389.0a2.9,2.9 0 1,0 5.8,0a2.9,2.9 0 1,0 -5.8,0M332.0,420.3a2.9,2.9 0 1,0 5.8,0a2.9,2.9 0 1,0 -5.8,0M332.6,421.5a2.9,2.9 0 1,0 5.8,0a2.9,2.9 0 1,0 -5.8,0M333.6,422.4a2.9,2.9 0 1,0 5.8,0a2.9,2.9 0 1,0 -5.8,0M334.4,386.2a2.9,2.9 0 1,0 5.8,0a2.9,2.9 0 1,0 -5.8,0M334.8,422.5a2.9,2.9 0 1,0 5.8,0a2.9,2.9 0 1,0 -5.8,0M335.5,404.6a2.9,2.9 0 1,0 5.8,0a2.9,2.9 0 1,0 -5.8,0M336.0,414.5a2.9,2.9 0 1,0 5.8,0a2.9,2.9 0 1,0 -5.8,0M337.2,400.3a2.9,2.9 0 1,0 5.8,0a2.9,2.9 0 1,0 -5.8,0" fill="#c8001a"/>
<polygon points="343.9,351.8 344.9,348.3 345.9,347.0 346.9,346.0 347.9,345.0 348.9,344.7 349.9,344.5 350.9,344.3 351.9,344.1 352.9,343.9 353.9,344.3 353.9,421.9 352.9,421.9 351.9,419.9 350.9,417.5 349.9,411.5 348.9,406.2 347.9,407.5 346.9,408.7 345.9,410.0 344.9,411.3 343.9,412.8" fill="#c8001a"/>
<path d="M344.1,415.9L344.5,343.8L344.9,350.9L345.7,357.2L346.4,339.8L347.0,378.3L347.7,342.8L348.2,388.1L348.9,365.2L349.4,381.8L349.9,344.5L350.5,387.4L350.9,353.3L351.5,410.1L352.0,337.2L353.1,427.8L353.4,371.1L354.1,408.5" stroke="#c8001a" stroke-width="1.2" fill="none"/>
<path d="M341.2,415.9a2.9,2.9 0 1,0 5.8,0a2.9,2.9 0 1,0 -5.8,0M341.6,343.8a2.9,2.9 0 1,0 5.8,0a2.9,2.9 0 1,0 -5.8,0M342.0,350.9a2.9,2.9 0 1,0 5.8,0a2.9,2.9 0 1,0 -5.8,0M342.8,357.2a2.9,2.9 0 1,0 5.8,0a2.9,2.9 0 1,0 -5.8,0M343.5,339.8a2.9,2.9 0 1,0 5.8,0a2.9,2.9 0 1,0 -5.8,0M344.1,378.3a2.9,2.9 0 1,0 5.8,0a2.9,2.9 0 1,0 -5.8,0M344.8,342.8a2.9,2.9 0 1,0 5.8,0a2.9,2.9 0 1,0 -5.8,0M345.3,388.1a2.9,2.9 0 1,0 5.8,0a2.9,2.9 0 1,0 -5.8,0M346.0,365.2a2.9,2.9 0 1,0 5.8,0a2.9,2.9 0 1,0 -5.8,0M346.5,381.8a2.9,2.9 0 1,0 5.8,0a2.9,2.9 0 1,0 -5.8,0M347.0,344.5a2.9,2.9 0 1,0 5.8,0a2.9,2.9 0 1,0 -5.8,0M347.6,387.4a2.9,2.9 0 1,0 5.8,0a2.9,2.9 0 1,0 -5.8,0M348.0,353.3a2.9,2.9 0 1,0 5.8,0a2.9,2.9 0 1,0 -5.8,0M348.6,410.1a2.9,2.9 0 1,0 5.8,0a2.9,2.9 0 1,0 -5.8,0M349.1,337.2a2.9,2.9 0 1,0 5.8,0a2.9,2.9 0 1,0 -5.8,0M350.2,427.8a2.9,2.9 0 1,0 5.8,0a2.9,2.9 0 1,0 -5.8,0M350.5,371.1a2.9,2.9 0 1,0 5.8,0a2.9,2.9 0 1,0 -5.8,0M351.2,408.5a2.9,2.9 0 1,0 5.8,0a2.9,2.9 0 1,0 -5.8,0" fill="#c8001a"/>
<polygon points="358.4,379.9 359.4,377.5 360.4,373.9 361.4,373.9 362.4,373.9 363.4,373.9 364.4,373.9 365.4,373.9 366.4,373.9 367.4,373.9 368.4,372.7 369.4,370.9 370.4,370.9 371.4,370.9 372.4,370.9 373.4,370.9 374.4,370.9 375.4,370.9 376.4,370.9 377.4,370.9 378.4,370.1 379.4,368.9 380.4,368.9 381.4,368.9 382.4,368.9 383.4,368.9 384.4,368.9 385.4,368.9 386.4,368.9 387.4,377.3 388.4,390.8 389.4,393.0 390.4,395.3 391.4,397.5 392.4,398.9 393.4,398.9 394.4,398.9 395.4,398.9 396.4,398.9 397.4,398.9 398.4,398.9 399.4,398.9 400.4,398.9 401.4,398.9 402.4,398.9 403.4,398.9 404.4,398.9 405.4,398.9 406.4,398.9 407.4,398.9 408.4,398.9 409.4,398.9 409.4,415.5 408.4,417.0 407.4,418.5 406.4,418.0 405.4,417.4 404.4,416.8 403.4,416.2 402.4,415.6 401.4,415.0 400.4,414.3 399.4,414.9 398.4,416.2 397.4,417.5 396.4,418.8 395.4,420.0 394.4,421.3 393.4,420.6 392.4,419.4 391.4,418.2 390.4,417.0 389.4,415.8 388.4,414.6 387.4,414.4 386.4,415.0 385.4,415.6 384.4,416.2 383.4,416.8 382.4,417.4 381.4,417.9 380.4,418.5 379.4,419.1 378.4,418.2 377.4,417.2 376.4,416.3 375.4,415.4 374.4,414.5 373.4,414.7 372.4,415.8 371.4,416.8 370.4,417.9 369.4,418.9 368.4,418.5 367.4,417.7 366.4,416.9 365.4,416.2 364.4,415.4 363.4,414.8 362.4,414.3 361.4,413.8 360.4,413.3 359.4,412.8 358.4,412.3" fill="#c8001a"/>
<path d="M358.2,410.5L359.2,382.7L359.6,371.6L360.7,404.7L361.5,412.0L362.2,369.9L362.5,391.3L363.5,373.2L363.9,377.0L364.6,396.9L365.3,417.2L365.9,372.6L367.0,411.5L367.4,415.2L368.0,419.2L368.7,375.1L369.9,404.6L370.6,366.9L370.8,395.9L371.8,380.4L372.6,387.4L373.3,391.3L373.8,418.9L374.3,412.8L375.2,369.0L376.1,390.6L376.7,367.9L377.3,396.2L377.8,388.4L378.6,381.8L379.5,412.0L380.1,364.4L380.9,388.8L381.4,379.7L382.3,382.6L382.9,365.0L383.8,365.5L384.1,415.5L384.7,373.9L386.0,366.9L386.1,403.2L386.9,408.6L387.8,418.9L388.5,387.6L389.3,396.0L389.8,410.1L390.8,417.4L391.1,398.2L391.9,395.8L392.8,401.1L393.5,425.0L393.9,424.7L394.6,425.7L395.5,411.4L396.3,416.8L396.7,423.0L397.4,414.6L398.4,420.7L398.9,400.2L399.7,417.6L400.5,400.1L401.0,418.0L402.1,418.6L402.3,402.8L403.1,419.0L403.7,409.5L404.9,394.9L405.5,402.5L405.9,410.8L406.8,421.8L407.2,423.2L408.1,419.1L408.6,413.3L409.7,405.7" stroke="#c8001a" stroke-width="1.2" fill="none"/>
<path d="M355.3,410.5a2.9,2.9 0 1,0 5.8,0a2.9,2.9 0 1,0 -5.8,0M356.3,382.7a2.9,2.9 0 1,0 5.8,0a2.9,2.9 0 1,0 -5.8,0M356.7,371.6a2.9,2.9 0 1,0 5.8,0a2.9,2.9 0 1,0 -5.8,0M357.8,404.7a2.9,2.9 0 1,0 5.8,0a2.9,2.9 0 1,0 -5.8,0M358.6,412.0a2.9,2.9 0 1,0 5.8,0a2.9,2.9 0 1,0 -5.8,0M359.3,369.9a2.9,2.9 0 1,0 5.8,0a2.9,2.9 0 1,0 -5.8,0M359.6,391.3a2.9,2.9 0 1,0 5.8,0a2.9,2.9 0 1,0 -5.8,0M360.6,373.2a2.9,2.9 0 1,0 5.8,0a2.9,2.9 0 1,0 -5.8,0M361.0,377.0a2.9,2.9 0 1,0 5.8,0a2.9,2.9 0 1,0 -5.8,0M361.7,396.9a2.9,2.9 0 1,0 5.8,0a2.9,2.9 0 1,0 -5.8,0M362.4,417.2a2.9,2.9 0 1,0 5.8,0a2.9,2.9 0 1,0 -5.8,0M363.0,372.6a2.9,2.9 0 1,0 5.8,0a2.9,2.9 0 1,0 -5.8,0M364.1,411.5a2.9,2.9 0 1,0 5.8,0a2.9,2.9 0 1,0 -5.8,0M364.5,415.2a2.9,2.9 0 1,0 5.8,0a2.9,2.9 0 1,0 -5.8,0M365.1,419.2a2.9,2.9 0 1,0 5.8,0a2.9,2.9 0 1,0 -5.8,0M365.8,375.1a2.9,2.9 0 1,0 5.8,0a2.9,2.9 0 1,0 -5.8,0M367.0,404.6a2.9,2.9 0 1,0 5.8,0a2.9,2.9 0 1,0 -5.8,0M367.7,366.9a2.9,2.9 0 1,0 5.8,0a2.9,2.9 0 1,0 -5.8,0M367.9,395.9a2.9,2.9 0 1,0 5.8,0a2.9,2.9 0 1,0 -5.8,0M368.9,380.4a2.9,2.9 0 1,0 5.8,0a2.9,2.9 0 1,0 -5.8,0M369.7,387.4a2.9,2.9 0 1,0 5.8,0a2.9,2.9 0 1,0 -5.8,0M370.4,391.3a2.9,2.9 0 1,0 5.8,0a2.9,2.9 0 1,0 -5.8,0M370.9,418.9a2.9,2.9 0 1,0 5.8,0a2.9,2.9 0 1,0 -5.8,0M371.4,412.8a2.9,2.9 0 1,0 5.8,0a2.9,2.9 0 1,0 -5.8,0M372.3,369.0a2.9,2.9 0 1,0 5.8,0a2.9,2.9 0 1,0 -5.8,0M373.2,390.6a2.9,2.9 0 1,0 5.8,0a2.9,2.9 0 1,0 -5.8,0M373.8,367.9a2.9,2.9 0 1,0 5.8,0a2.9,2.9 0 1,0 -5.8,0M374.4,396.2a2.9,2.9 0 1,0 5.8,0a2.9,2.9 0 1,0 -5.8,0M374.9,388.4a2.9,2.9 0 1,0 5.8,0a2.9,2.9 0 1,0 -5.8,0M375.7,381.8a2.9,2.9 0 1,0 5.8,0a2.9,2.9 0 1,0 -5.8,0M376.6,412.0a2.9,2.9 0 1,0 5.8,0a2.9,2.9 0 1,0 -5.8,0M377.2,364.4a2.9,2.9 0 1,0 5.8,0a2.9,2.9 0 1,0 -5.8,0M378.0,388.8a2.9,2.9 0 1,0 5.8,0a2.9,2.9 0 1,0 -5.8,0M378.5,379.7a2.9,2.9 0 1,0 5.8,0a2.9,2.9 0 1,0 -5.8,0M379.4,382.6a2.9,2.9 0 1,0 5.8,0a2.9,2.9 0 1,0 -5.8,0M380.0,365.0a2.9,2.9 0 1,0 5.8,0a2.9,2.9 0 1,0 -5.8,0M380.9,365.5a2.9,2.9 0 1,0 5.8,0a2.9,2.9 0 1,0 -5.8,0M381.2,415.5a2.9,2.9 0 1,0 5.8,0a2.9,2.9 0 1,0 -5.8,0M381.8,373.9a2.9,2.9 0 1,0 5.8,0a2.9,2.9 0 1,0 -5.8,0M383.1,366.9a2.9,2.9 0 1,0 5.8,0a2.9,2.9 0 1,0 -5.8,0M383.2,403.2a2.9,2.9 0 1,0 5.8,0a2.9,2.9 0 1,0 -5.8,0M384.0,408.6a2.9,2.9 0 1,0 5.8,0a2.9,2.9 0 1,0 -5.8,0M384.9,418.9a2.9,2.9 0 1,0 5.8,0a2.9,2.9 0 1,0 -5.8,0M385.6,387.6a2.9,2.9 0 1,0 5.8,0a2.9,2.9 0 1,0 -5.8,0M386.4,396.0a2.9,2.9 0 1,0 5.8,0a2.9,2.9 0 1,0 -5.8,0M386.9,410.1a2.9,2.9 0 1,0 5.8,0a2.9,2.9 0 1,0 -5.8,0M387.9,417.4a2.9,2.9 0 1,0 5.8,0a2.9,2.9 0 1,0 -5.8,0M388.2,398.2a2.9,2.9 0 1,0 5.8,0a2.9,2.9 0 1,0 -5.8,0M389.0,395.8a2.9,2.9 0 1,0 5.8,0a2.9,2.9 0 1,0 -5.8,0M389.9,401.1a2.9,2.9 0 1,0 5.8,0a2.9,2.9 0 1,0 -5.8,0M390.6,425.0a2.9,2.9 0 1,0 5.8,0a2.9,2.9 0 1,0 -5.8,0M391.0,424.7a2.9,2.9 0 1,0 5.8,0a2.9,2.9 0 1,0 -5.8,0M391.7,425.7a2.9,2.9 0 1,0 5.8,0a2.9,2.9 0 1,0 -5.8,0M392.6,411.4a2.9,2.9 0 1,0 5.8,0a2.9,2.9 0 1,0 -5.8,0M393.4,416.8a2.9,2.9 0 1,0 5.8,0a2.9,2.9 0 1,0 -5.8,0M393.8,423.0a2.9,2.9 0 1,0 5.8,0a2.9,2.9 0 1,0 -5.8,0M394.5,414.6a2.9,2.9 0 1,0 5.8,0a2.9,2.9 0 1,0 -5.8,0M395.5,420.7a2.9,2.9 0 1,0 5.8,0a2.9,2.9 0 1,0 -5.8,0M396.0,400.2a2.9,2.9 0 1,0 5.8,0a2.9,2.9 0 1,0 -5.8,0M396.8,417.6a2.9,2.9 0 1,0 5.8,0a2.9,2.9 0 1,0 -5.8,0M397.6,400.1a2.9,2.9 0 1,0 5.8,0a2.9,2.9 0 1,0 -5.8,0M398.1,418.0a2.9,2.9 0 1,0 5.8,0a2.9,2.9 0 1,0 -5.8,0M399.2,418.6a2.9,2.9 0 1,0 5.8,0a2.9,2.9 0 1,0 -5.8,0M399.4,402.8a2.9,2.9 0 1,0 5.8,0a2.9,2.9 0 1,0 -5.8,0M400.2,419.0a2.9,2.9 0 1,0 5.8,0a2.9,2.9 0 1,0 -5.8,0M400.8,409.5a2.9,2.9 0 1,0 5.8,0a2.9,2.9 0 1,0 -5.8,0M402.0,394.9a2.9,2.9 0 1,0 5.8,0a2.9,2.9 0 1,0 -5.8,0M402.6,402.5a2.9,2.9 0 1,0 5.8,0a2.9,2.9 0 1,0 -5.8,0M403.0,410.8a2.9,2.9 0 1,0 5.8,0a2.9,2.9 0 1,0 -5.8,0M403.9,421.8a2.9,2.9 0 1,0 5.8,0a2.9,2.9 0 1,0 -5.8,0M404.3,423.2a2.9,2.9 0 1,0 5.8,0a2.9,2.9 0 1,0 -5.8,0M405.2,419.1a2.9,2.9 0 1,0 5.8,0a2.9,2.9 0 1,0 -5.8,0M405.7,413.3a2.9,2.9 0 1,0 5.8,0a2.9,2.9 0 1,0 -5.8,0M406.8,405.7a2.9,2.9 0 1,0 5.8,0a2.9,2.9 0 1,0 -5.8,0" fill="#c8001a"/>
<polygon points="217.9,353.9 218.9,353.9 219.9,353.9 220.9,353.9 221.9,353.9 222.9,353.9 223.9,353.9 224.9,353.9 224.9,384.1 223.9,384.1 222.9,384.1 221.9,384.1 220.9,384.1 219.9,384.1 218.9,384.1 217.9,384.1" fill="#c8001a"/>
<path d="M217.6,352.4L218.2,354.4L219.1,361.9L219.3,390.2L220.0,389.0L220.1,378.6L220.8,373.1L221.4,390.4L222.2,381.7L222.5,378.2L222.8,390.2L223.5,390.0L224.0,390.4L224.4,392.0L224.9,347.8" stroke="#c8001a" stroke-width="1.2" fill="none"/>
<path d="M214.7,352.4a2.9,2.9 0 1,0 5.8,0a2.9,2.9 0 1,0 -5.8,0M215.3,354.4a2.9,2.9 0 1,0 5.8,0a2.9,2.9 0 1,0 -5.8,0M216.2,361.9a2.9,2.9 0 1,0 5.8,0a2.9,2.9 0 1,0 -5.8,0M216.4,390.2a2.9,2.9 0 1,0 5.8,0a2.9,2.9 0 1,0 -5.8,0M217.1,389.0a2.9,2.9 0 1,0 5.8,0a2.9,2.9 0 1,0 -5.8,0M217.2,378.6a2.9,2.9 0 1,0 5.8,0a2.9,2.9 0 1,0 -5.8,0M217.9,373.1a2.9,2.9 0 1,0 5.8,0a2.9,2.9 0 1,0 -5.8,0M218.5,390.4a2.9,2.9 0 1,0 5.8,0a2.9,2.9 0 1,0 -5.8,0M219.3,381.7a2.9,2.9 0 1,0 5.8,0a2.9,2.9 0 1,0 -5.8,0M219.6,378.2a2.9,2.9 0 1,0 5.8,0a2.9,2.9 0 1,0 -5.8,0M219.9,390.2a2.9,2.9 0 1,0 5.8,0a2.9,2.9 0 1,0 -5.8,0M220.6,390.0a2.9,2.9 0 1,0 5.8,0a2.9,2.9 0 1,0 -5.8,0M221.1,390.4a2.9,2.9 0 1,0 5.8,0a2.9,2.9 0 1,0 -5.8,0M221.5,392.0a2.9,2.9 0 1,0 5.8,0a2.9,2.9 0 1,0 -5.8,0M222.0,347.8a2.9,2.9 0 1,0 5.8,0a2.9,2.9 0 1,0 -5.8,0" fill="#c8001a"/>
<path d="M218.5,346.0V395.0M224.6,346.0V395.0M226.8,346.0V395.0" stroke="#c8001a" stroke-width="1.4" fill="none"/>
<path d="M135.2,325.2V400.0M175.3,296.0V380.0M177.6,299.0V380.0M173.8,322.0V380.0M221.3,325.0V370.0M224.4,347.0V370.0M226.7,347.0V370.0M248.9,340.4V395.0M267.4,328.4V380.0M270.5,333.5V380.0M295.7,322.2V395.0M353.8,296.2V340.0M362.8,332.7V372.0M384.6,325.2V370.0" stroke="#c8001a" stroke-width="1.6" fill="none"/>
<path d="M119.8,392.2a2.9,2.9 0 1,0 5.8,0a2.9,2.9 0 1,0 -5.8,0M117.1,396.7a2.9,2.9 0 1,0 5.8,0a2.9,2.9 0 1,0 -5.8,0M117.1,430.8a2.9,2.9 0 1,0 5.8,0a2.9,2.9 0 1,0 -5.8,0M129.1,377.2a2.9,2.9 0 1,0 5.8,0a2.9,2.9 0 1,0 -5.8,0M129.1,385.8a2.9,2.9 0 1,0 5.8,0a2.9,2.9 0 1,0 -5.8,0M129.9,392.2a2.9,2.9 0 1,0 5.8,0a2.9,2.9 0 1,0 -5.8,0M129.6,325.2a2.9,2.9 0 1,0 5.8,0a2.9,2.9 0 1,0 -5.8,0M129.2,363.5a2.9,2.9 0 1,0 5.8,0a2.9,2.9 0 1,0 -5.8,0M129.2,367.4a2.9,2.9 0 1,0 5.8,0a2.9,2.9 0 1,0 -5.8,0M130.7,377.4a2.9,2.9 0 1,0 5.8,0a2.9,2.9 0 1,0 -5.8,0M133.5,378.2a2.9,2.9 0 1,0 5.8,0a2.9,2.9 0 1,0 -5.8,0M129.2,385.9a2.9,2.9 0 1,0 5.8,0a2.9,2.9 0 1,0 -5.8,0M129.9,391.3a2.9,2.9 0 1,0 5.8,0a2.9,2.9 0 1,0 -5.8,0M174.0,295.9a2.9,2.9 0 1,0 5.8,0a2.9,2.9 0 1,0 -5.8,0M170.9,299.3a2.9,2.9 0 1,0 5.8,0a2.9,2.9 0 1,0 -5.8,0M175.5,299.3a2.9,2.9 0 1,0 5.8,0a2.9,2.9 0 1,0 -5.8,0M170.9,322.4a2.9,2.9 0 1,0 5.8,0a2.9,2.9 0 1,0 -5.8,0M170.9,324.7a2.9,2.9 0 1,0 5.8,0a2.9,2.9 0 1,0 -5.8,0M169.0,344.1a2.9,2.9 0 1,0 5.8,0a2.9,2.9 0 1,0 -5.8,0M168.6,352.5a2.9,2.9 0 1,0 5.8,0a2.9,2.9 0 1,0 -5.8,0M172.4,377.4a2.9,2.9 0 1,0 5.8,0a2.9,2.9 0 1,0 -5.8,0M170.6,363.0a2.9,2.9 0 1,0 5.8,0a2.9,2.9 0 1,0 -5.8,0M171.1,372.0a2.9,2.9 0 1,0 5.8,0a2.9,2.9 0 1,0 -5.8,0M173.6,375.5a2.9,2.9 0 1,0 5.8,0a2.9,2.9 0 1,0 -5.8,0M169.6,377.5a2.9,2.9 0 1,0 5.8,0a2.9,2.9 0 1,0 -5.8,0M174.6,377.5a2.9,2.9 0 1,0 5.8,0a2.9,2.9 0 1,0 -5.8,0M170.1,333.0a2.9,2.9 0 1,0 5.8,0a2.9,2.9 0 1,0 -5.8,0M163.1,382.8a2.9,2.9 0 1,0 5.8,0a2.9,2.9 0 1,0 -5.8,0M150.0,392.1a2.9,2.9 0 1,0 5.8,0a2.9,2.9 0 1,0 -5.8,0M158.5,392.8a2.9,2.9 0 1,0 5.8,0a2.9,2.9 0 1,0 -5.8,0M183.2,385.9a2.9,2.9 0 1,0 5.8,0a2.9,2.9 0 1,0 -5.8,0M217.6,325.1a2.9,2.9 0 1,0 5.8,0a2.9,2.9 0 1,0 -5.8,0M217.6,334.4a2.9,2.9 0 1,0 5.8,0a2.9,2.9 0 1,0 -5.8,0M214.5,340.6a2.9,2.9 0 1,0 5.8,0a2.9,2.9 0 1,0 -5.8,0M217.9,346.7a2.9,2.9 0 1,0 5.8,0a2.9,2.9 0 1,0 -5.8,0M222.3,346.7a2.9,2.9 0 1,0 5.8,0a2.9,2.9 0 1,0 -5.8,0M214.2,352.5a2.9,2.9 0 1,0 5.8,0a2.9,2.9 0 1,0 -5.8,0M214.5,363.7a2.9,2.9 0 1,0 5.8,0a2.9,2.9 0 1,0 -5.8,0M214.5,377.4a2.9,2.9 0 1,0 5.8,0a2.9,2.9 0 1,0 -5.8,0M214.5,385.9a2.9,2.9 0 1,0 5.8,0a2.9,2.9 0 1,0 -5.8,0M184.9,385.9a2.9,2.9 0 1,0 5.8,0a2.9,2.9 0 1,0 -5.8,0M189.5,389.0a2.9,2.9 0 1,0 5.8,0a2.9,2.9 0 1,0 -5.8,0M202.2,400.1a2.9,2.9 0 1,0 5.8,0a2.9,2.9 0 1,0 -5.8,0M206.8,393.3a2.9,2.9 0 1,0 5.8,0a2.9,2.9 0 1,0 -5.8,0M212.2,391.8a2.9,2.9 0 1,0 5.8,0a2.9,2.9 0 1,0 -5.8,0M225.3,389.7a2.9,2.9 0 1,0 5.8,0a2.9,2.9 0 1,0 -5.8,0M235.4,392.4a2.9,2.9 0 1,0 5.8,0a2.9,2.9 0 1,0 -5.8,0M240.5,382.8a2.9,2.9 0 1,0 5.8,0a2.9,2.9 0 1,0 -5.8,0M240.5,389.3a2.9,2.9 0 1,0 5.8,0a2.9,2.9 0 1,0 -5.8,0M240.2,389.1a2.9,2.9 0 1,0 5.8,0a2.9,2.9 0 1,0 -5.8,0M246.0,340.4a2.9,2.9 0 1,0 5.8,0a2.9,2.9 0 1,0 -5.8,0M246.0,370.7a2.9,2.9 0 1,0 5.8,0a2.9,2.9 0 1,0 -5.8,0M246.0,374.2a2.9,2.9 0 1,0 5.8,0a2.9,2.9 0 1,0 -5.8,0M257.8,399.8a2.9,2.9 0 1,0 5.8,0a2.9,2.9 0 1,0 -5.8,0M260.1,378.2a2.9,2.9 0 1,0 5.8,0a2.9,2.9 0 1,0 -5.8,0M260.1,392.8a2.9,2.9 0 1,0 5.8,0a2.9,2.9 0 1,0 -5.8,0M263.2,328.4a2.9,2.9 0 1,0 5.8,0a2.9,2.9 0 1,0 -5.8,0M266.6,333.5a2.9,2.9 0 1,0 5.8,0a2.9,2.9 0 1,0 -5.8,0M263.2,337.0a2.9,2.9 0 1,0 5.8,0a2.9,2.9 0 1,0 -5.8,0M266.6,374.2a2.9,2.9 0 1,0 5.8,0a2.9,2.9 0 1,0 -5.8,0M261.1,378.5a2.9,2.9 0 1,0 5.8,0a2.9,2.9 0 1,0 -5.8,0M262.0,382.8a2.9,2.9 0 1,0 5.8,0a2.9,2.9 0 1,0 -5.8,0M291.6,322.2a2.9,2.9 0 1,0 5.8,0a2.9,2.9 0 1,0 -5.8,0M291.6,325.3a2.9,2.9 0 1,0 5.8,0a2.9,2.9 0 1,0 -5.8,0M289.4,385.7a2.9,2.9 0 1,0 5.8,0a2.9,2.9 0 1,0 -5.8,0M276.1,403.7a2.9,2.9 0 1,0 5.8,0a2.9,2.9 0 1,0 -5.8,0M297.3,392.7a2.9,2.9 0 1,0 5.8,0a2.9,2.9 0 1,0 -5.8,0M307.9,393.1a2.9,2.9 0 1,0 5.8,0a2.9,2.9 0 1,0 -5.8,0M319.4,392.1a2.9,2.9 0 1,0 5.8,0a2.9,2.9 0 1,0 -5.8,0M327.1,383.1a2.9,2.9 0 1,0 5.8,0a2.9,2.9 0 1,0 -5.8,0M330.9,389.2a2.9,2.9 0 1,0 5.8,0a2.9,2.9 0 1,0 -5.8,0M337.7,383.1a2.9,2.9 0 1,0 5.8,0a2.9,2.9 0 1,0 -5.8,0M342.5,377.7a2.9,2.9 0 1,0 5.8,0a2.9,2.9 0 1,0 -5.8,0M349.6,296.2a2.9,2.9 0 1,0 5.8,0a2.9,2.9 0 1,0 -5.8,0M345.7,337.3a2.9,2.9 0 1,0 5.8,0a2.9,2.9 0 1,0 -5.8,0M342.8,348.9a2.9,2.9 0 1,0 5.8,0a2.9,2.9 0 1,0 -5.8,0M342.8,364.3a2.9,2.9 0 1,0 5.8,0a2.9,2.9 0 1,0 -5.8,0M342.8,369.2a2.9,2.9 0 1,0 5.8,0a2.9,2.9 0 1,0 -5.8,0M342.8,376.9a2.9,2.9 0 1,0 5.8,0a2.9,2.9 0 1,0 -5.8,0M345.8,336.2a2.9,2.9 0 1,0 5.8,0a2.9,2.9 0 1,0 -5.8,0M342.5,348.7a2.9,2.9 0 1,0 5.8,0a2.9,2.9 0 1,0 -5.8,0M360.7,332.5a2.9,2.9 0 1,0 5.8,0a2.9,2.9 0 1,0 -5.8,0M357.5,344.3a2.9,2.9 0 1,0 5.8,0a2.9,2.9 0 1,0 -5.8,0M359.6,352.0a2.9,2.9 0 1,0 5.8,0a2.9,2.9 0 1,0 -5.8,0M358.6,360.0a2.9,2.9 0 1,0 5.8,0a2.9,2.9 0 1,0 -5.8,0M381.7,325.2a2.9,2.9 0 1,0 5.8,0a2.9,2.9 0 1,0 -5.8,0M381.7,332.7a2.9,2.9 0 1,0 5.8,0a2.9,2.9 0 1,0 -5.8,0M382.3,378.5a2.9,2.9 0 1,0 5.8,0a2.9,2.9 0 1,0 -5.8,0M404.4,423.7a2.9,2.9 0 1,0 5.8,0a2.9,2.9 0 1,0 -5.8,0M391.3,426.9a2.9,2.9 0 1,0 5.8,0a2.9,2.9 0 1,0 -5.8,0M376.5,424.2a2.9,2.9 0 1,0 5.8,0a2.9,2.9 0 1,0 -5.8,0M366.3,424.2a2.9,2.9 0 1,0 5.8,0a2.9,2.9 0 1,0 -5.8,0M351.5,430.4a2.9,2.9 0 1,0 5.8,0a2.9,2.9 0 1,0 -5.8,0M191.3,427.0a2.9,2.9 0 1,0 5.8,0a2.9,2.9 0 1,0 -5.8,0M209.0,430.8a2.9,2.9 0 1,0 5.8,0a2.9,2.9 0 1,0 -5.8,0M219.6,418.8a2.9,2.9 0 1,0 5.8,0a2.9,2.9 0 1,0 -5.8,0M229.2,424.6a2.9,2.9 0 1,0 5.8,0a2.9,2.9 0 1,0 -5.8,0M243.6,426.5a2.9,2.9 0 1,0 5.8,0a2.9,2.9 0 1,0 -5.8,0M260.9,430.8a2.9,2.9 0 1,0 5.8,0a2.9,2.9 0 1,0 -5.8,0M260.8,430.6a2.9,2.9 0 1,0 5.8,0a2.9,2.9 0 1,0 -5.8,0M270.4,430.6a2.9,2.9 0 1,0 5.8,0a2.9,2.9 0 1,0 -5.8,0M288.6,431.2a2.9,2.9 0 1,0 5.8,0a2.9,2.9 0 1,0 -5.8,0M324.2,424.8a2.9,2.9 0 1,0 5.8,0a2.9,2.9 0 1,0 -5.8,0M349.2,431.2a2.9,2.9 0 1,0 5.8,0a2.9,2.9 0 1,0 -5.8,0M175.3,431.2a2.9,2.9 0 1,0 5.8,0a2.9,2.9 0 1,0 -5.8,0M219.9,418.3a2.9,2.9 0 1,0 5.8,0a2.9,2.9 0 1,0 -5.8,0" fill="#c8001a"/>
<path d="M134.6,392.1a2.9,2.9 0 1,0 5.8,0a2.9,2.9 0 1,0 -5.8,0M133.0,394.8a2.9,2.9 0 1,0 5.8,0a2.9,2.9 0 1,0 -5.8,0M136.1,396.7a2.9,2.9 0 1,0 5.8,0a2.9,2.9 0 1,0 -5.8,0M134.6,398.2a2.9,2.9 0 1,0 5.8,0a2.9,2.9 0 1,0 -5.8,0M138.4,403.6a2.9,2.9 0 1,0 5.8,0a2.9,2.9 0 1,0 -5.8,0M139.7,406.0a2.9,2.9 0 1,0 5.8,0a2.9,2.9 0 1,0 -5.8,0M133.0,409.1a2.9,2.9 0 1,0 5.8,0a2.9,2.9 0 1,0 -5.8,0M140.8,416.8a2.9,2.9 0 1,0 5.8,0a2.9,2.9 0 1,0 -5.8,0M132.3,419.1a2.9,2.9 0 1,0 5.8,0a2.9,2.9 0 1,0 -5.8,0M145.4,423.0a2.9,2.9 0 1,0 5.8,0a2.9,2.9 0 1,0 -5.8,0M121.5,426.0a2.9,2.9 0 1,0 5.8,0a2.9,2.9 0 1,0 -5.8,0M127.6,426.0a2.9,2.9 0 1,0 5.8,0a2.9,2.9 0 1,0 -5.8,0M134.4,392.5a2.9,2.9 0 1,0 5.8,0a2.9,2.9 0 1,0 -5.8,0M136.6,394.8a2.9,2.9 0 1,0 5.8,0a2.9,2.9 0 1,0 -5.8,0M132.9,397.0a2.9,2.9 0 1,0 5.8,0a2.9,2.9 0 1,0 -5.8,0M138.1,404.5a2.9,2.9 0 1,0 5.8,0a2.9,2.9 0 1,0 -5.8,0M132.9,409.0a2.9,2.9 0 1,0 5.8,0a2.9,2.9 0 1,0 -5.8,0M132.1,419.2a2.9,2.9 0 1,0 5.8,0a2.9,2.9 0 1,0 -5.8,0M120.1,426.3a2.9,2.9 0 1,0 5.8,0a2.9,2.9 0 1,0 -5.8,0M126.9,427.0a2.9,2.9 0 1,0 5.8,0a2.9,2.9 0 1,0 -5.8,0M129.9,429.3a2.9,2.9 0 1,0 5.8,0a2.9,2.9 0 1,0 -5.8,0M139.6,416.5a2.9,2.9 0 1,0 5.8,0a2.9,2.9 0 1,0 -5.8,0M133.7,397.3a2.9,2.9 0 1,0 5.8,0a2.9,2.9 0 1,0 -5.8,0M137.6,403.5a2.9,2.9 0 1,0 5.8,0a2.9,2.9 0 1,0 -5.8,0M139.9,406.5a2.9,2.9 0 1,0 5.8,0a2.9,2.9 0 1,0 -5.8,0M132.9,408.8a2.9,2.9 0 1,0 5.8,0a2.9,2.9 0 1,0 -5.8,0M132.2,419.6a2.9,2.9 0 1,0 5.8,0a2.9,2.9 0 1,0 -5.8,0M140.6,417.3a2.9,2.9 0 1,0 5.8,0a2.9,2.9 0 1,0 -5.8,0M142.2,420.4a2.9,2.9 0 1,0 5.8,0a2.9,2.9 0 1,0 -5.8,0M145.3,423.5a2.9,2.9 0 1,0 5.8,0a2.9,2.9 0 1,0 -5.8,0M119.9,426.5a2.9,2.9 0 1,0 5.8,0a2.9,2.9 0 1,0 -5.8,0M127.6,426.5a2.9,2.9 0 1,0 5.8,0a2.9,2.9 0 1,0 -5.8,0M130.6,429.6a2.9,2.9 0 1,0 5.8,0a2.9,2.9 0 1,0 -5.8,0M146.0,431.2a2.9,2.9 0 1,0 5.8,0a2.9,2.9 0 1,0 -5.8,0M147.6,435.0a2.9,2.9 0 1,0 5.8,0a2.9,2.9 0 1,0 -5.8,0M150.6,438.1a2.9,2.9 0 1,0 5.8,0a2.9,2.9 0 1,0 -5.8,0M155.3,440.4a2.9,2.9 0 1,0 5.8,0a2.9,2.9 0 1,0 -5.8,0M159.9,441.2a2.9,2.9 0 1,0 5.8,0a2.9,2.9 0 1,0 -5.8,0M164.5,441.9a2.9,2.9 0 1,0 5.8,0a2.9,2.9 0 1,0 -5.8,0M169.1,441.2a2.9,2.9 0 1,0 5.8,0a2.9,2.9 0 1,0 -5.8,0M173.7,441.9a2.9,2.9 0 1,0 5.8,0a2.9,2.9 0 1,0 -5.8,0M176.8,443.5a2.9,2.9 0 1,0 5.8,0a2.9,2.9 0 1,0 -5.8,0M178.3,437.3a2.9,2.9 0 1,0 5.8,0a2.9,2.9 0 1,0 -5.8,0M182.9,436.5a2.9,2.9 0 1,0 5.8,0a2.9,2.9 0 1,0 -5.8,0M187.6,435.8a2.9,2.9 0 1,0 5.8,0a2.9,2.9 0 1,0 -5.8,0M180.1,436.2a2.9,2.9 0 1,0 5.8,0a2.9,2.9 0 1,0 -5.8,0M186.3,435.4a2.9,2.9 0 1,0 5.8,0a2.9,2.9 0 1,0 -5.8,0M192.5,434.6a2.9,2.9 0 1,0 5.8,0a2.9,2.9 0 1,0 -5.8,0M197.1,433.0a2.9,2.9 0 1,0 5.8,0a2.9,2.9 0 1,0 -5.8,0M200.1,438.5a2.9,2.9 0 1,0 5.8,0a2.9,2.9 0 1,0 -5.8,0M204.8,440.0a2.9,2.9 0 1,0 5.8,0a2.9,2.9 0 1,0 -5.8,0M207.9,441.5a2.9,2.9 0 1,0 5.8,0a2.9,2.9 0 1,0 -5.8,0M210.9,434.6a2.9,2.9 0 1,0 5.8,0a2.9,2.9 0 1,0 -5.8,0M214.8,436.2a2.9,2.9 0 1,0 5.8,0a2.9,2.9 0 1,0 -5.8,0M218.6,432.3a2.9,2.9 0 1,0 5.8,0a2.9,2.9 0 1,0 -5.8,0M221.7,431.5a2.9,2.9 0 1,0 5.8,0a2.9,2.9 0 1,0 -5.8,0M224.8,439.2a2.9,2.9 0 1,0 5.8,0a2.9,2.9 0 1,0 -5.8,0M229.4,437.7a2.9,2.9 0 1,0 5.8,0a2.9,2.9 0 1,0 -5.8,0M234.0,438.5a2.9,2.9 0 1,0 5.8,0a2.9,2.9 0 1,0 -5.8,0M238.6,439.2a2.9,2.9 0 1,0 5.8,0a2.9,2.9 0 1,0 -5.8,0M243.3,438.5a2.9,2.9 0 1,0 5.8,0a2.9,2.9 0 1,0 -5.8,0M247.9,439.2a2.9,2.9 0 1,0 5.8,0a2.9,2.9 0 1,0 -5.8,0M252.5,440.0a2.9,2.9 0 1,0 5.8,0a2.9,2.9 0 1,0 -5.8,0M256.3,439.7a2.9,2.9 0 1,0 5.8,0a2.9,2.9 0 1,0 -5.8,0M254.0,439.6a2.9,2.9 0 1,0 5.8,0a2.9,2.9 0 1,0 -5.8,0M259.8,440.2a2.9,2.9 0 1,0 5.8,0a2.9,2.9 0 1,0 -5.8,0M264.6,438.8a2.9,2.9 0 1,0 5.8,0a2.9,2.9 0 1,0 -5.8,0M269.4,438.3a2.9,2.9 0 1,0 5.8,0a2.9,2.9 0 1,0 -5.8,0M274.2,436.3a2.9,2.9 0 1,0 5.8,0a2.9,2.9 0 1,0 -5.8,0M279.0,438.8a2.9,2.9 0 1,0 5.8,0a2.9,2.9 0 1,0 -5.8,0M282.9,438.3a2.9,2.9 0 1,0 5.8,0a2.9,2.9 0 1,0 -5.8,0M286.1,440.0a2.9,2.9 0 1,0 5.8,0a2.9,2.9 0 1,0 -5.8,0M291.5,435.0a2.9,2.9 0 1,0 5.8,0a2.9,2.9 0 1,0 -5.8,0M293.4,434.4a2.9,2.9 0 1,0 5.8,0a2.9,2.9 0 1,0 -5.8,0M296.7,427.3a2.9,2.9 0 1,0 5.8,0a2.9,2.9 0 1,0 -5.8,0M302.1,429.2a2.9,2.9 0 1,0 5.8,0a2.9,2.9 0 1,0 -5.8,0M306.9,427.7a2.9,2.9 0 1,0 5.8,0a2.9,2.9 0 1,0 -5.8,0M311.7,431.2a2.9,2.9 0 1,0 5.8,0a2.9,2.9 0 1,0 -5.8,0M317.5,427.7a2.9,2.9 0 1,0 5.8,0a2.9,2.9 0 1,0 -5.8,0M320.4,433.1a2.9,2.9 0 1,0 5.8,0a2.9,2.9 0 1,0 -5.8,0M322.3,437.3a2.9,2.9 0 1,0 5.8,0a2.9,2.9 0 1,0 -5.8,0M329.0,438.3a2.9,2.9 0 1,0 5.8,0a2.9,2.9 0 1,0 -5.8,0M333.8,442.1a2.9,2.9 0 1,0 5.8,0a2.9,2.9 0 1,0 -5.8,0M340.6,443.1a2.9,2.9 0 1,0 5.8,0a2.9,2.9 0 1,0 -5.8,0M346.3,444.0a2.9,2.9 0 1,0 5.8,0a2.9,2.9 0 1,0 -5.8,0M350.2,438.3a2.9,2.9 0 1,0 5.8,0a2.9,2.9 0 1,0 -5.8,0M337.1,443.5a2.9,2.9 0 1,0 5.8,0a2.9,2.9 0 1,0 -5.8,0M342.9,443.5a2.9,2.9 0 1,0 5.8,0a2.9,2.9 0 1,0 -5.8,0M348.6,443.8a2.9,2.9 0 1,0 5.8,0a2.9,2.9 0 1,0 -5.8,0M354.0,437.1a2.9,2.9 0 1,0 5.8,0a2.9,2.9 0 1,0 -5.8,0M355.4,427.5a2.9,2.9 0 1,0 5.8,0a2.9,2.9 0 1,0 -5.8,0M356.3,417.9a2.9,2.9 0 1,0 5.8,0a2.9,2.9 0 1,0 -5.8,0M370.8,298.7a2.9,2.9 0 1,0 5.8,0a2.9,2.9 0 1,0 -5.8,0M373.3,301.9a2.9,2.9 0 1,0 5.8,0a2.9,2.9 0 1,0 -5.8,0M372.1,310.2a2.9,2.9 0 1,0 5.8,0a2.9,2.9 0 1,0 -5.8,0M372.7,312.1a2.9,2.9 0 1,0 5.8,0a2.9,2.9 0 1,0 -5.8,0M372.1,320.8a2.9,2.9 0 1,0 5.8,0a2.9,2.9 0 1,0 -5.8,0M373.3,323.7a2.9,2.9 0 1,0 5.8,0a2.9,2.9 0 1,0 -5.8,0M371.3,331.3a2.9,2.9 0 1,0 5.8,0a2.9,2.9 0 1,0 -5.8,0M372.7,334.2a2.9,2.9 0 1,0 5.8,0a2.9,2.9 0 1,0 -5.8,0M371.7,341.9a2.9,2.9 0 1,0 5.8,0a2.9,2.9 0 1,0 -5.8,0M373.6,344.8a2.9,2.9 0 1,0 5.8,0a2.9,2.9 0 1,0 -5.8,0M371.3,352.5a2.9,2.9 0 1,0 5.8,0a2.9,2.9 0 1,0 -5.8,0M373.6,355.4a2.9,2.9 0 1,0 5.8,0a2.9,2.9 0 1,0 -5.8,0M370.8,364.0a2.9,2.9 0 1,0 5.8,0a2.9,2.9 0 1,0 -5.8,0M373.6,366.9a2.9,2.9 0 1,0 5.8,0a2.9,2.9 0 1,0 -5.8,0M360.2,341.0a2.9,2.9 0 1,0 5.8,0a2.9,2.9 0 1,0 -5.8,0M362.1,344.8a2.9,2.9 0 1,0 5.8,0a2.9,2.9 0 1,0 -5.8,0M361.1,351.5a2.9,2.9 0 1,0 5.8,0a2.9,2.9 0 1,0 -5.8,0M362.5,355.4a2.9,2.9 0 1,0 5.8,0a2.9,2.9 0 1,0 -5.8,0M360.2,363.1a2.9,2.9 0 1,0 5.8,0a2.9,2.9 0 1,0 -5.8,0M362.1,366.0a2.9,2.9 0 1,0 5.8,0a2.9,2.9 0 1,0 -5.8,0M362.1,366.9a2.9,2.9 0 1,0 5.8,0a2.9,2.9 0 1,0 -5.8,0M374.6,366.9a2.9,2.9 0 1,0 5.8,0a2.9,2.9 0 1,0 -5.8,0M359.8,373.7a2.9,2.9 0 1,0 5.8,0a2.9,2.9 0 1,0 -5.8,0M357.9,378.8a2.9,2.9 0 1,0 5.8,0a2.9,2.9 0 1,0 -5.8,0M363.1,377.5a2.9,2.9 0 1,0 5.8,0a2.9,2.9 0 1,0 -5.8,0M370.8,375.6a2.9,2.9 0 1,0 5.8,0a2.9,2.9 0 1,0 -5.8,0M375.6,377.5a2.9,2.9 0 1,0 5.8,0a2.9,2.9 0 1,0 -5.8,0M359.8,384.2a2.9,2.9 0 1,0 5.8,0a2.9,2.9 0 1,0 -5.8,0M365.0,388.1a2.9,2.9 0 1,0 5.8,0a2.9,2.9 0 1,0 -5.8,0M370.8,385.8a2.9,2.9 0 1,0 5.8,0a2.9,2.9 0 1,0 -5.8,0M374.6,385.2a2.9,2.9 0 1,0 5.8,0a2.9,2.9 0 1,0 -5.8,0M376.5,391.9a2.9,2.9 0 1,0 5.8,0a2.9,2.9 0 1,0 -5.8,0M358.6,395.8a2.9,2.9 0 1,0 5.8,0a2.9,2.9 0 1,0 -5.8,0M364.0,399.6a2.9,2.9 0 1,0 5.8,0a2.9,2.9 0 1,0 -5.8,0M365.1,398.5a2.9,2.9 0 1,0 5.8,0a2.9,2.9 0 1,0 -5.8,0M370.2,395.8a2.9,2.9 0 1,0 5.8,0a2.9,2.9 0 1,0 -5.8,0M378.4,398.7a2.9,2.9 0 1,0 5.8,0a2.9,2.9 0 1,0 -5.8,0M380.4,402.5a2.9,2.9 0 1,0 5.8,0a2.9,2.9 0 1,0 -5.8,0M358.3,406.3a2.9,2.9 0 1,0 5.8,0a2.9,2.9 0 1,0 -5.8,0M368.8,406.3a2.9,2.9 0 1,0 5.8,0a2.9,2.9 0 1,0 -5.8,0M382.3,407.3a2.9,2.9 0 1,0 5.8,0a2.9,2.9 0 1,0 -5.8,0M367.9,415.0a2.9,2.9 0 1,0 5.8,0a2.9,2.9 0 1,0 -5.8,0M381.3,414.0a2.9,2.9 0 1,0 5.8,0a2.9,2.9 0 1,0 -5.8,0M384.2,416.0a2.9,2.9 0 1,0 5.8,0a2.9,2.9 0 1,0 -5.8,0M386.1,418.8a2.9,2.9 0 1,0 5.8,0a2.9,2.9 0 1,0 -5.8,0M384.2,421.7a2.9,2.9 0 1,0 5.8,0a2.9,2.9 0 1,0 -5.8,0M380.6,418.0a2.9,2.9 0 1,0 5.8,0a2.9,2.9 0 1,0 -5.8,0M382.6,421.0a2.9,2.9 0 1,0 5.8,0a2.9,2.9 0 1,0 -5.8,0M385.6,414.5a2.9,2.9 0 1,0 5.8,0a2.9,2.9 0 1,0 -5.8,0M387.6,420.0a2.9,2.9 0 1,0 5.8,0a2.9,2.9 0 1,0 -5.8,0M383.1,424.0a2.9,2.9 0 1,0 5.8,0a2.9,2.9 0 1,0 -5.8,0M381.1,411.0a2.9,2.9 0 1,0 5.8,0a2.9,2.9 0 1,0 -5.8,0M394.8,388.1a2.9,2.9 0 1,0 5.8,0a2.9,2.9 0 1,0 -5.8,0M397.7,389.0a2.9,2.9 0 1,0 5.8,0a2.9,2.9 0 1,0 -5.8,0M394.8,398.7a2.9,2.9 0 1,0 5.8,0a2.9,2.9 0 1,0 -5.8,0M399.6,399.6a2.9,2.9 0 1,0 5.8,0a2.9,2.9 0 1,0 -5.8,0M406.3,398.7a2.9,2.9 0 1,0 5.8,0a2.9,2.9 0 1,0 -5.8,0M391.9,410.2a2.9,2.9 0 1,0 5.8,0a2.9,2.9 0 1,0 -5.8,0M394.8,409.6a2.9,2.9 0 1,0 5.8,0a2.9,2.9 0 1,0 -5.8,0M400.6,410.2a2.9,2.9 0 1,0 5.8,0a2.9,2.9 0 1,0 -5.8,0M403.4,408.3a2.9,2.9 0 1,0 5.8,0a2.9,2.9 0 1,0 -5.8,0M406.3,408.3a2.9,2.9 0 1,0 5.8,0a2.9,2.9 0 1,0 -5.8,0" fill="#0535a8"/>
<text x="6.50" y="17.00" font-size="8.7" fill="#c8001a" stroke="#c8001a" stroke-width="0.3" text-anchor="start" >Temperature (F)</text>
<text x="438.00" y="17.20" font-size="8.9" fill="#0535a8" stroke="#0535a8" stroke-width="0.3" text-anchor="start" >ANC (10<tspan font-size="5.6" dy="-3.2">3</tspan><tspan dy="3.2"> cells/uL)</tspan></text>
<text x="236.50" y="14.80" font-size="9.0" fill="#231f20" stroke="#231f20" stroke-width="0.3" text-anchor="start" >Patient 19</text>
<text x="37.50" y="226.00" font-size="8.7" fill="#231f20" stroke="#231f20" stroke-width="0.3" text-anchor="start" >Transplant day</text>
<text x="238.00" y="265.00" font-size="9.0" fill="#231f20" stroke="#231f20" stroke-width="0.3" text-anchor="start" >Patient 22</text>
<text x="163.50" y="33.70" font-size="7.3" fill="#231f20" stroke="#231f20" stroke-width="0.22" text-anchor="middle" >MP</text>
<text x="163.00" y="42.30" font-size="7.3" fill="#231f20" stroke="#231f20" stroke-width="0.22" text-anchor="middle" >(Day 10)</text>
<line x1="162.60" y1="50.90" x2="186.36" y2="85.41" stroke="#000" stroke-width="1.4"/>
<polygon points="190.90,92.00 183.57,86.12 186.14,85.08 188.02,83.06" fill="#000"/>
<text x="156.00" y="81.70" font-size="7.3" fill="#231f20" stroke="#231f20" stroke-width="0.22" text-anchor="middle" >HCT 1</text>
<text x="155.50" y="90.40" font-size="7.3" fill="#231f20" stroke="#231f20" stroke-width="0.22" text-anchor="middle" >(Day 0)</text>
<line x1="152.20" y1="105.80" x2="152.20" y2="148.60" stroke="#000" stroke-width="1.4"/>
<polygon points="152.20,156.60 149.50,147.60 152.20,148.20 154.90,147.60" fill="#000"/>
<text x="228.30" y="48.10" font-size="7.3" fill="#231f20" stroke="#231f20" stroke-width="0.22" text-anchor="middle" >Alemtuzumab</text>
<text x="228.60" y="55.90" font-size="7.3" fill="#231f20" stroke="#231f20" stroke-width="0.22" text-anchor="middle" >(Day 16-17)</text>
<line x1="223.10" y1="74.00" x2="229.80" y2="74.00" stroke="#000" stroke-width="1.8"/>
<polygon points="214.30,74.00 224.10,71.00 222.60,74.00 224.10,77.00" fill="#000"/>
<polygon points="238.60,74.00 228.80,71.00 230.30,74.00 228.80,77.00" fill="#000"/>
<text x="229.00" y="111.80" font-size="7.3" fill="#231f20" stroke="#231f20" stroke-width="0.22" text-anchor="start" >Graft loss</text>
<line x1="238.70" y1="116.00" x2="231.35" y2="148.79" stroke="#000" stroke-width="1.4"/>
<polygon points="229.60,156.60 228.93,147.23 231.44,148.40 234.20,148.41" fill="#000"/>
<text x="323.30" y="24.40" font-size="7.3" fill="#231f20" stroke="#231f20" stroke-width="0.22" text-anchor="middle" >Eculizumab</text>
<text x="331.40" y="43.00" font-size="7.3" fill="#231f20" stroke="#231f20" stroke-width="0.22" text-anchor="middle" >Emapalumab</text>
<text x="331.40" y="51.90" font-size="7.3" fill="#231f20" stroke="#231f20" stroke-width="0.22" text-anchor="middle" >(Day 16)</text>
<line x1="329.40" y1="61.70" x2="353.83" y2="110.64" stroke="#000" stroke-width="1.4"/>
<polygon points="357.40,117.80 350.97,110.95 353.65,110.28 355.80,108.54" fill="#000"/>
<text x="296.80" y="84.00" font-size="7.3" fill="#231f20" stroke="#231f20" stroke-width="0.22" text-anchor="middle" >HCT 2</text>
<text x="296.10" y="92.90" font-size="7.3" fill="#231f20" stroke="#231f20" stroke-width="0.22" text-anchor="middle" >(Day 0)</text>
<line x1="299.60" y1="98.60" x2="299.60" y2="142.10" stroke="#000" stroke-width="1.4"/>
<polygon points="299.60,150.10 296.90,141.10 299.60,141.70 302.30,141.10" fill="#000"/>
<text x="379.50" y="52.10" font-size="8.7" fill="#231f20" stroke="#231f20" stroke-width="0.3" text-anchor="start" >Engraftment</text>
<text x="177.50" y="248.00" font-size="7.3" fill="#231f20" stroke="#231f20" stroke-width="0.22" text-anchor="middle" >MP</text>
<text x="177.10" y="256.80" font-size="7.3" fill="#231f20" stroke="#231f20" stroke-width="0.22" text-anchor="middle" >(Day 12)</text>
<line x1="178.00" y1="262.00" x2="178.00" y2="282.00" stroke="#000" stroke-width="1.4"/>
<polygon points="178.00,290.00 175.30,281.00 178.00,281.60 180.70,281.00" fill="#000"/>
<text x="147.90" y="289.30" font-size="7.3" fill="#231f20" stroke="#231f20" stroke-width="0.22" text-anchor="middle" >HCT 1</text>
<text x="147.50" y="297.50" font-size="7.3" fill="#231f20" stroke="#231f20" stroke-width="0.22" text-anchor="middle" >(Day 0)</text>
<text x="225.00" y="291.30" font-size="7.3" fill="#231f20" stroke="#231f20" stroke-width="0.22" text-anchor="middle" >Bortezomib</text>
<text x="224.00" y="299.90" font-size="7.3" fill="#231f20" stroke="#231f20" stroke-width="0.22" text-anchor="middle" >(Day 27-37)</text>
<line x1="207.80" y1="311.80" x2="236.70" y2="311.80" stroke="#000" stroke-width="1.5"/>
<polygon points="199.50,311.80 208.80,309.00 207.30,311.80 208.80,314.60" fill="#000"/>
<polygon points="245.00,311.80 235.70,309.00 237.20,311.80 235.70,314.60" fill="#000"/>
<text x="317.10" y="283.80" font-size="7.3" fill="#231f20" stroke="#231f20" stroke-width="0.22" text-anchor="middle" >HCT 2</text>
<text x="316.40" y="292.40" font-size="7.3" fill="#231f20" stroke="#231f20" stroke-width="0.22" text-anchor="middle" >(Day 0)</text>
<text x="358.40" y="261.90" font-size="7.3" fill="#231f20" stroke="#231f20" stroke-width="0.22" text-anchor="middle" >MP</text>
<text x="358.10" y="271.40" font-size="7.3" fill="#231f20" stroke="#231f20" stroke-width="0.22" text-anchor="middle" >(Day 9-11)</text>
<line x1="355.80" y1="278.30" x2="363.70" y2="278.30" stroke="#000" stroke-width="1.5"/>
<polygon points="347.50,278.30 356.80,275.50 355.30,278.30 356.80,281.10" fill="#000"/>
<polygon points="372.00,278.30 362.70,275.50 364.20,278.30 362.70,281.10" fill="#000"/>
<text x="390.80" y="253.80" font-size="8.7" fill="#231f20" stroke="#231f20" stroke-width="0.3" text-anchor="start" >Engraftment</text>
<line x1="147.50" y1="311.60" x2="147.50" y2="381.70" stroke="#000" stroke-width="1.4"/>
<polygon points="147.50,389.70 144.80,380.70 147.50,381.30 150.20,380.70" fill="#000"/>
<text x="195.50" y="341.30" font-size="7.3" fill="#231f20" stroke="#231f20" stroke-width="0.22" text-anchor="middle" >Graft</text>
<text x="195.50" y="350.60" font-size="7.3" fill="#231f20" stroke="#231f20" stroke-width="0.22" text-anchor="middle" >loss</text>
<line x1="194.60" y1="356.00" x2="188.12" y2="377.44" stroke="#000" stroke-width="1.4"/>
<polygon points="185.80,385.10 185.82,375.70 188.23,377.06 190.99,377.27" fill="#000"/>
<line x1="321.60" y1="302.00" x2="329.01" y2="367.95" stroke="#000" stroke-width="1.4"/>
<polygon points="329.90,375.90 326.21,367.26 328.96,367.55 331.58,366.65" fill="#000"/>
<line x1="413.10" y1="303.10" x2="398.44" y2="321.80" stroke="#000" stroke-width="1.4"/>
<polygon points="393.50,328.10 396.93,319.35 398.68,321.49 401.18,322.68" fill="#000"/>
<text x="432.50" y="286.30" font-size="7.3" fill="#231f20" stroke="#231f20" stroke-width="0.22" text-anchor="middle" >Eculizumab</text>
<text x="432.70" y="295.00" font-size="7.3" fill="#231f20" stroke="#231f20" stroke-width="0.22" text-anchor="middle" >Emapalumab</text>
<text x="432.90" y="304.40" font-size="7.3" fill="#231f20" stroke="#231f20" stroke-width="0.22" text-anchor="middle" >(Day 21)</text>
<g shape-rendering="crispEdges">
<rect x="1" y="1" width="517" height="1" fill="#dcdcdc"/>
<rect x="1" y="1" width="1" height="463" fill="#d6d6d6"/>
<rect x="518" y="1" width="1" height="464" fill="#808080"/>
<rect x="1" y="464" width="518" height="1" fill="#8a8a8a"/>
<rect x="0" y="0" width="520" height="1" fill="#000"/>
<rect x="0" y="0" width="1" height="466" fill="#000"/>
<rect x="519" y="0" width="1" height="466" fill="#000"/>
<rect x="0" y="465" width="520" height="1" fill="#000"/>
</g>
</svg>
</body></html>
